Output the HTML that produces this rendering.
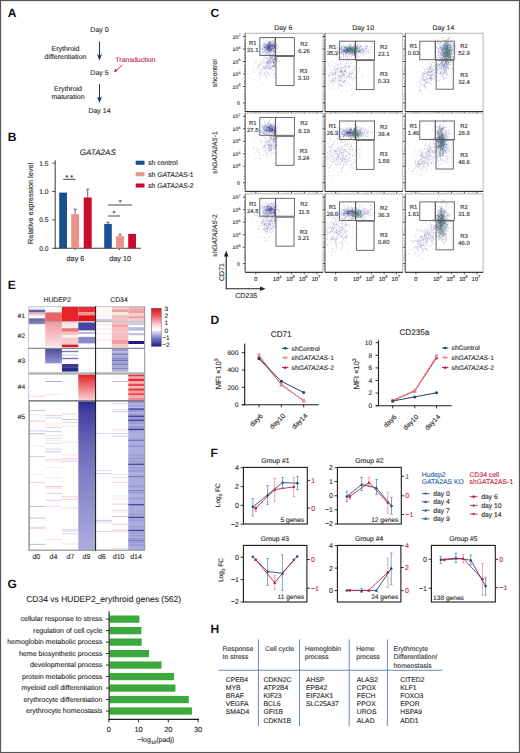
<!DOCTYPE html>
<html><head><meta charset="utf-8"><style>
html,body{margin:0;padding:0;background:#fff;}
body{width:520px;height:753px;overflow:hidden;}
svg{display:block;font-family:"Liberation Sans", sans-serif;text-rendering:geometricPrecision;}
</style></head><body>
<svg width="520" height="753" viewBox="0 0 520 753" fill="#2b2b2b">
<rect x="0" y="0" width="520" height="753" fill="#fff"/>
<text x="7.80" y="17.40" font-size="12" font-weight="bold" fill="#111">A</text>
<text x="99.50" y="32.20" font-size="7" text-anchor="middle" stroke="#2b2b2b" stroke-width="0.12">Day 0</text>
<text x="65.50" y="50.80" font-size="7" text-anchor="middle" stroke="#2b2b2b" stroke-width="0.12">Erythroid</text>
<text x="65.50" y="58.50" font-size="7" text-anchor="middle" stroke="#2b2b2b" stroke-width="0.12">differentiation</text>
<line x1="99.50" y1="41.50" x2="99.50" y2="56.00" stroke="#1c3862" stroke-width="1.0" />
<path d="M97.0 54.3 L99.5 60.5 L102.0 54.3 L99.5 55.6 Z" stroke="none" stroke-width="1" fill="#1c3862" />
<text x="99.50" y="74.60" font-size="7" text-anchor="middle" stroke="#2b2b2b" stroke-width="0.12">Day 5</text>
<text x="135.40" y="62.30" font-size="7" text-anchor="middle" fill="#c41e55" stroke="#c41e55" stroke-width="0.12">Transduction</text>
<line x1="122.30" y1="65.00" x2="116.00" y2="70.60" stroke="#c41e55" stroke-width="0.9" />
<path d="M114.2 72.2 L115.2 68.6 L117.6 71.0 Z" stroke="none" stroke-width="1" fill="#c41e55" />
<text x="68.00" y="91.20" font-size="7" text-anchor="middle" stroke="#2b2b2b" stroke-width="0.12">Erythroid</text>
<text x="68.00" y="98.80" font-size="7" text-anchor="middle" stroke="#2b2b2b" stroke-width="0.12">maturation</text>
<line x1="99.50" y1="84.20" x2="99.50" y2="98.50" stroke="#1c3862" stroke-width="1.0" />
<path d="M97.0 96.8 L99.5 103.0 L102.0 96.8 L99.5 98.1 Z" stroke="none" stroke-width="1" fill="#1c3862" />
<text x="99.50" y="112.60" font-size="7" text-anchor="middle" stroke="#2b2b2b" stroke-width="0.12">Day 14</text>
<text x="7.80" y="141.20" font-size="12" font-weight="bold" fill="#111">B</text>
<text x="97.80" y="155.00" font-size="8.1" text-anchor="middle" stroke="#2b2b2b" stroke-width="0.12" font-style="italic">GATA2AS</text>
<line x1="55.20" y1="160.30" x2="55.20" y2="248.80" stroke="#3a3a3a" stroke-width="1" />
<line x1="54.70" y1="248.30" x2="140.80" y2="248.30" stroke="#3a3a3a" stroke-width="1.1" />
<line x1="52.30" y1="163.10" x2="55.20" y2="163.10" stroke="#3a3a3a" stroke-width="0.9" />
<text x="48.50" y="165.50" font-size="6.7" text-anchor="end" stroke="#2b2b2b" stroke-width="0.12">1.5</text>
<line x1="52.30" y1="191.50" x2="55.20" y2="191.50" stroke="#3a3a3a" stroke-width="0.9" />
<text x="48.50" y="193.90" font-size="6.7" text-anchor="end" stroke="#2b2b2b" stroke-width="0.12">1.0</text>
<line x1="52.30" y1="219.90" x2="55.20" y2="219.90" stroke="#3a3a3a" stroke-width="0.9" />
<text x="48.50" y="222.30" font-size="6.7" text-anchor="end" stroke="#2b2b2b" stroke-width="0.12">0.5</text>
<line x1="52.30" y1="248.30" x2="55.20" y2="248.30" stroke="#3a3a3a" stroke-width="0.9" />
<text x="48.50" y="250.70" font-size="6.7" text-anchor="end" stroke="#2b2b2b" stroke-width="0.12">0.0</text>
<line x1="75.20" y1="248.30" x2="75.20" y2="250.10" stroke="#3a3a3a" stroke-width="0.9" />
<line x1="119.40" y1="248.30" x2="119.40" y2="250.10" stroke="#3a3a3a" stroke-width="0.9" />
<text x="75.50" y="260.90" font-size="7.3" text-anchor="middle" stroke="#2b2b2b" stroke-width="0.12">day 6</text>
<text x="120.10" y="260.90" font-size="7.3" text-anchor="middle" stroke="#2b2b2b" stroke-width="0.12">day 10</text>
<text x="33.40" y="203.40" font-size="7.35" text-anchor="middle" stroke="#2b2b2b" stroke-width="0.12" transform="rotate(-90 33.40 203.40)">Relative expression level</text>
<rect x="59.20" y="192.60" width="7.80" height="55.70" fill="#1b4f91" />
<rect x="71.20" y="214.20" width="7.90" height="34.10" fill="#e8928a" />
<line x1="75.15" y1="214.20" x2="75.15" y2="209.20" stroke="#444" stroke-width="0.8" />
<line x1="73.55" y1="209.20" x2="76.75" y2="209.20" stroke="#444" stroke-width="0.8" />
<rect x="83.70" y="197.50" width="8.00" height="50.80" fill="#cc0a2e" />
<line x1="87.70" y1="197.50" x2="87.70" y2="189.20" stroke="#444" stroke-width="0.8" />
<line x1="86.10" y1="189.20" x2="89.30" y2="189.20" stroke="#444" stroke-width="0.8" />
<rect x="104.20" y="223.90" width="7.60" height="24.40" fill="#1b4f91" />
<line x1="108.00" y1="223.90" x2="108.00" y2="222.30" stroke="#444" stroke-width="0.8" />
<line x1="106.40" y1="222.30" x2="109.60" y2="222.30" stroke="#444" stroke-width="0.8" />
<rect x="116.00" y="236.00" width="8.00" height="12.30" fill="#e8928a" />
<line x1="120.00" y1="236.00" x2="120.00" y2="234.30" stroke="#444" stroke-width="0.8" />
<line x1="118.40" y1="234.30" x2="121.60" y2="234.30" stroke="#444" stroke-width="0.8" />
<rect x="128.20" y="233.90" width="7.80" height="14.40" fill="#cc0a2e" />
<line x1="63.20" y1="179.30" x2="75.50" y2="179.30" stroke="#333" stroke-width="0.9" />
<text x="69.30" y="179.60" font-size="7.2" text-anchor="middle" stroke="#2b2b2b" stroke-width="0.12">* *</text>
<line x1="108.10" y1="205.00" x2="132.20" y2="205.00" stroke="#333" stroke-width="0.9" />
<text x="120.10" y="205.20" font-size="7.4" text-anchor="middle" stroke="#2b2b2b" stroke-width="0.12">*</text>
<line x1="108.10" y1="216.00" x2="120.00" y2="216.00" stroke="#333" stroke-width="0.9" />
<text x="114.00" y="216.40" font-size="7.4" text-anchor="middle" stroke="#2b2b2b" stroke-width="0.12">*</text>
<rect x="135.70" y="160.70" width="8.80" height="4.10" fill="#1b4f91" />
<text x="148.20" y="165.30" font-size="6.8" stroke="#2b2b2b" stroke-width="0.12">sh control</text>
<rect x="135.70" y="172.20" width="8.80" height="4.10" fill="#e8928a" />
<text x="148.20" y="176.80" font-size="6.8" stroke="#2b2b2b" stroke-width="0.12">sh <tspan font-style="italic">GATA2AS</tspan>-1</text>
<rect x="135.70" y="183.50" width="8.80" height="4.10" fill="#cc0a2e" />
<text x="148.20" y="188.10" font-size="6.8" stroke="#2b2b2b" stroke-width="0.12">sh <tspan font-style="italic">GATA2AS</tspan>-2</text>
<text x="210.60" y="17.40" font-size="12" font-weight="bold" fill="#111">C</text>
<text x="283.30" y="29.80" font-size="6.85" text-anchor="middle" stroke="#2b2b2b" stroke-width="0.12">Day 6</text>
<text x="363.10" y="29.80" font-size="6.85" text-anchor="middle" stroke="#2b2b2b" stroke-width="0.12">Day 10</text>
<text x="443.40" y="29.80" font-size="6.85" text-anchor="middle" stroke="#2b2b2b" stroke-width="0.12">Day 14</text>
<rect x="245.20" y="33.20" width="77.80" height="78.40" fill="#fff" stroke="#a0a0a0" stroke-width="0.8" />
<path d="M269.2 47.1h0M270.4 43.5h0M268.1 48.3h0M265.6 44.4h0M267.4 51.8h0M265.2 52.0h0M269.4 51.4h0M274.6 45.1h0M267.2 49.8h0M266.7 47.7h0M271.2 46.0h0M270.6 46.3h0M269.6 43.2h0M265.5 43.4h0M269.1 50.4h0M272.0 46.6h0M263.8 49.4h0M267.4 51.5h0M261.6 43.1h0M264.0 45.9h0M261.8 49.6h0M268.3 49.2h0M264.1 47.3h0M270.3 51.0h0M269.8 48.3h0M268.5 43.7h0M259.1 46.3h0M267.0 50.8h0M269.0 49.3h0M269.7 41.1h0M263.1 53.4h0M267.3 50.1h0M265.3 53.0h0M266.0 47.0h0M273.4 45.9h0M266.0 44.4h0M269.1 56.4h0M272.7 46.5h0M266.9 53.6h0M268.8 45.6h0M269.6 48.2h0M269.5 41.9h0M264.3 47.2h0M269.5 51.0h0M274.6 42.5h0M263.0 52.5h0M272.6 48.3h0M269.7 44.0h0M266.6 46.4h0M277.2 44.7h0M272.2 47.0h0M264.4 46.7h0M269.5 44.8h0M271.5 46.3h0M268.4 44.3h0M271.9 42.8h0M268.9 47.6h0M271.9 50.3h0M275.0 41.4h0M266.5 48.2h0M270.0 45.3h0M267.3 44.7h0M269.7 50.5h0M264.5 46.8h0M266.9 53.2h0M268.4 45.2h0M272.8 48.4h0M273.8 46.1h0M263.9 46.0h0M266.0 50.3h0M271.8 46.7h0M261.2 51.2h0M267.3 47.9h0M268.8 44.0h0M274.2 46.5h0M272.0 47.4h0M267.9 51.2h0M267.7 44.9h0M268.2 47.7h0M275.3 40.7h0M267.5 50.2h0M268.0 44.2h0M270.6 41.3h0M268.7 47.6h0M268.4 51.6h0M264.7 43.3h0M269.2 44.0h0M267.4 45.5h0M273.9 43.0h0M271.8 48.5h0M269.1 44.9h0M271.9 44.8h0M267.8 49.9h0M273.4 44.4h0M269.2 49.2h0M271.5 44.0h0M264.0 44.4h0M270.6 41.2h0M262.4 55.3h0M261.1 48.0h0M268.0 48.7h0M265.6 48.2h0M269.9 48.1h0M278.2 46.3h0M265.9 54.8h0M266.7 44.6h0M270.0 42.2h0M271.2 43.9h0M268.5 43.2h0M268.4 50.4h0M272.0 50.0h0M271.3 44.0h0M265.1 43.7h0M268.9 46.5h0M269.3 52.4h0M265.0 38.8h0M270.2 49.3h0M265.8 44.6h0M273.1 50.6h0M270.0 43.9h0M269.6 46.7h0M266.8 42.9h0M268.7 44.4h0M261.2 53.9h0M264.7 51.3h0M270.7 46.1h0M260.7 46.2h0M272.6 40.6h0M262.2 47.6h0M272.2 47.1h0M265.8 48.0h0M272.3 46.8h0M269.7 43.8h0M263.1 48.5h0M274.2 46.7h0M275.0 51.1h0M268.9 54.1h0M268.1 47.4h0M268.6 45.2h0M265.3 48.2h0M273.6 44.8h0M267.0 45.5h0M269.0 47.5h0M266.0 44.7h0M266.7 50.2h0M264.1 48.2h0M274.2 47.7h0M268.6 47.2h0M273.1 44.5h0M269.3 44.4h0M266.4 47.4h0M267.9 46.0h0M267.0 48.9h0M269.2 47.7h0M267.7 43.3h0M268.0 48.1h0M263.7 44.1h0M266.0 46.2h0M275.8 45.5h0M266.5 41.1h0M265.0 48.8h0M270.5 48.0h0M274.8 46.2h0M263.4 47.3h0M268.4 46.6h0M266.7 44.8h0M262.2 48.0h0M272.1 45.3h0M269.1 48.0h0M269.5 43.5h0M266.2 49.0h0M271.0 47.9h0M267.0 47.6h0M268.6 46.3h0M264.8 50.4h0M264.3 42.8h0M274.5 48.3h0M267.2 48.9h0M270.4 48.5h0M269.1 49.0h0M267.4 45.8h0M267.2 47.2h0M271.7 49.4h0M268.0 49.4h0M268.6 48.5h0M269.3 42.5h0M273.9 48.7h0M271.9 51.2h0M270.7 50.9h0M266.9 48.9h0M263.7 43.3h0M273.0 50.3h0M273.1 46.5h0M268.6 39.1h0M271.4 48.6h0M272.3 42.0h0M272.5 42.7h0M272.9 44.9h0M267.4 52.4h0M275.3 45.4h0M264.2 49.5h0M272.6 53.1h0M271.2 52.8h0M272.7 46.7h0M276.7 45.6h0M275.1 42.3h0M264.6 46.1h0M262.4 50.3h0M272.5 48.5h0M265.1 48.8h0M269.2 51.1h0M272.6 44.5h0M262.6 48.7h0M260.8 51.7h0M270.2 49.5h0M269.4 51.3h0M268.2 49.2h0M269.4 46.6h0M265.8 49.5h0M263.1 45.3h0M268.5 42.2h0M265.3 50.4h0M262.6 48.7h0M271.2 48.4h0M269.0 41.9h0M270.8 46.2h0M265.2 46.3h0M266.6 45.2h0M265.2 40.7h0M265.7 47.2h0M270.0 50.6h0M266.1 49.6h0M270.6 45.4h0M270.6 47.4h0M277.3 48.9h0M263.6 39.2h0M272.8 46.7h0M268.8 49.6h0M269.1 50.0h0M263.4 54.5h0M267.4 51.9h0M272.2 48.3h0M268.9 48.8h0M269.5 50.3h0M268.0 46.1h0M273.8 46.8h0M269.1 50.8h0M260.4 56.0h0M266.4 47.6h0M261.3 48.9h0M256.2 50.7h0M267.1 52.7h0M274.5 46.7h0M269.4 52.7h0M264.5 45.2h0M265.4 47.7h0M273.7 46.2h0M269.8 50.3h0M269.4 51.3h0M269.0 42.6h0M269.4 44.5h0M272.4 48.3h0M271.4 45.1h0M270.1 42.3h0M265.0 52.0h0M271.2 49.0h0M266.5 49.9h0M273.6 45.3h0M264.1 52.1h0M268.6 47.0h0M269.2 51.5h0M263.9 45.5h0M276.1 43.6h0M275.0 47.4h0M267.3 45.6h0M272.3 49.5h0M270.7 48.3h0M258.7 46.4h0M270.2 47.8h0M269.0 46.5h0M269.5 50.8h0M264.9 46.3h0M268.1 46.4h0M268.5 52.0h0M274.0 54.5h0M270.5 54.3h0M269.2 47.9h0M275.3 47.4h0M267.0 53.3h0M267.6 47.5h0M261.9 45.6h0M275.5 47.0h0M273.1 48.6h0M272.9 44.2h0M271.9 41.6h0M269.6 42.7h0M270.1 49.8h0M268.2 45.3h0M268.4 47.4h0M269.4 48.4h0M275.2 48.8h0M271.4 46.2h0M269.0 49.5h0M266.9 45.1h0M266.7 46.9h0M275.6 43.1h0M271.2 51.2h0M269.5 47.6h0M267.8 45.4h0M264.8 47.3h0M268.9 47.0h0M272.7 49.5h0M267.6 42.5h0M268.3 44.3h0M268.3 46.6h0M269.6 56.3h0M262.8 52.1h0M268.3 47.5h0M265.8 50.7h0M272.7 54.1h0M266.1 47.4h0M271.5 46.0h0M275.3 50.8h0M267.9 49.6h0M266.8 50.4h0M270.0 45.8h0M269.2 54.3h0M265.2 54.3h0M271.0 49.3h0M277.3 48.6h0M268.2 40.9h0M268.4 50.0h0M265.0 47.8h0M270.5 49.0h0M264.2 50.9h0M264.8 47.3h0M274.3 41.0h0M265.6 49.6h0M273.5 44.4h0M275.3 45.5h0M270.2 45.4h0M271.4 46.1h0M277.0 38.4h0M268.4 52.0h0M266.8 49.0h0M263.8 52.5h0M269.4 54.5h0M275.1 46.7h0M273.0 40.8h0M265.4 45.3h0M265.8 44.2h0M267.2 46.3h0M270.4 47.8h0M268.4 41.0h0M270.1 48.7h0M270.4 42.3h0M268.0 48.9h0M269.0 47.4h0M270.0 46.5h0M268.9 47.5h0M271.2 45.5h0M276.7 44.3h0M271.6 41.5h0M269.4 47.6h0M262.5 55.2h0M270.8 54.2h0M261.4 53.6h0M263.6 51.1h0M272.6 44.8h0M272.0 52.2h0M268.6 47.6h0M262.4 48.7h0M267.7 47.0h0M266.5 48.5h0M271.7 45.8h0M278.2 45.8h0M270.1 43.8h0M266.1 47.0h0M264.5 56.3h0M269.0 47.5h0M269.9 62.2h0M272.6 66.7h0M273.2 49.2h0M266.8 67.4h0M270.0 57.1h0M273.9 65.7h0M271.6 60.6h0M271.1 57.3h0M276.1 61.6h0M268.3 58.5h0M271.0 57.3h0M268.9 54.8h0M275.9 59.6h0M263.9 68.0h0M268.4 68.7h0M268.8 62.3h0M273.0 66.6h0M272.8 61.3h0M275.6 59.4h0M265.2 67.8h0M273.3 66.5h0M269.7 60.9h0M268.4 62.0h0M272.6 60.5h0M267.5 64.2h0M263.4 60.9h0M269.4 68.2h0M265.5 62.6h0M268.4 65.7h0M272.0 57.3h0M271.8 63.6h0M276.3 61.6h0M270.0 60.3h0M265.3 75.3h0M268.1 65.4h0M267.5 73.0h0M266.4 69.2h0M272.2 58.0h0M268.4 61.3h0M263.8 67.8h0M273.1 61.4h0M270.3 62.6h0M271.9 60.1h0M271.1 52.5h0M272.9 60.0h0M270.8 50.5h0M275.0 62.1h0M272.2 57.7h0M272.1 57.8h0M272.1 60.4h0M265.6 66.0h0M270.1 55.0h0M269.8 53.5h0M271.4 56.3h0M265.9 53.7h0M276.4 54.4h0M271.1 70.4h0M266.5 58.7h0M264.7 68.4h0M269.7 55.5h0M270.4 63.9h0M268.2 61.7h0M271.0 61.7h0M268.5 66.2h0M272.6 70.5h0M268.2 64.4h0M270.6 62.9h0M274.1 55.5h0M279.7 61.0h0M267.2 62.6h0M269.1 67.3h0M267.8 63.4h0M273.4 70.0h0M266.7 53.7h0M269.0 61.4h0M270.6 66.9h0M267.3 62.0h0M267.3 59.6h0M269.0 61.6h0M263.3 58.4h0M265.6 65.2h0M269.3 75.7h0M271.2 68.0h0M270.0 56.7h0M264.5 60.5h0M269.1 60.8h0M273.5 66.2h0M272.6 57.0h0M270.4 58.7h0M267.6 68.3h0M272.9 65.7h0M268.7 61.2h0M266.6 58.3h0M267.9 55.4h0M275.8 56.1h0M271.5 50.1h0M274.8 64.2h0M269.0 59.7h0M274.0 63.2h0M268.6 73.0h0M270.1 68.6h0M279.4 52.1h0M273.4 65.5h0M268.9 69.1h0M270.4 58.4h0M271.8 56.7h0M274.9 59.6h0M269.0 54.6h0M264.6 72.8h0M269.7 50.0h0M270.8 56.4h0M271.1 60.6h0M275.3 58.8h0M271.8 62.5h0M273.5 62.3h0M266.8 62.9h0M273.7 66.7h0M278.0 47.5h0M273.4 60.9h0M271.6 58.0h0M271.2 62.6h0M277.0 60.4h0M267.5 58.9h0M270.3 59.0h0M272.3 65.6h0M273.3 62.8h0M269.2 59.4h0M271.8 72.4h0M269.7 74.8h0M271.1 54.3h0M270.2 64.0h0M266.7 77.2h0M270.6 66.3h0M273.8 61.9h0M267.3 62.7h0M269.9 59.8h0M273.0 60.0h0M267.0 61.1h0M271.3 65.8h0M267.0 61.9h0M274.7 58.0h0M278.8 52.1h0M277.8 58.6h0M269.9 57.9h0M273.3 60.0h0M271.1 67.5h0M271.1 64.0h0M276.1 62.3h0M266.1 66.2h0M274.4 60.8h0M270.5 61.6h0M275.6 58.3h0M271.4 65.9h0M268.3 57.6h0M271.7 68.8h0M273.3 61.2h0M270.8 58.2h0M272.4 58.8h0M268.9 59.5h0M263.2 66.6h0M273.9 56.9h0M273.1 67.0h0M271.2 57.9h0M270.9 50.2h0M274.3 56.7h0M269.1 52.4h0M268.2 63.2h0M270.0 68.1h0M274.9 63.6h0M265.8 57.5h0M274.9 56.2h0M268.5 72.6h0M266.8 65.7h0M275.1 60.1h0M270.4 67.9h0M266.1 77.2h0M269.4 69.6h0M274.0 61.4h0M274.9 62.1h0M269.2 66.1h0M272.1 58.3h0M273.2 55.5h0M268.4 63.5h0M271.9 56.6h0M270.6 61.9h0M268.8 63.6h0M269.0 75.3h0M270.9 57.6h0M270.8 61.5h0M268.7 62.3h0M269.2 65.2h0M274.6 65.9h0M271.4 59.3h0M273.8 56.4h0M274.9 51.6h0M272.8 56.4h0M278.6 61.3h0M267.8 63.8h0M273.5 55.5h0M269.6 60.8h0M277.2 59.3h0M276.7 62.0h0M263.9 62.3h0M267.3 62.5h0M273.0 51.6h0M273.5 54.9h0M273.3 69.5h0M270.5 50.8h0M272.3 59.7h0M273.0 62.3h0M259.5 65.0h0M257.6 67.0h0M260.9 62.7h0M261.2 69.3h0M260.8 75.2h0M252.8 68.8h0M260.5 62.0h0M257.4 81.3h0M258.7 66.6h0M262.2 60.7h0M264.1 68.4h0M265.2 69.0h0M259.0 65.1h0M265.4 71.1h0M266.5 63.3h0M266.3 60.9h0M267.5 66.7h0M260.5 72.9h0M260.4 64.9h0M264.9 68.6h0M255.1 70.1h0M262.1 84.0h0M258.8 65.1h0M259.5 76.8h0M253.4 71.0h0M257.2 69.1h0M261.1 72.4h0M265.2 71.7h0M265.7 73.7h0M260.8 70.2h0M260.3 65.1h0M257.5 66.6h0M263.0 70.4h0M260.1 72.0h0M263.9 75.1h0M269.1 67.4h0M261.1 74.3h0M254.5 79.6h0M257.3 70.7h0M254.6 62.3h0M255.8 63.6h0M267.1 57.6h0M262.2 76.9h0M254.4 66.1h0M264.1 74.1h0M266.9 69.3h0M259.6 78.7h0M258.2 75.2h0M259.7 68.2h0M262.5 66.5h0M264.1 67.5h0M266.5 67.1h0M266.7 63.0h0M266.5 65.9h0M267.3 75.0h0M264.2 57.3h0M254.3 72.4h0M260.6 63.2h0M262.6 68.7h0M259.5 73.7h0M265.3 66.2h0M259.6 73.3h0M257.0 60.8h0M267.7 71.9h0M264.2 63.5h0M262.2 71.4h0M265.4 67.6h0M266.0 51.5h0M262.7 63.3h0M250.1 73.9h0" stroke="#6a6cb4" stroke-opacity="0.5" stroke-width="0.7" stroke-linecap="round" fill="none"/>
<path d="M275.9 50.5h0M275.0 59.6h0M275.0 55.5h0M273.8 55.4h0M275.8 58.1h0M276.1 48.6h0M274.8 50.0h0M274.6 39.4h0M273.7 49.7h0M275.4 41.8h0M276.7 52.0h0M275.3 45.5h0M275.7 54.0h0M275.2 56.8h0M274.1 41.8h0M275.7 46.7h0M273.9 45.7h0M274.7 59.2h0M275.0 66.9h0M275.4 60.0h0M275.1 50.4h0M275.1 64.9h0M274.3 41.1h0M273.9 65.2h0M274.8 48.0h0M273.9 74.4h0M273.9 65.8h0M274.5 44.9h0M273.5 54.6h0M273.9 51.5h0M273.7 54.0h0M274.9 41.3h0M275.1 47.7h0M276.2 56.9h0M273.8 55.0h0M274.3 62.8h0M275.4 53.8h0M274.6 72.0h0M274.6 47.5h0M276.0 55.3h0M274.6 37.9h0M274.0 43.2h0M273.9 63.8h0M275.0 45.7h0M275.0 57.4h0M273.8 52.7h0M274.1 44.8h0M275.2 50.4h0M275.2 49.1h0M274.3 49.3h0M275.2 59.2h0M275.2 58.4h0M273.6 48.6h0M274.6 45.9h0M275.1 55.5h0M274.4 52.4h0M273.3 61.4h0M274.6 74.4h0M275.3 59.9h0M275.9 52.9h0M273.3 51.8h0M276.6 46.3h0M274.0 45.9h0M275.5 45.2h0M275.7 50.0h0M275.5 49.8h0M274.9 59.1h0M274.0 50.0h0M275.2 51.6h0M274.3 43.5h0M273.0 66.4h0M276.8 57.3h0M275.3 67.5h0M276.1 59.6h0M274.2 65.1h0M275.8 51.2h0M275.9 58.9h0M275.9 74.8h0M274.8 43.4h0M274.0 62.6h0M274.7 66.8h0M273.3 56.6h0M273.6 59.3h0M274.9 63.4h0M274.1 47.8h0M274.7 56.5h0M274.7 46.1h0M276.2 47.7h0M275.7 48.1h0M274.8 52.0h0M275.6 54.4h0M274.3 56.9h0M274.6 41.6h0M275.4 69.4h0M273.9 62.7h0M274.6 59.1h0M273.9 50.3h0M274.9 52.5h0M275.9 57.7h0M274.3 56.6h0M275.0 39.4h0M274.2 59.3h0M274.0 77.1h0M273.9 38.1h0M275.8 61.4h0M276.5 56.2h0M275.1 52.3h0M274.3 64.5h0M275.3 43.5h0M270.6 45.8h0M274.0 47.1h0M269.7 45.1h0M269.1 47.8h0M270.5 49.1h0M269.1 45.4h0M274.2 46.7h0M267.9 49.7h0M272.4 46.1h0M267.0 47.6h0M271.9 44.9h0M269.9 45.4h0M263.6 46.0h0M270.2 52.0h0M267.5 46.3h0M269.1 46.0h0M274.2 46.0h0M267.3 46.8h0M267.5 48.6h0M273.9 47.6h0M270.5 51.7h0M274.2 47.7h0M271.0 50.4h0M267.9 47.8h0M270.0 48.5h0M273.4 44.0h0M272.6 46.9h0M270.2 47.0h0M270.3 46.7h0M269.9 42.5h0M268.7 49.1h0M275.2 46.3h0M270.2 46.2h0M267.3 46.6h0M269.0 46.7h0M272.1 48.1h0M271.8 44.4h0M269.8 45.2h0M268.5 47.8h0M270.3 47.5h0M265.9 46.4h0M266.9 45.9h0M272.3 45.4h0M269.0 47.1h0M271.2 49.8h0M273.3 44.9h0M271.9 50.6h0M270.3 49.1h0M275.7 46.2h0M271.9 48.9h0M269.3 44.0h0M272.1 43.4h0M271.2 44.4h0M268.0 46.3h0M270.4 46.5h0M269.8 46.1h0M265.1 47.4h0M269.8 42.5h0M269.5 48.3h0M269.1 44.1h0M266.0 45.7h0M269.3 46.3h0M270.1 44.7h0M270.5 44.2h0M267.3 45.0h0M271.8 47.2h0M267.1 48.5h0M269.6 48.4h0M273.6 45.0h0M268.4 45.5h0M268.9 45.2h0M273.0 48.2h0M269.2 42.7h0M269.4 49.9h0M270.8 46.1h0M272.9 45.5h0M264.5 47.9h0M268.1 49.5h0M267.6 48.0h0M267.4 49.5h0M268.0 47.5h0M268.0 49.9h0M271.0 49.9h0M267.9 47.0h0M270.5 50.4h0M271.2 47.6h0M268.3 47.4h0M270.5 45.2h0M274.4 46.6h0M271.0 48.9h0" stroke="#2e3070" stroke-opacity="0.5" stroke-width="0.7" stroke-linecap="round" fill="none"/>
<rect x="259.80" y="37.60" width="15.70" height="17.90" fill="none" stroke="#5a5a5a" stroke-width="0.9" />
<rect x="275.50" y="37.60" width="18.90" height="17.90" fill="none" stroke="#5a5a5a" stroke-width="0.9" />
<rect x="276.00" y="56.50" width="18.00" height="29.00" fill="none" stroke="#5a5a5a" stroke-width="0.9" />
<text x="252.80" y="45.00" font-size="5.9" text-anchor="middle" stroke="#2b2b2b" stroke-width="0.12">R1</text>
<text x="252.80" y="52.20" font-size="5.9" text-anchor="middle" stroke="#2b2b2b" stroke-width="0.12">31.1</text>
<text x="304.00" y="45.50" font-size="5.9" text-anchor="middle" stroke="#2b2b2b" stroke-width="0.12">R2</text>
<text x="304.00" y="52.80" font-size="5.9" text-anchor="middle" stroke="#2b2b2b" stroke-width="0.12">6.26</text>
<text x="303.60" y="73.40" font-size="5.9" text-anchor="middle" stroke="#2b2b2b" stroke-width="0.12">R3</text>
<text x="303.60" y="79.70" font-size="5.9" text-anchor="middle" stroke="#2b2b2b" stroke-width="0.12">3.10</text>
<line x1="245.20" y1="33.20" x2="245.20" y2="111.60" stroke="#555" stroke-width="0.8" />
<line x1="245.20" y1="111.60" x2="323.00" y2="111.60" stroke="#222" stroke-width="1.0" />
<line x1="243.00" y1="36.50" x2="245.20" y2="36.50" stroke="#222" stroke-width="0.8" />
<line x1="244.00" y1="40.30" x2="245.20" y2="40.30" stroke="#444" stroke-width="0.5" />
<line x1="244.00" y1="43.00" x2="245.20" y2="43.00" stroke="#444" stroke-width="0.5" />
<line x1="244.00" y1="44.90" x2="245.20" y2="44.90" stroke="#444" stroke-width="0.5" />
<line x1="244.00" y1="46.50" x2="245.20" y2="46.50" stroke="#444" stroke-width="0.5" />
<text x="240.40" y="38.50" font-size="5.2" text-anchor="end" stroke="#2b2b2b" stroke-width="0.12">10<tspan dy="-2.2" font-size="3.6">7</tspan></text>
<line x1="243.00" y1="49.00" x2="245.20" y2="49.00" stroke="#222" stroke-width="0.8" />
<line x1="244.00" y1="52.80" x2="245.20" y2="52.80" stroke="#444" stroke-width="0.5" />
<line x1="244.00" y1="55.50" x2="245.20" y2="55.50" stroke="#444" stroke-width="0.5" />
<line x1="244.00" y1="57.40" x2="245.20" y2="57.40" stroke="#444" stroke-width="0.5" />
<line x1="244.00" y1="59.00" x2="245.20" y2="59.00" stroke="#444" stroke-width="0.5" />
<text x="240.40" y="51.00" font-size="5.2" text-anchor="end" stroke="#2b2b2b" stroke-width="0.12">10<tspan dy="-2.2" font-size="3.6">6</tspan></text>
<line x1="243.00" y1="61.50" x2="245.20" y2="61.50" stroke="#222" stroke-width="0.8" />
<line x1="244.00" y1="65.30" x2="245.20" y2="65.30" stroke="#444" stroke-width="0.5" />
<line x1="244.00" y1="68.00" x2="245.20" y2="68.00" stroke="#444" stroke-width="0.5" />
<line x1="244.00" y1="69.90" x2="245.20" y2="69.90" stroke="#444" stroke-width="0.5" />
<line x1="244.00" y1="71.50" x2="245.20" y2="71.50" stroke="#444" stroke-width="0.5" />
<text x="240.40" y="63.50" font-size="5.2" text-anchor="end" stroke="#2b2b2b" stroke-width="0.12">10<tspan dy="-2.2" font-size="3.6">5</tspan></text>
<line x1="243.00" y1="74.00" x2="245.20" y2="74.00" stroke="#222" stroke-width="0.8" />
<line x1="244.00" y1="77.80" x2="245.20" y2="77.80" stroke="#444" stroke-width="0.5" />
<line x1="244.00" y1="80.50" x2="245.20" y2="80.50" stroke="#444" stroke-width="0.5" />
<line x1="244.00" y1="82.40" x2="245.20" y2="82.40" stroke="#444" stroke-width="0.5" />
<line x1="244.00" y1="84.00" x2="245.20" y2="84.00" stroke="#444" stroke-width="0.5" />
<text x="240.40" y="76.00" font-size="5.2" text-anchor="end" stroke="#2b2b2b" stroke-width="0.12">10<tspan dy="-2.2" font-size="3.6">4</tspan></text>
<line x1="243.00" y1="86.50" x2="245.20" y2="86.50" stroke="#222" stroke-width="0.8" />
<line x1="244.00" y1="90.30" x2="245.20" y2="90.30" stroke="#444" stroke-width="0.5" />
<line x1="244.00" y1="93.00" x2="245.20" y2="93.00" stroke="#444" stroke-width="0.5" />
<line x1="244.00" y1="94.90" x2="245.20" y2="94.90" stroke="#444" stroke-width="0.5" />
<text x="240.40" y="88.50" font-size="5.2" text-anchor="end" stroke="#2b2b2b" stroke-width="0.12">10<tspan dy="-2.2" font-size="3.6">3</tspan></text>
<line x1="244.00" y1="96.70" x2="245.20" y2="96.70" stroke="#222" stroke-width="0.5" />
<line x1="244.00" y1="99.20" x2="245.20" y2="99.20" stroke="#222" stroke-width="0.5" />
<line x1="243.00" y1="102.90" x2="245.20" y2="102.90" stroke="#222" stroke-width="0.8" />
<line x1="244.00" y1="105.70" x2="245.20" y2="105.70" stroke="#222" stroke-width="0.5" />
<line x1="244.00" y1="108.20" x2="245.20" y2="108.20" stroke="#222" stroke-width="0.5" />
<text x="239.80" y="104.90" font-size="5.2" text-anchor="end" stroke="#2b2b2b" stroke-width="0.12">0</text>
<line x1="255.80" y1="111.60" x2="255.80" y2="113.60" stroke="#222" stroke-width="0.8" />
<line x1="278.30" y1="111.60" x2="278.30" y2="113.60" stroke="#222" stroke-width="0.8" />
<line x1="291.50" y1="111.60" x2="291.50" y2="113.60" stroke="#222" stroke-width="0.8" />
<line x1="304.30" y1="111.60" x2="304.30" y2="113.60" stroke="#222" stroke-width="0.8" />
<line x1="316.90" y1="111.60" x2="316.90" y2="113.60" stroke="#222" stroke-width="0.8" />
<line x1="251.20" y1="111.60" x2="251.20" y2="112.70" stroke="#444" stroke-width="0.5" />
<line x1="253.20" y1="111.60" x2="253.20" y2="112.70" stroke="#444" stroke-width="0.5" />
<line x1="258.20" y1="111.60" x2="258.20" y2="112.70" stroke="#444" stroke-width="0.5" />
<line x1="260.20" y1="111.60" x2="260.20" y2="112.70" stroke="#444" stroke-width="0.5" />
<line x1="269.20" y1="111.60" x2="269.20" y2="112.70" stroke="#444" stroke-width="0.5" />
<line x1="273.20" y1="111.60" x2="273.20" y2="112.70" stroke="#444" stroke-width="0.5" />
<line x1="276.20" y1="111.60" x2="276.20" y2="112.70" stroke="#444" stroke-width="0.5" />
<line x1="283.20" y1="111.60" x2="283.20" y2="112.70" stroke="#444" stroke-width="0.5" />
<line x1="286.20" y1="111.60" x2="286.20" y2="112.70" stroke="#444" stroke-width="0.5" />
<line x1="288.20" y1="111.60" x2="288.20" y2="112.70" stroke="#444" stroke-width="0.5" />
<line x1="296.20" y1="111.60" x2="296.20" y2="112.70" stroke="#444" stroke-width="0.5" />
<line x1="299.20" y1="111.60" x2="299.20" y2="112.70" stroke="#444" stroke-width="0.5" />
<line x1="301.20" y1="111.60" x2="301.20" y2="112.70" stroke="#444" stroke-width="0.5" />
<line x1="309.20" y1="111.60" x2="309.20" y2="112.70" stroke="#444" stroke-width="0.5" />
<line x1="312.20" y1="111.60" x2="312.20" y2="112.70" stroke="#444" stroke-width="0.5" />
<line x1="314.20" y1="111.60" x2="314.20" y2="112.70" stroke="#444" stroke-width="0.5" />
<rect x="325.00" y="33.20" width="77.80" height="78.40" fill="#fff" stroke="#a0a0a0" stroke-width="0.8" />
<path d="M342.2 47.8h0M356.9 47.7h0M354.6 53.4h0M354.1 55.9h0M335.5 52.0h0M351.2 48.3h0M356.9 48.7h0M346.3 53.5h0M352.7 47.6h0M334.2 55.2h0M357.0 53.8h0M347.0 50.7h0M358.5 51.6h0M338.2 53.0h0M357.2 54.2h0M350.2 47.4h0M358.1 53.1h0M345.1 49.6h0M347.4 48.3h0M368.8 49.5h0M345.8 50.0h0M346.7 47.8h0M349.9 45.9h0M344.3 48.0h0M360.9 53.7h0M364.9 54.9h0M346.7 52.3h0M339.1 54.2h0M360.8 48.3h0M360.3 49.5h0M358.2 50.6h0M360.7 46.7h0M345.5 47.8h0M350.7 50.5h0M341.6 49.9h0M341.4 47.9h0M359.4 50.9h0M347.0 49.8h0M369.1 52.1h0M352.6 50.2h0M347.2 49.6h0M358.0 50.2h0M365.5 49.0h0M355.6 48.1h0M342.9 49.6h0M354.8 52.1h0M362.3 51.4h0M348.3 54.0h0M346.2 45.8h0M359.6 48.7h0M353.0 49.0h0M343.7 51.1h0M349.2 49.1h0M346.3 49.1h0M354.2 52.2h0M352.8 50.6h0M360.6 46.5h0M357.3 53.6h0M340.3 53.6h0M355.1 48.4h0M358.7 52.1h0M355.4 48.0h0M359.7 52.9h0M347.9 49.8h0M344.9 48.4h0M359.0 48.8h0M344.0 48.5h0M335.8 51.6h0M359.7 50.3h0M346.6 50.6h0M349.7 48.8h0M341.5 40.7h0M342.1 51.0h0M343.3 45.4h0M349.3 51.0h0M354.8 53.2h0M334.8 51.9h0M357.6 48.8h0M343.1 50.2h0M344.0 50.3h0M357.1 48.4h0M351.4 48.6h0M340.5 48.3h0M365.8 52.7h0M345.5 50.5h0M353.9 52.7h0M353.5 49.4h0M362.6 49.8h0M348.6 49.9h0M359.6 51.1h0M346.4 52.8h0M360.4 50.4h0M346.3 48.7h0M349.3 48.2h0M366.2 54.0h0M354.4 49.3h0M352.8 49.3h0M368.8 53.3h0M354.7 53.1h0M345.9 52.0h0M357.5 48.8h0M343.1 57.2h0M360.5 50.8h0M361.0 51.2h0M347.7 50.0h0M347.3 46.5h0M353.3 46.4h0M352.1 51.3h0M344.7 51.7h0M356.3 49.3h0M336.7 47.8h0M348.8 46.4h0M349.0 49.5h0M350.0 46.3h0M354.3 52.6h0M342.8 53.9h0M356.4 57.8h0M350.6 52.7h0M347.1 48.8h0M341.7 48.4h0M343.1 41.1h0M354.7 48.4h0M344.8 50.1h0M352.5 52.9h0M360.0 51.4h0M359.7 51.4h0M363.7 50.1h0M349.8 52.2h0M343.9 54.7h0M359.7 46.8h0M354.3 48.8h0M360.4 45.9h0M352.1 54.7h0M361.0 53.3h0M358.3 51.9h0M357.4 46.6h0M355.8 50.5h0M355.0 49.4h0M353.7 50.3h0M353.7 49.6h0M359.4 51.2h0M348.2 49.3h0M365.0 51.8h0M351.2 50.9h0M359.4 49.0h0M351.3 49.9h0M350.2 49.1h0M367.2 51.6h0M349.7 49.6h0M342.4 51.6h0M346.6 49.4h0M349.6 46.2h0M368.2 51.8h0M353.6 47.2h0M359.0 51.7h0M344.5 51.8h0M354.6 45.5h0M357.0 47.3h0M365.5 48.0h0M346.8 48.2h0M356.5 46.7h0M354.3 52.1h0M344.3 50.0h0M351.9 51.3h0M350.0 49.1h0M334.6 52.0h0M356.5 47.9h0M356.1 49.9h0M348.7 52.0h0M342.0 50.9h0M363.1 48.3h0M354.0 47.1h0M359.6 50.2h0M362.6 50.6h0M348.1 49.7h0M358.1 47.7h0M350.2 51.8h0M351.5 57.1h0M351.4 49.4h0M352.0 51.1h0M360.4 50.8h0M352.9 43.0h0M350.8 50.6h0M349.9 48.4h0M354.6 53.9h0M345.3 49.9h0M348.2 48.3h0M351.6 49.6h0M347.8 50.9h0M351.1 48.7h0M347.4 50.3h0M367.0 45.6h0M362.0 49.0h0M355.4 52.2h0M351.6 55.7h0M368.4 51.2h0M354.4 50.8h0M351.3 53.5h0M354.3 52.9h0M354.3 54.7h0M362.6 52.6h0M351.9 49.9h0M367.7 50.0h0M345.4 51.1h0M357.2 50.7h0M344.5 51.2h0M365.6 47.3h0M349.5 44.5h0M351.6 48.4h0M358.9 44.2h0M361.4 49.9h0M343.7 50.7h0M349.4 45.7h0M341.5 52.7h0M353.0 52.5h0M351.2 50.5h0M349.4 55.0h0M346.9 55.7h0M349.1 47.0h0M346.4 53.4h0M356.0 51.2h0M363.4 50.7h0M337.5 53.6h0M351.1 48.3h0M348.9 48.7h0M355.7 47.7h0M344.9 48.5h0M350.9 50.0h0M344.2 46.6h0M357.2 47.0h0M352.7 51.8h0M350.8 50.1h0M354.8 51.1h0M350.2 45.1h0M340.3 48.7h0M356.5 48.4h0M354.2 50.2h0M350.8 48.6h0M359.4 52.4h0M361.1 49.5h0M343.8 50.7h0M346.1 50.6h0M363.6 51.5h0M362.6 48.3h0M346.5 53.6h0M343.1 52.0h0M347.2 50.9h0M348.3 50.5h0M340.1 52.3h0M352.2 53.0h0M342.4 53.4h0M342.9 51.7h0M358.9 52.2h0M346.9 50.8h0M351.5 53.7h0M356.7 49.9h0M358.1 44.1h0M349.5 54.0h0M352.3 50.5h0M345.8 47.3h0M365.1 48.9h0M356.9 47.5h0M343.7 56.5h0M352.0 51.6h0M357.4 45.6h0M355.6 51.5h0M365.7 48.3h0M362.3 54.9h0M348.0 47.5h0M351.3 44.0h0M342.4 50.9h0M353.9 49.1h0M353.1 49.0h0M372.3 43.1h0M352.7 51.3h0M336.3 55.7h0M347.0 45.2h0M352.8 53.4h0M342.6 49.2h0M345.5 57.1h0M349.3 51.6h0M354.6 49.5h0M350.8 53.3h0M345.3 52.0h0M357.9 48.2h0M348.0 52.4h0M348.3 49.0h0M341.7 45.8h0M346.1 56.2h0M356.9 49.0h0M339.9 49.2h0M351.5 51.2h0M357.4 45.6h0M349.2 46.6h0M353.8 48.7h0M343.6 49.2h0M361.8 49.8h0M360.3 52.8h0M353.8 48.8h0M338.8 52.3h0M344.2 52.3h0M359.3 46.8h0M364.8 50.1h0M354.2 47.5h0M361.4 52.6h0M347.4 51.7h0M350.6 50.3h0M352.0 46.5h0M355.2 50.3h0M340.5 48.7h0M359.1 51.8h0M361.9 49.3h0M343.4 48.4h0M341.8 53.3h0M354.6 52.1h0M347.1 48.8h0M334.2 54.4h0M358.1 49.0h0M353.2 49.3h0M348.4 50.7h0M367.9 47.2h0M353.0 48.9h0M346.3 50.1h0M352.8 54.4h0M344.2 54.8h0M346.3 49.8h0M354.9 54.5h0M347.8 50.3h0M348.6 51.4h0M364.5 51.9h0M358.4 50.6h0M358.0 56.5h0M356.0 50.7h0M355.6 46.7h0M362.9 53.2h0M351.9 49.1h0M365.9 48.6h0M344.9 42.3h0M350.1 53.1h0M341.7 53.0h0M349.4 52.6h0M355.9 52.7h0M362.9 54.3h0M347.0 50.4h0M352.0 52.8h0M349.3 48.3h0M346.5 49.5h0M343.1 53.6h0M352.5 51.3h0M339.0 47.2h0M352.8 51.2h0M352.2 49.7h0M347.1 48.2h0M344.4 51.8h0M341.6 49.7h0M366.0 45.1h0M341.9 47.7h0M363.7 54.4h0M356.5 45.8h0M349.3 51.0h0M343.3 52.4h0M359.8 51.5h0M365.0 46.1h0M345.0 49.7h0M349.8 50.7h0M359.9 52.0h0M354.5 48.3h0M367.0 46.1h0M347.7 53.2h0M356.1 53.0h0M342.6 51.7h0M367.7 47.6h0M346.5 51.6h0M335.4 51.4h0M351.1 52.6h0M351.0 46.8h0M366.4 49.7h0M349.5 49.9h0M351.9 47.1h0M356.5 50.5h0M363.9 49.6h0M351.5 49.1h0M359.8 50.9h0M355.9 46.1h0M349.8 50.2h0M352.6 51.4h0M352.2 51.0h0M345.1 53.6h0M361.1 46.4h0M341.6 46.6h0M360.8 50.4h0M359.2 51.1h0M351.3 56.1h0M346.3 52.2h0M350.3 47.9h0M355.5 52.2h0M357.6 47.5h0M354.2 46.0h0M359.4 57.0h0M347.8 51.3h0M353.8 52.1h0M340.2 52.4h0M357.7 54.9h0M353.1 50.9h0M348.9 53.7h0M360.7 46.9h0M357.2 46.1h0M330.9 55.3h0M352.3 54.3h0M341.1 52.2h0M360.0 50.4h0M370.7 49.6h0M348.1 48.5h0M352.6 54.4h0M350.1 52.1h0M354.6 51.5h0M356.8 51.0h0M361.7 52.6h0M344.6 52.0h0M363.8 51.6h0M345.0 47.4h0M354.1 51.5h0M360.7 55.8h0M357.3 48.5h0M345.0 50.2h0M346.7 53.0h0M348.5 53.0h0M351.6 52.0h0M360.6 45.2h0M342.3 52.1h0M355.5 46.7h0M356.6 47.7h0M356.2 51.5h0M355.5 49.2h0M363.4 51.8h0M355.7 58.7h0M358.4 52.0h0M356.2 52.0h0M365.4 47.0h0M337.8 49.2h0M361.6 46.7h0M350.0 48.8h0M349.9 47.3h0M344.7 48.8h0M338.0 50.4h0M349.1 47.6h0M346.8 46.6h0M355.7 46.2h0M341.0 52.1h0M362.7 49.8h0M354.0 52.9h0M350.1 53.2h0M346.7 49.6h0M346.1 52.4h0M343.5 46.7h0M347.9 56.7h0M352.0 53.5h0M350.7 49.7h0M341.4 47.6h0M350.0 51.4h0M345.3 45.4h0M353.2 48.0h0M366.0 51.5h0M356.7 50.1h0M349.7 49.0h0M339.8 53.5h0M341.4 47.9h0M339.3 51.7h0M357.4 48.5h0M346.3 48.2h0M352.5 51.5h0M347.3 47.7h0M352.7 55.4h0M362.5 48.0h0M346.9 56.0h0M349.4 47.3h0M346.0 52.2h0M358.6 46.5h0M344.3 46.9h0M343.5 51.1h0M341.6 52.7h0M341.4 47.3h0M355.5 53.3h0M371.3 46.9h0M344.5 51.0h0M359.1 50.9h0M353.9 51.7h0M343.7 45.7h0M349.9 54.8h0M350.3 51.9h0M346.8 49.3h0M366.5 46.6h0M337.7 46.3h0M354.9 46.3h0M354.5 51.6h0M347.7 49.5h0M353.1 47.0h0M358.6 48.4h0M353.1 54.5h0M355.1 49.1h0M357.2 48.3h0M336.8 54.8h0M363.1 50.9h0M369.1 49.4h0M359.4 48.1h0M359.6 45.5h0M341.4 47.6h0M351.1 48.9h0M345.9 49.9h0M347.6 51.4h0M359.3 51.3h0M346.0 51.2h0M351.0 50.9h0M337.7 48.2h0M350.8 44.3h0M352.7 48.7h0M346.7 47.9h0M346.6 48.7h0M366.1 48.6h0M342.9 47.3h0M329.4 63.5h0M359.4 84.1h0M337.8 65.5h0M358.7 73.5h0M345.6 70.1h0M341.6 61.6h0M345.0 71.5h0M346.4 78.4h0M351.0 72.1h0M344.7 80.4h0M342.2 71.6h0M342.5 74.1h0M352.5 70.6h0M347.9 76.0h0M332.5 88.1h0M335.6 77.2h0M343.8 75.3h0M335.7 70.3h0M337.8 69.2h0M332.9 85.1h0M338.8 66.6h0M344.6 67.5h0M349.5 72.8h0M341.1 71.2h0M358.6 86.4h0M340.4 57.8h0M368.1 74.5h0M349.5 78.5h0M345.2 66.0h0M336.8 70.1h0M339.7 85.7h0M342.5 67.7h0M357.3 61.9h0M329.3 81.9h0M357.2 83.5h0M338.9 72.0h0M347.2 58.3h0M342.2 72.7h0M338.1 82.3h0M346.8 73.4h0M341.8 71.5h0M331.3 71.9h0M349.0 83.8h0M346.9 83.7h0M346.1 58.9h0M349.6 67.0h0M350.4 85.8h0M340.8 71.7h0M329.5 65.7h0M329.2 75.2h0M352.5 72.5h0M347.0 73.0h0M341.9 70.8h0M337.3 72.3h0M341.3 71.0h0M341.2 76.5h0M338.1 68.8h0M335.1 72.7h0M359.4 71.7h0M342.9 83.1h0M335.9 77.2h0M329.9 74.3h0M334.8 78.4h0M347.1 76.5h0M347.4 81.2h0M339.1 77.9h0M341.4 86.7h0M338.4 83.8h0M331.6 74.7h0M352.1 70.4h0M344.2 80.1h0M362.0 76.1h0M334.6 74.1h0M339.8 64.0h0M348.5 60.8h0M338.9 76.8h0M329.2 80.5h0M332.9 80.5h0M341.9 65.2h0M343.9 81.2h0M340.2 70.5h0M349.5 76.2h0M349.4 76.4h0M343.7 68.4h0M341.2 70.1h0M338.9 59.9h0M345.7 67.4h0M348.8 61.0h0M341.5 77.2h0M344.8 74.3h0M338.2 80.8h0M329.0 77.7h0M332.5 70.5h0M347.5 76.1h0M344.8 71.2h0M354.5 77.3h0M341.5 76.4h0M348.4 66.7h0M352.2 73.3h0M349.5 73.9h0M335.8 72.5h0M339.4 80.6h0M342.1 86.0h0M332.6 72.3h0M345.0 71.4h0M349.7 57.8h0M336.9 73.6h0M357.8 69.8h0M338.5 59.4h0M339.3 76.4h0M339.0 78.5h0M335.0 69.6h0M344.6 71.3h0M341.2 67.5h0M355.1 78.3h0M346.2 63.2h0M345.6 71.6h0M339.1 87.9h0M329.0 75.5h0M340.2 77.5h0M333.8 73.8h0M349.1 65.4h0M340.7 74.0h0M355.2 75.9h0M347.3 66.6h0M348.1 76.0h0M343.0 82.7h0M342.8 81.5h0M346.6 62.7h0M348.8 66.8h0M335.0 63.5h0M345.2 81.3h0M363.3 76.6h0M340.2 79.2h0M338.8 68.3h0M335.1 66.6h0M328.7 75.7h0M351.1 74.1h0M341.5 68.2h0M343.5 75.0h0M356.7 77.4h0M362.3 74.0h0M333.4 67.6h0M350.0 58.7h0M346.3 72.0h0M344.4 75.1h0M345.1 72.1h0M340.8 71.2h0M354.5 68.3h0M346.2 78.8h0M343.9 73.6h0M351.6 74.2h0M348.6 66.8h0M344.9 69.6h0M343.8 75.1h0M355.9 66.0h0M345.4 65.1h0M340.3 72.0h0M333.7 83.2h0M338.1 75.8h0M332.1 85.1h0M341.9 73.2h0M343.2 71.9h0M341.2 70.2h0M346.5 83.7h0M342.4 76.4h0M332.9 80.0h0M351.8 78.2h0M335.1 74.6h0M330.6 73.6h0M331.8 75.8h0M340.9 78.9h0M349.4 76.7h0M350.9 76.8h0M342.8 75.1h0M330.9 69.7h0M335.4 72.8h0M333.4 68.3h0M339.5 81.3h0M342.0 72.6h0M346.5 90.4h0M339.7 71.9h0M344.9 66.0h0M333.0 74.7h0M328.6 84.2h0M335.6 73.5h0M350.8 77.7h0M349.8 74.2h0M337.1 71.9h0M351.2 95.3h0M338.2 74.9h0M353.9 69.4h0M345.1 70.4h0M337.2 77.2h0M347.8 76.5h0M334.4 80.1h0M333.1 75.8h0M328.7 65.2h0M343.2 77.7h0M340.5 72.1h0M340.3 72.3h0M337.5 64.2h0M353.2 69.2h0M337.4 69.4h0M334.9 74.5h0M351.6 63.2h0M353.1 73.6h0M343.9 74.8h0M326.2 67.6h0M335.9 70.3h0M346.2 67.8h0M341.2 80.5h0M354.2 55.5h0M329.4 72.8h0M346.8 62.2h0M335.7 71.6h0M352.2 79.2h0M340.4 69.9h0M349.8 74.4h0M335.5 68.8h0M329.0 88.7h0M331.6 81.3h0M335.8 82.5h0M332.3 65.7h0M351.2 65.7h0M352.4 80.8h0M343.3 72.7h0M332.2 73.1h0M340.0 76.6h0M335.2 65.9h0M353.4 78.6h0M343.7 74.1h0M345.2 77.2h0M337.6 69.8h0M334.4 69.8h0M331.5 81.6h0M344.1 81.8h0M341.8 80.5h0M334.2 78.4h0M337.7 78.9h0M354.3 54.3h0M332.8 80.7h0M333.2 72.9h0M339.1 75.0h0M335.1 72.7h0M337.4 64.8h0M345.5 70.1h0M355.7 77.6h0M340.8 69.9h0M341.4 67.9h0M340.3 84.4h0M339.4 68.2h0M338.1 88.9h0M349.5 73.8h0M337.0 68.4h0M339.9 81.1h0M341.0 86.0h0M341.9 64.1h0M339.5 85.2h0M349.5 71.5h0M340.9 84.6h0M342.5 71.4h0M340.6 63.3h0M332.5 78.4h0M333.9 81.2h0M332.1 89.5h0M342.6 86.1h0M334.9 79.5h0M332.0 73.3h0M343.0 70.4h0M345.5 71.8h0M326.0 69.6h0M355.4 71.1h0M341.3 56.5h0M340.1 75.5h0M350.1 73.3h0M341.6 92.0h0M335.9 79.9h0M359.7 69.3h0M331.9 78.9h0M340.2 65.7h0M348.2 69.4h0M331.9 61.9h0M340.1 84.3h0M344.3 78.1h0M361.4 64.3h0M333.4 74.4h0M340.6 80.8h0M346.6 77.2h0M341.7 76.8h0M330.8 69.1h0M344.5 69.5h0M341.9 74.8h0M344.8 80.3h0M350.6 67.6h0M349.6 65.7h0M344.5 81.9h0M343.6 67.5h0M331.7 82.5h0M339.9 76.0h0M342.9 80.2h0M337.6 86.6h0M341.8 78.9h0M334.0 80.2h0M354.0 66.7h0M359.3 67.9h0M337.7 79.0h0M344.4 84.6h0M339.0 84.1h0M351.7 89.5h0M344.7 76.1h0M341.7 75.6h0M339.1 81.4h0M342.1 74.2h0M332.5 74.5h0M346.7 66.4h0M334.9 81.6h0M345.5 66.4h0M342.1 77.7h0M350.3 63.5h0M340.9 81.8h0M349.7 66.3h0M333.2 80.7h0M346.2 62.7h0M339.1 71.3h0M342.7 82.3h0M341.6 68.5h0M349.0 74.0h0M343.7 57.9h0M328.3 77.4h0M351.3 76.4h0M332.5 78.9h0" stroke="#6a6cb4" stroke-opacity="0.5" stroke-width="0.7" stroke-linecap="round" fill="none"/>
<path d="M354.6 52.0h0M354.5 55.8h0M355.1 48.9h0M354.7 42.0h0M356.5 56.3h0M354.2 50.6h0M355.5 50.7h0M355.7 50.4h0M353.9 52.8h0M354.1 52.3h0M355.4 43.8h0M354.8 54.5h0M355.3 48.1h0M355.8 48.3h0M354.9 57.1h0M354.5 53.9h0M353.5 48.8h0M355.2 42.8h0M354.5 50.8h0M355.3 52.4h0M355.2 49.9h0M354.3 45.2h0M356.1 47.0h0M355.7 45.2h0M355.6 51.1h0M354.4 53.5h0M354.9 54.3h0M354.8 47.3h0M354.9 51.1h0M354.4 52.4h0M355.4 48.2h0M355.2 49.6h0M355.3 58.7h0M354.8 51.0h0M355.9 53.7h0M355.2 48.5h0M353.5 50.4h0M354.7 43.3h0M355.1 50.1h0M355.7 55.0h0M354.9 58.6h0M354.9 55.0h0M354.7 52.9h0M355.5 50.4h0M354.8 47.8h0M354.7 49.6h0M354.7 52.7h0M355.4 47.1h0M354.8 53.9h0M354.1 46.3h0M355.5 43.1h0M354.7 46.2h0M355.3 43.5h0M355.3 44.7h0M355.8 54.7h0M355.7 49.4h0M354.8 51.1h0M355.0 54.8h0M354.3 55.2h0M356.1 48.2h0M354.3 51.4h0M350.5 51.1h0M349.0 48.7h0M350.8 49.6h0M343.3 54.4h0M345.9 48.0h0M348.6 49.3h0M351.4 52.1h0M347.5 49.9h0M348.5 48.7h0M352.9 47.8h0M354.6 51.2h0M352.1 52.0h0M354.1 52.7h0M347.4 50.3h0M347.8 52.1h0M350.3 48.3h0M347.8 50.5h0M347.0 49.0h0M355.6 50.5h0M348.2 51.6h0M345.1 52.1h0M350.9 48.4h0M356.3 52.5h0M349.3 49.3h0M353.9 48.4h0M347.2 49.9h0M347.0 47.6h0M346.2 50.2h0M348.4 50.7h0M356.3 49.8h0M344.4 51.2h0M355.5 49.6h0M345.0 50.2h0M348.1 47.6h0M352.3 50.3h0M351.5 48.7h0M350.1 49.4h0M342.4 50.0h0M350.4 50.5h0M344.9 47.2h0M359.3 47.4h0M348.1 49.7h0M349.8 51.1h0M344.4 50.8h0M347.1 51.8h0M343.8 52.5h0M352.9 51.1h0M348.0 50.2h0M351.3 48.3h0M346.3 48.5h0M347.0 49.4h0M354.2 50.7h0M345.1 50.6h0M341.8 50.2h0M350.6 49.9h0M344.4 51.3h0M347.2 50.6h0M352.6 50.7h0M345.7 50.8h0M352.5 49.2h0M346.3 48.3h0M355.0 51.1h0M354.3 51.0h0M347.1 49.8h0M348.1 49.5h0M345.7 54.3h0M349.8 48.8h0M353.6 49.8h0M343.2 50.7h0M352.7 48.1h0M343.7 50.4h0M345.6 53.4h0M341.8 51.9h0M357.4 51.3h0M349.2 51.3h0M350.0 50.4h0M346.3 51.9h0M353.3 49.9h0M340.6 49.4h0M349.1 50.4h0M357.8 51.8h0M347.5 50.8h0M349.1 51.4h0M351.7 46.6h0M345.8 52.3h0M349.1 54.4h0M352.8 52.6h0M349.8 49.6h0M350.5 48.7h0M347.6 50.7h0M350.3 48.4h0M349.2 51.5h0M354.8 49.3h0M351.9 51.9h0M348.0 52.7h0M339.2 46.5h0M351.9 50.7h0M352.0 48.9h0M345.3 47.7h0M341.0 49.1h0M344.4 49.8h0M352.7 52.1h0M344.7 47.5h0M347.2 52.1h0M349.9 53.8h0M353.9 51.3h0M348.9 51.2h0M348.6 50.2h0M346.8 48.1h0M355.5 51.2h0M353.3 50.9h0M348.6 51.5h0M343.4 54.8h0M345.8 51.5h0M351.3 51.0h0M346.1 53.0h0M352.6 47.8h0M350.4 48.1h0M350.2 49.5h0" stroke="#2e3070" stroke-opacity="0.5" stroke-width="0.7" stroke-linecap="round" fill="none"/>
<path d="M348.7 50.0h0M351.7 47.6h0M352.3 51.6h0M350.0 50.2h0M353.5 47.3h0M351.3 49.6h0M348.9 48.5h0M352.1 48.6h0M357.6 49.8h0M350.0 48.6h0M355.5 51.2h0M356.1 48.6h0M356.5 51.3h0M349.5 49.6h0M358.0 51.1h0M352.3 48.8h0M351.2 48.9h0M351.3 47.9h0M353.8 50.6h0M352.2 51.2h0M351.5 53.1h0M355.9 51.8h0M349.8 50.1h0M348.9 49.4h0M354.4 50.3h0M354.1 49.7h0M355.3 52.0h0M348.8 51.2h0M355.2 48.4h0M353.4 48.6h0M357.3 51.9h0M348.3 50.2h0M352.7 49.3h0M351.2 51.6h0M347.2 49.1h0M349.9 49.3h0M355.4 49.0h0M350.6 46.6h0M349.8 51.1h0M354.6 47.8h0M355.0 48.8h0M355.0 48.5h0M349.6 50.9h0M351.8 49.6h0M355.1 49.7h0M350.0 47.0h0M349.8 49.6h0M354.5 47.3h0M356.7 50.2h0M348.5 50.3h0M344.2 49.7h0M347.6 53.0h0M349.0 50.5h0M351.6 50.7h0M353.8 49.9h0M351.6 49.4h0M349.9 51.2h0M352.5 51.5h0M349.1 47.6h0M351.9 51.4h0M350.1 50.5h0M360.0 51.2h0M354.5 50.4h0M349.5 47.7h0M349.0 47.8h0M350.7 52.6h0M347.1 50.1h0M349.8 47.4h0M349.8 50.3h0M354.7 49.1h0M350.7 46.8h0M349.6 46.0h0M348.0 47.1h0M348.5 50.1h0M351.8 49.6h0M351.4 49.3h0M355.4 50.2h0M350.1 50.7h0M355.2 46.3h0M352.8 49.2h0M352.0 48.4h0M346.0 47.7h0M348.1 48.8h0M354.2 49.5h0M356.2 49.3h0M352.6 47.4h0M354.3 48.9h0M350.8 52.9h0M350.9 48.0h0M350.0 47.0h0M354.9 50.1h0M353.0 50.7h0M351.3 50.4h0M351.0 47.9h0M353.7 51.3h0M353.0 48.4h0M349.5 47.9h0M357.1 48.7h0M352.8 49.5h0M352.0 50.8h0M356.4 50.7h0M355.1 49.7h0M351.7 51.2h0M353.6 49.8h0M348.8 51.1h0M350.1 47.5h0M345.2 47.2h0M355.7 50.9h0M346.3 47.5h0M354.0 49.2h0M349.5 49.5h0M349.1 48.9h0M351.4 49.0h0M352.8 51.9h0M353.8 45.7h0M357.3 51.1h0M353.1 53.4h0M354.6 49.7h0M350.2 49.7h0M354.1 50.9h0M352.5 52.6h0M350.6 47.8h0M351.7 49.8h0M351.8 49.4h0M352.6 50.6h0M353.2 50.0h0M350.5 50.8h0M349.8 49.0h0M354.2 49.8h0M346.9 48.6h0M350.1 48.6h0M356.7 49.5h0M343.9 49.5h0M349.9 47.8h0M354.1 52.2h0M347.0 49.5h0M359.8 47.5h0M344.2 51.5h0M356.3 48.5h0M356.7 50.5h0M354.7 49.7h0M351.3 50.1h0M353.1 50.0h0M349.3 48.8h0M354.4 49.8h0M348.6 53.0h0M351.2 46.1h0M355.0 49.8h0M348.7 50.4h0M350.9 48.0h0" stroke="#5c9470" stroke-opacity="0.55" stroke-width="0.75" stroke-linecap="round" fill="none"/>
<rect x="339.60" y="41.20" width="16.00" height="18.50" fill="none" stroke="#5a5a5a" stroke-width="0.9" />
<rect x="355.60" y="41.20" width="18.90" height="18.50" fill="none" stroke="#5a5a5a" stroke-width="0.9" />
<rect x="356.40" y="60.50" width="17.60" height="29.10" fill="none" stroke="#5a5a5a" stroke-width="0.9" />
<text x="332.50" y="48.60" font-size="5.9" text-anchor="middle" stroke="#2b2b2b" stroke-width="0.12">R1</text>
<text x="332.50" y="54.90" font-size="5.9" text-anchor="middle" stroke="#2b2b2b" stroke-width="0.12">35.2</text>
<text x="383.70" y="49.40" font-size="5.9" text-anchor="middle" stroke="#2b2b2b" stroke-width="0.12">R2</text>
<text x="383.70" y="56.30" font-size="5.9" text-anchor="middle" stroke="#2b2b2b" stroke-width="0.12">23.1</text>
<text x="383.70" y="76.30" font-size="5.9" text-anchor="middle" stroke="#2b2b2b" stroke-width="0.12">R3</text>
<text x="383.70" y="83.20" font-size="5.9" text-anchor="middle" stroke="#2b2b2b" stroke-width="0.12">0.33</text>
<line x1="325.00" y1="33.20" x2="325.00" y2="111.60" stroke="#555" stroke-width="0.8" />
<line x1="325.00" y1="111.60" x2="402.80" y2="111.60" stroke="#222" stroke-width="1.0" />
<line x1="322.80" y1="36.50" x2="325.00" y2="36.50" stroke="#222" stroke-width="0.8" />
<line x1="323.80" y1="40.30" x2="325.00" y2="40.30" stroke="#444" stroke-width="0.5" />
<line x1="323.80" y1="43.00" x2="325.00" y2="43.00" stroke="#444" stroke-width="0.5" />
<line x1="323.80" y1="44.90" x2="325.00" y2="44.90" stroke="#444" stroke-width="0.5" />
<line x1="323.80" y1="46.50" x2="325.00" y2="46.50" stroke="#444" stroke-width="0.5" />
<line x1="322.80" y1="49.00" x2="325.00" y2="49.00" stroke="#222" stroke-width="0.8" />
<line x1="323.80" y1="52.80" x2="325.00" y2="52.80" stroke="#444" stroke-width="0.5" />
<line x1="323.80" y1="55.50" x2="325.00" y2="55.50" stroke="#444" stroke-width="0.5" />
<line x1="323.80" y1="57.40" x2="325.00" y2="57.40" stroke="#444" stroke-width="0.5" />
<line x1="323.80" y1="59.00" x2="325.00" y2="59.00" stroke="#444" stroke-width="0.5" />
<line x1="322.80" y1="61.50" x2="325.00" y2="61.50" stroke="#222" stroke-width="0.8" />
<line x1="323.80" y1="65.30" x2="325.00" y2="65.30" stroke="#444" stroke-width="0.5" />
<line x1="323.80" y1="68.00" x2="325.00" y2="68.00" stroke="#444" stroke-width="0.5" />
<line x1="323.80" y1="69.90" x2="325.00" y2="69.90" stroke="#444" stroke-width="0.5" />
<line x1="323.80" y1="71.50" x2="325.00" y2="71.50" stroke="#444" stroke-width="0.5" />
<line x1="322.80" y1="74.00" x2="325.00" y2="74.00" stroke="#222" stroke-width="0.8" />
<line x1="323.80" y1="77.80" x2="325.00" y2="77.80" stroke="#444" stroke-width="0.5" />
<line x1="323.80" y1="80.50" x2="325.00" y2="80.50" stroke="#444" stroke-width="0.5" />
<line x1="323.80" y1="82.40" x2="325.00" y2="82.40" stroke="#444" stroke-width="0.5" />
<line x1="323.80" y1="84.00" x2="325.00" y2="84.00" stroke="#444" stroke-width="0.5" />
<line x1="322.80" y1="86.50" x2="325.00" y2="86.50" stroke="#222" stroke-width="0.8" />
<line x1="323.80" y1="90.30" x2="325.00" y2="90.30" stroke="#444" stroke-width="0.5" />
<line x1="323.80" y1="93.00" x2="325.00" y2="93.00" stroke="#444" stroke-width="0.5" />
<line x1="323.80" y1="94.90" x2="325.00" y2="94.90" stroke="#444" stroke-width="0.5" />
<line x1="323.80" y1="96.70" x2="325.00" y2="96.70" stroke="#222" stroke-width="0.5" />
<line x1="323.80" y1="99.20" x2="325.00" y2="99.20" stroke="#222" stroke-width="0.5" />
<line x1="322.80" y1="102.90" x2="325.00" y2="102.90" stroke="#222" stroke-width="0.8" />
<line x1="323.80" y1="105.70" x2="325.00" y2="105.70" stroke="#222" stroke-width="0.5" />
<line x1="323.80" y1="108.20" x2="325.00" y2="108.20" stroke="#222" stroke-width="0.5" />
<line x1="335.60" y1="111.60" x2="335.60" y2="113.60" stroke="#222" stroke-width="0.8" />
<line x1="358.10" y1="111.60" x2="358.10" y2="113.60" stroke="#222" stroke-width="0.8" />
<line x1="371.30" y1="111.60" x2="371.30" y2="113.60" stroke="#222" stroke-width="0.8" />
<line x1="384.10" y1="111.60" x2="384.10" y2="113.60" stroke="#222" stroke-width="0.8" />
<line x1="396.70" y1="111.60" x2="396.70" y2="113.60" stroke="#222" stroke-width="0.8" />
<line x1="331.00" y1="111.60" x2="331.00" y2="112.70" stroke="#444" stroke-width="0.5" />
<line x1="333.00" y1="111.60" x2="333.00" y2="112.70" stroke="#444" stroke-width="0.5" />
<line x1="338.00" y1="111.60" x2="338.00" y2="112.70" stroke="#444" stroke-width="0.5" />
<line x1="340.00" y1="111.60" x2="340.00" y2="112.70" stroke="#444" stroke-width="0.5" />
<line x1="349.00" y1="111.60" x2="349.00" y2="112.70" stroke="#444" stroke-width="0.5" />
<line x1="353.00" y1="111.60" x2="353.00" y2="112.70" stroke="#444" stroke-width="0.5" />
<line x1="356.00" y1="111.60" x2="356.00" y2="112.70" stroke="#444" stroke-width="0.5" />
<line x1="363.00" y1="111.60" x2="363.00" y2="112.70" stroke="#444" stroke-width="0.5" />
<line x1="366.00" y1="111.60" x2="366.00" y2="112.70" stroke="#444" stroke-width="0.5" />
<line x1="368.00" y1="111.60" x2="368.00" y2="112.70" stroke="#444" stroke-width="0.5" />
<line x1="376.00" y1="111.60" x2="376.00" y2="112.70" stroke="#444" stroke-width="0.5" />
<line x1="379.00" y1="111.60" x2="379.00" y2="112.70" stroke="#444" stroke-width="0.5" />
<line x1="381.00" y1="111.60" x2="381.00" y2="112.70" stroke="#444" stroke-width="0.5" />
<line x1="389.00" y1="111.60" x2="389.00" y2="112.70" stroke="#444" stroke-width="0.5" />
<line x1="392.00" y1="111.60" x2="392.00" y2="112.70" stroke="#444" stroke-width="0.5" />
<line x1="394.00" y1="111.60" x2="394.00" y2="112.70" stroke="#444" stroke-width="0.5" />
<rect x="405.30" y="33.20" width="77.80" height="78.40" fill="#fff" stroke="#a0a0a0" stroke-width="0.8" />
<path d="M443.7 44.4h0M449.1 54.4h0M445.0 47.9h0M453.3 51.1h0M452.4 39.8h0M449.4 55.8h0M444.8 51.9h0M448.8 52.7h0M449.5 56.1h0M442.0 49.0h0M447.7 49.1h0M449.1 53.5h0M447.2 52.1h0M452.6 48.7h0M451.2 50.2h0M443.0 47.4h0M446.8 53.5h0M443.0 54.6h0M448.6 50.0h0M442.8 59.4h0M450.0 42.3h0M447.9 48.8h0M450.2 58.5h0M445.7 47.8h0M440.5 41.9h0M453.4 56.9h0M445.6 52.7h0M451.8 44.0h0M448.0 53.8h0M449.0 44.8h0M453.6 43.2h0M447.7 49.2h0M451.9 47.6h0M440.4 44.5h0M449.8 48.1h0M445.3 44.9h0M445.8 50.3h0M446.3 49.8h0M447.7 53.7h0M452.9 47.7h0M438.9 43.3h0M446.5 43.3h0M443.4 48.7h0M451.0 57.7h0M444.6 54.2h0M448.1 46.7h0M444.7 54.7h0M449.0 44.1h0M450.4 55.0h0M444.7 48.0h0M446.5 53.8h0M440.6 53.1h0M447.5 48.6h0M449.7 51.6h0M444.1 44.6h0M450.8 49.6h0M438.0 55.4h0M438.9 70.5h0M440.7 53.5h0M444.4 50.4h0M446.4 44.9h0M446.0 55.3h0M446.0 41.7h0M449.2 45.9h0M444.4 51.8h0M441.2 43.9h0M441.3 57.7h0M454.8 55.4h0M436.9 47.1h0M445.6 47.2h0M452.1 43.4h0M448.2 42.9h0M443.0 52.2h0M446.3 53.1h0M449.8 51.7h0M451.1 51.3h0M442.7 47.2h0M449.3 51.8h0M447.3 42.6h0M450.7 50.0h0M451.9 57.4h0M444.9 56.6h0M440.5 47.6h0M447.9 48.3h0M453.4 56.9h0M449.0 58.9h0M447.2 42.5h0M455.9 47.8h0M442.1 51.1h0M449.9 56.1h0M444.0 45.8h0M446.5 53.2h0M446.7 48.5h0M452.4 61.9h0M442.6 52.1h0M444.2 49.3h0M439.9 48.3h0M448.2 55.3h0M444.5 53.4h0M448.0 44.5h0M442.0 51.1h0M444.9 43.3h0M450.5 46.2h0M445.6 43.5h0M448.8 43.3h0M448.4 46.5h0M444.9 45.1h0M440.1 52.6h0M450.2 54.0h0M447.0 48.8h0M450.2 44.4h0M438.2 54.0h0M439.7 39.8h0M437.7 40.3h0M442.8 53.6h0M450.5 53.3h0M448.6 54.9h0M446.2 48.9h0M446.8 43.6h0M449.3 47.4h0M445.1 52.8h0M447.9 46.1h0M446.9 46.5h0M437.6 43.0h0M444.8 44.1h0M451.7 54.2h0M444.7 52.3h0M445.7 44.1h0M443.9 44.6h0M444.4 47.2h0M450.8 52.7h0M445.2 44.1h0M442.2 49.1h0M433.9 39.2h0M444.0 43.7h0M438.4 52.1h0M439.0 54.5h0M449.5 44.2h0M449.1 46.1h0M438.6 54.0h0M449.7 48.0h0M448.1 47.3h0M443.2 52.6h0M449.2 51.0h0M439.8 55.6h0M441.5 54.0h0M440.5 47.1h0M441.9 49.4h0M449.8 49.7h0M441.0 43.2h0M441.7 45.1h0M442.5 54.9h0M447.1 42.0h0M444.9 55.0h0M449.7 51.4h0M443.5 49.3h0M441.1 52.7h0M444.3 52.4h0M446.4 56.1h0M442.6 48.0h0M447.4 48.8h0M453.5 48.8h0M443.9 59.4h0M446.4 54.7h0M451.7 45.4h0M443.7 48.3h0M442.9 46.4h0M441.9 50.1h0M447.8 51.1h0M448.3 61.5h0M445.6 40.8h0M446.4 55.2h0M451.3 52.2h0M449.7 46.5h0M440.6 49.2h0M446.2 47.5h0M446.6 50.3h0M449.1 55.1h0M445.3 42.4h0M443.6 56.6h0M444.4 48.1h0M439.1 57.5h0M446.1 52.1h0M443.8 56.2h0M448.1 52.8h0M442.1 55.5h0M444.4 50.3h0M442.3 45.8h0M441.9 53.4h0M449.0 53.6h0M444.3 60.5h0M447.9 40.0h0M441.7 49.0h0M446.5 55.3h0M439.4 43.7h0M444.2 48.9h0M444.1 60.6h0M448.5 57.1h0M446.9 45.6h0M445.4 57.2h0M449.5 56.0h0M446.9 53.9h0M448.3 51.9h0M449.2 51.2h0M445.9 45.7h0M445.0 47.5h0M447.4 53.7h0M444.5 50.7h0M447.7 59.3h0M450.6 48.4h0M449.5 38.0h0M444.6 48.4h0M441.0 51.4h0M445.9 52.0h0M445.6 50.4h0M450.5 45.9h0M444.6 57.5h0M445.3 46.7h0M449.1 53.6h0M444.2 48.6h0M445.5 44.1h0M453.0 57.1h0M452.1 37.5h0M448.6 45.8h0M447.2 52.2h0M442.2 48.3h0M448.3 53.8h0M446.3 49.6h0M447.0 47.8h0M444.0 60.9h0M446.1 49.0h0M445.4 49.3h0M447.4 44.7h0M451.8 46.3h0M447.6 53.3h0M439.5 52.9h0M442.2 50.1h0M439.8 46.6h0M442.9 53.5h0M448.3 41.6h0M447.7 48.4h0M443.7 48.8h0M447.2 45.9h0M443.1 50.9h0M440.4 46.8h0M440.5 46.1h0M442.7 59.1h0M451.8 53.8h0M440.8 56.1h0M451.1 50.4h0M451.4 55.0h0M445.4 54.0h0M445.9 56.2h0M443.7 62.0h0M446.0 49.0h0M448.7 51.4h0M446.1 49.9h0M450.8 43.2h0M447.5 50.2h0M447.4 53.3h0M445.9 47.3h0M447.5 55.8h0M441.6 56.6h0M447.7 48.1h0M446.9 57.3h0M442.7 58.9h0M454.7 52.5h0M442.2 45.3h0M442.6 57.5h0M447.2 49.4h0M438.4 48.3h0M442.9 50.8h0M440.0 47.5h0M442.2 55.6h0M445.6 54.1h0M447.4 56.3h0M450.5 53.1h0M449.3 46.2h0M450.8 49.4h0M448.4 54.6h0M444.2 48.2h0M450.5 64.8h0M444.1 49.0h0M443.6 47.3h0M452.2 55.9h0M449.2 53.9h0M447.0 50.1h0M449.1 49.0h0M449.6 52.3h0M440.6 54.4h0M445.7 54.0h0M441.4 48.7h0M446.6 52.4h0M443.4 54.4h0M451.5 54.0h0M448.2 34.8h0M442.8 45.7h0M446.0 46.3h0M441.2 49.0h0M446.2 51.1h0M448.3 54.8h0M447.1 53.3h0M438.4 49.6h0M444.7 50.3h0M448.1 59.0h0M447.3 47.1h0M450.7 51.7h0M440.9 58.0h0M448.2 51.9h0M443.5 40.0h0M446.9 52.1h0M447.7 48.3h0M448.8 49.6h0M443.8 55.5h0M446.8 52.5h0M441.4 48.9h0M440.4 54.7h0M448.3 52.4h0M445.9 50.7h0M439.6 51.7h0M442.7 51.5h0M446.1 48.5h0M452.3 47.9h0M450.2 50.3h0M449.3 45.4h0M438.9 43.9h0M445.7 56.7h0M448.0 49.0h0M447.6 50.1h0M447.7 49.5h0M445.1 50.3h0M453.1 50.3h0M452.0 50.5h0M445.7 46.2h0M442.1 54.9h0M454.3 46.7h0M443.9 55.4h0M450.9 40.6h0M453.7 44.9h0M442.3 55.2h0M447.2 49.5h0M444.7 46.8h0M448.1 52.1h0M447.3 45.0h0M453.8 50.6h0M448.4 39.1h0M446.0 47.9h0M450.6 47.0h0M445.0 52.9h0M444.6 54.6h0M455.0 45.9h0M442.8 58.2h0M444.1 47.2h0M446.2 39.9h0M441.8 38.3h0M437.6 57.9h0M450.3 49.8h0M442.9 47.0h0M443.9 46.5h0M444.6 44.7h0M442.1 57.0h0M441.8 49.8h0M446.7 59.2h0M455.7 49.2h0M449.0 38.4h0M449.1 54.4h0M440.0 48.4h0M446.0 49.0h0M441.3 58.0h0M449.2 48.9h0M445.2 56.0h0M446.2 50.2h0M445.7 46.4h0M443.7 52.7h0M440.0 47.2h0M448.4 56.3h0M440.5 55.0h0M441.3 50.5h0M444.9 53.2h0M443.2 53.0h0M447.1 48.8h0M450.1 54.7h0M447.1 49.1h0M446.9 53.3h0M446.2 45.4h0M449.5 50.7h0M438.7 52.3h0M447.5 46.3h0M442.3 48.1h0M441.1 47.5h0M446.1 53.9h0M444.5 46.6h0M448.4 52.4h0M450.5 57.8h0M436.8 52.0h0M445.8 42.2h0M453.9 50.9h0M449.5 55.4h0M451.8 48.8h0M446.5 55.8h0M440.3 53.3h0M441.6 52.3h0M448.9 48.9h0M449.9 47.7h0M443.1 49.0h0M445.0 50.6h0M447.1 52.9h0M439.1 52.3h0M444.7 48.7h0M452.5 50.6h0M454.8 52.2h0M445.6 42.1h0M453.4 46.4h0M444.0 46.3h0M442.8 49.2h0M437.1 48.9h0M449.9 49.0h0M444.6 45.9h0M455.4 53.6h0M447.4 51.7h0M446.8 42.1h0M438.8 50.3h0M452.1 44.6h0M444.6 58.8h0M445.4 48.0h0M437.2 48.3h0M449.8 50.7h0M450.0 49.3h0M443.6 50.0h0M446.4 58.0h0M447.6 51.4h0M449.9 54.5h0M446.5 55.9h0M453.0 45.4h0M445.1 58.7h0M443.6 53.7h0M444.2 55.1h0M435.9 46.0h0M442.8 54.4h0M450.1 52.4h0M447.1 47.6h0M442.8 61.7h0M447.5 53.1h0M438.0 49.1h0M444.9 51.3h0M448.2 54.8h0M448.9 55.9h0M443.0 53.2h0M449.7 56.4h0M453.6 57.6h0M444.4 44.1h0M449.0 47.9h0M439.9 45.6h0M438.2 50.8h0M448.5 57.5h0M446.3 53.6h0M446.9 45.1h0M443.8 48.8h0M444.9 55.4h0M449.3 47.6h0M453.0 49.8h0M445.2 51.8h0M439.5 41.2h0M451.2 54.2h0M448.5 52.0h0M448.8 53.1h0M446.8 45.4h0M455.4 46.5h0M446.4 47.3h0M448.2 51.6h0M438.7 50.7h0M443.8 50.9h0M443.3 59.3h0M446.0 56.8h0M447.5 46.7h0M443.1 47.0h0M453.0 58.9h0M441.8 48.7h0M444.3 57.2h0M447.0 58.3h0M441.1 47.6h0M448.4 49.0h0M448.6 50.7h0M444.9 46.0h0M453.7 45.4h0M446.4 48.3h0M447.2 54.6h0M442.3 48.1h0M439.4 49.3h0M443.6 48.0h0M444.8 43.5h0M444.3 57.7h0M449.2 38.6h0M436.5 47.0h0M441.6 53.1h0M438.8 43.3h0M451.5 53.3h0M443.8 56.6h0M444.0 46.0h0M445.0 52.9h0M446.2 54.6h0M443.1 75.4h0M446.1 55.2h0M437.1 69.0h0M440.5 75.1h0M448.4 63.5h0M449.5 76.0h0M444.2 77.3h0M442.9 71.9h0M438.9 80.4h0M444.6 69.9h0M446.0 61.8h0M438.1 69.3h0M445.3 63.6h0M445.0 58.4h0M444.8 58.6h0M439.4 80.1h0M445.2 63.0h0M438.1 66.1h0M448.5 62.3h0M443.8 67.1h0M439.2 64.8h0M448.0 63.8h0M447.3 59.0h0M441.0 57.8h0M451.0 61.8h0M439.8 68.0h0M444.4 78.7h0M447.4 72.6h0M435.4 77.2h0M446.8 69.2h0M443.1 65.8h0M443.2 58.3h0M439.5 66.3h0M444.5 53.4h0M439.4 64.5h0M439.9 76.1h0M441.7 68.3h0M439.0 73.1h0M448.8 64.0h0M438.6 58.1h0M440.7 63.4h0M442.2 63.9h0M443.3 73.6h0M446.1 78.2h0M446.2 61.9h0M442.2 64.2h0M442.0 65.5h0M443.4 64.2h0M446.2 58.9h0M445.7 66.9h0M441.5 68.5h0M436.1 68.7h0M450.8 59.1h0M446.6 65.7h0M444.2 55.9h0M444.5 71.8h0M441.5 60.2h0M439.8 64.7h0M442.1 63.7h0M442.5 62.9h0M441.1 60.0h0M438.2 55.8h0M442.2 76.8h0M445.3 67.9h0M441.6 68.0h0M443.4 79.0h0M436.1 65.8h0M442.6 69.7h0M442.9 66.5h0M439.0 73.5h0M437.2 69.4h0M444.7 68.3h0M440.5 64.9h0M445.0 68.1h0M441.8 73.4h0M445.5 53.9h0M442.1 65.6h0M438.0 63.9h0M443.0 64.6h0M442.2 54.5h0M445.6 70.8h0M441.7 61.3h0M441.9 65.0h0M446.3 63.4h0M447.4 56.4h0M446.0 63.7h0M446.9 55.3h0M444.9 60.7h0M446.0 64.5h0M446.4 66.4h0M444.7 66.7h0M443.5 65.6h0M443.8 79.2h0M451.7 69.0h0M443.3 59.1h0M442.5 62.7h0M442.0 62.5h0M443.2 65.3h0M444.2 62.8h0M439.3 61.3h0M436.4 76.3h0M444.3 66.7h0M437.7 64.4h0M444.2 64.9h0M443.8 65.1h0M447.3 74.8h0M449.1 69.3h0M444.6 73.1h0M441.4 47.7h0M439.2 68.4h0M440.5 72.8h0M443.4 78.2h0M436.1 66.6h0M443.6 56.1h0M443.3 69.9h0M445.6 62.8h0M442.1 55.7h0M443.7 62.7h0M440.7 72.7h0M441.7 73.6h0M437.1 70.7h0M443.7 60.1h0M448.7 81.5h0M443.9 59.4h0M444.6 66.0h0M439.9 57.7h0M448.3 74.3h0M440.6 69.1h0M446.1 71.8h0M443.7 67.0h0M439.9 66.0h0M446.9 67.5h0M443.4 55.1h0M443.9 72.4h0M444.9 71.9h0M443.2 64.1h0M442.0 66.4h0M444.9 68.2h0M441.9 75.9h0M443.5 69.0h0M441.0 66.7h0M438.1 63.4h0M440.9 57.4h0M441.6 62.9h0M443.4 66.9h0M447.4 64.9h0M437.4 66.9h0M443.8 70.9h0M435.6 69.1h0M439.6 68.1h0M441.5 70.4h0M435.4 67.6h0M436.8 66.3h0M443.8 69.3h0M443.6 56.1h0M442.9 74.0h0M440.5 58.7h0M450.8 71.5h0M442.7 66.6h0M440.3 73.1h0M449.2 66.7h0M445.5 60.8h0M442.0 72.9h0M447.5 67.6h0M443.8 67.2h0M445.6 67.0h0M444.1 72.5h0M439.7 71.4h0M446.7 67.9h0M443.9 57.2h0M439.8 64.1h0M440.6 67.1h0M446.6 77.3h0M442.0 68.8h0M443.5 66.0h0M445.6 73.7h0M443.7 65.8h0M438.0 66.4h0M445.5 67.5h0M446.6 57.5h0M446.3 72.3h0M449.0 69.1h0M444.6 64.8h0M446.0 59.7h0M448.9 67.8h0M442.3 74.9h0M449.4 62.7h0M449.4 60.2h0M446.0 69.1h0M449.7 57.0h0M446.3 53.2h0M440.2 63.9h0M447.3 62.4h0M444.4 64.9h0M444.7 63.2h0M443.8 68.5h0M448.1 65.2h0M445.2 62.9h0M440.9 63.8h0M445.0 70.3h0M445.9 72.3h0M440.8 72.0h0M441.8 70.7h0M442.0 46.8h0M441.2 60.5h0M444.5 64.7h0M446.9 67.8h0M449.9 56.8h0M447.5 75.1h0M446.9 68.4h0M447.3 62.8h0M448.0 67.5h0M442.0 64.5h0M445.7 62.0h0M444.4 69.6h0M442.8 63.8h0M441.7 58.1h0M441.5 62.8h0M442.4 65.9h0M439.0 60.1h0M445.1 74.1h0M443.2 60.0h0M443.7 77.1h0M444.5 71.9h0M445.8 60.9h0M441.2 67.4h0M442.9 73.7h0M437.7 65.4h0M423.1 76.6h0M430.3 75.4h0M440.6 72.1h0M421.5 78.7h0M432.7 70.9h0M429.7 72.0h0M429.0 71.5h0M427.5 69.7h0M427.9 72.7h0M435.4 61.7h0M432.9 74.6h0M424.2 69.3h0M438.2 80.7h0M422.5 89.6h0M433.3 78.6h0M430.7 72.8h0M436.3 66.7h0M431.6 80.4h0M435.5 71.7h0M429.5 78.0h0M435.0 66.7h0M431.6 79.6h0M441.5 61.7h0M425.9 78.0h0M436.3 60.0h0M432.2 69.1h0M430.7 76.9h0M426.6 74.2h0M432.2 70.3h0M421.6 84.9h0M422.2 79.5h0M433.6 79.1h0M421.1 66.5h0M437.6 72.4h0M428.2 78.6h0M431.1 64.7h0M430.1 66.8h0M432.0 78.1h0M428.2 69.5h0M427.7 72.3h0M429.0 78.6h0M435.5 68.6h0M435.9 73.0h0M436.7 64.6h0M431.7 74.9h0M428.6 81.7h0M420.5 83.0h0M433.3 59.3h0M434.3 75.2h0M427.5 76.5h0M434.2 66.2h0M436.8 77.7h0M430.2 64.1h0M435.5 81.4h0M431.4 69.7h0M420.2 90.4h0M427.1 76.2h0M427.5 68.4h0M432.6 73.1h0M425.0 79.8h0M427.3 79.4h0M424.4 84.5h0M429.5 69.5h0M430.1 77.2h0M435.1 75.1h0M434.1 69.9h0M430.6 68.5h0M431.0 68.1h0M430.3 78.5h0M430.3 78.8h0M438.2 63.8h0M416.0 76.4h0M428.8 82.5h0M431.4 64.3h0M435.9 71.2h0M423.7 74.1h0M431.6 63.0h0M434.5 72.0h0M427.3 75.2h0M419.2 90.3h0M427.7 89.2h0M423.1 78.1h0M433.3 78.0h0M425.0 83.9h0M439.5 64.7h0M430.5 69.0h0M425.3 87.0h0M426.9 74.4h0M423.7 78.6h0M431.9 71.4h0M437.9 68.1h0M428.5 71.9h0M434.8 75.4h0M424.5 85.5h0M431.4 71.2h0M442.4 57.7h0M422.0 80.3h0M436.5 61.2h0M436.2 66.3h0M419.4 89.0h0M421.8 93.6h0M424.4 80.5h0M435.1 64.6h0M427.4 80.8h0M428.8 62.2h0M433.6 67.8h0M430.4 83.0h0M431.0 78.0h0M428.0 67.8h0M435.9 60.6h0M425.4 82.5h0M438.9 67.9h0M427.9 72.4h0M425.3 80.0h0M433.3 68.8h0M432.2 61.7h0M418.8 86.9h0M430.9 70.0h0M422.3 73.9h0M425.2 70.0h0M434.0 73.0h0M425.0 73.2h0M431.7 76.9h0M427.6 74.5h0M440.3 73.4h0M429.2 72.7h0M423.2 75.3h0M423.6 67.4h0M424.7 71.7h0M430.4 78.3h0M429.7 92.4h0M435.0 63.6h0M430.6 67.9h0M430.4 76.1h0M431.5 76.1h0M429.0 71.2h0M431.3 73.9h0M434.0 62.3h0M434.0 69.9h0M426.7 82.0h0M419.9 90.9h0M425.2 76.8h0M431.2 72.0h0M416.0 86.8h0M427.0 82.9h0M432.1 75.7h0M426.5 72.4h0M423.5 81.0h0M439.3 73.5h0M437.3 65.2h0M428.2 67.9h0M436.9 72.5h0M436.8 71.8h0M423.4 84.6h0M444.4 64.8h0M424.5 74.5h0M428.2 73.1h0M423.6 72.9h0M430.0 68.9h0M422.4 76.5h0M429.6 71.9h0M435.6 77.0h0M430.8 66.7h0M428.2 75.4h0M438.1 65.3h0M424.7 86.8h0M434.9 72.5h0M427.9 73.7h0M430.8 78.6h0M429.8 75.0h0M430.3 71.4h0M429.3 83.8h0M425.3 81.9h0M426.5 87.0h0M432.0 79.7h0M429.0 79.6h0M423.2 80.0h0M425.7 71.1h0M425.8 81.5h0M429.3 75.4h0M430.5 78.0h0M430.0 74.4h0M425.9 73.3h0M429.6 68.8h0M422.0 84.1h0M413.7 93.4h0M429.2 73.3h0M420.4 83.8h0M424.3 86.5h0M422.9 74.6h0M433.0 70.4h0M422.8 73.0h0M431.0 80.6h0M426.8 78.2h0M422.7 76.9h0M420.8 71.3h0M432.0 72.0h0M431.6 79.2h0M433.7 70.2h0M439.5 65.3h0M430.9 77.5h0M431.0 66.6h0M428.8 75.6h0M430.0 77.9h0M427.5 71.7h0M424.5 73.5h0M440.4 68.7h0M419.2 81.5h0M430.8 72.6h0M431.8 74.4h0M430.2 75.6h0M424.1 73.2h0M428.3 71.8h0M426.8 79.3h0M423.5 85.6h0M429.1 83.0h0M427.1 71.6h0M426.3 83.4h0M433.1 76.7h0M423.5 78.9h0M431.8 76.1h0M426.0 82.1h0M431.7 83.7h0M429.7 68.6h0M430.6 77.5h0M423.9 78.0h0M425.0 76.8h0M424.6 84.9h0M430.2 79.1h0M433.4 66.3h0M435.2 69.2h0M426.5 78.3h0M429.7 66.5h0M420.4 86.3h0M417.1 83.1h0M424.5 79.3h0M425.6 79.5h0M420.7 91.5h0M419.5 82.1h0M432.2 70.9h0M424.8 88.2h0M420.0 78.6h0M442.0 63.1h0M430.2 66.4h0M427.5 82.6h0M432.9 74.0h0M425.0 80.7h0M437.9 69.9h0M420.8 80.2h0M422.0 75.6h0M428.4 71.1h0M425.0 80.5h0M436.9 70.4h0M420.4 90.7h0M425.2 73.5h0M430.5 71.4h0M432.2 67.1h0M434.7 79.3h0M431.0 66.7h0M441.2 71.1h0" stroke="#6a6cb4" stroke-opacity="0.5" stroke-width="0.7" stroke-linecap="round" fill="none"/>
<path d="M450.3 50.5h0M446.4 49.5h0M448.5 59.6h0M441.5 50.4h0M445.8 49.1h0M442.6 50.4h0M447.2 55.5h0M446.8 74.2h0M444.8 40.4h0M449.1 54.9h0M447.6 53.4h0M445.4 61.7h0M445.5 52.5h0M443.1 37.9h0M446.3 64.3h0M452.0 47.5h0M445.0 54.6h0M447.8 45.6h0M445.4 47.4h0M448.7 51.6h0M447.8 61.0h0M446.2 60.9h0M442.3 50.9h0M445.5 58.5h0M449.7 52.5h0M446.1 55.8h0M448.3 56.1h0M445.5 59.3h0M442.1 50.8h0M447.8 54.1h0M447.5 56.5h0M445.3 55.6h0M445.8 49.5h0M447.5 67.0h0M445.3 51.8h0M447.6 60.3h0M446.2 56.4h0M440.9 63.5h0M446.4 39.8h0M445.3 69.3h0M444.7 53.5h0M447.7 46.4h0M445.5 55.9h0M448.1 70.7h0M449.4 58.5h0M447.1 46.4h0M442.9 51.8h0M444.9 64.3h0M449.0 45.2h0M446.1 53.7h0M444.7 52.9h0M446.5 70.1h0M448.0 53.0h0M447.4 64.1h0M448.3 50.3h0M444.7 49.4h0M446.1 62.0h0M446.1 59.3h0M446.7 43.0h0M441.6 59.4h0M446.2 59.5h0M443.4 50.7h0M450.2 56.5h0M450.6 56.9h0M450.9 51.6h0M448.8 50.9h0M445.6 50.3h0M449.1 53.1h0M446.3 45.7h0M448.3 54.7h0M444.5 44.6h0M445.3 55.5h0M447.9 54.4h0M451.1 47.8h0M446.7 60.9h0M452.3 68.4h0M453.6 64.2h0M443.6 45.5h0M446.7 63.8h0M444.4 56.5h0M446.4 54.6h0M445.4 50.8h0M446.6 54.9h0M449.1 64.6h0M449.1 58.7h0M447.4 52.1h0M446.8 50.3h0M447.1 52.1h0M447.1 59.0h0M448.2 67.9h0M446.8 47.6h0M448.0 54.9h0M443.5 52.3h0M448.7 49.7h0M451.1 57.7h0M447.2 58.8h0M443.3 45.1h0M450.1 47.8h0M445.9 63.3h0M439.4 57.2h0M446.2 58.6h0M448.3 51.5h0M447.7 52.3h0M449.8 58.1h0M448.3 51.5h0M447.1 47.3h0M441.9 55.0h0M444.0 61.2h0M447.2 47.8h0M448.4 62.3h0M444.2 59.8h0M445.3 49.0h0M447.9 55.0h0M442.0 54.7h0M442.0 59.4h0M446.2 59.6h0M447.4 45.9h0M445.6 45.6h0M441.1 62.1h0M446.8 55.7h0M443.5 57.9h0M448.4 57.3h0M446.5 65.6h0M447.4 46.6h0M448.4 62.5h0M445.5 49.3h0M448.8 60.0h0M449.8 64.3h0M447.8 45.4h0M450.1 57.8h0M445.2 53.0h0M449.0 52.9h0M447.4 55.3h0M444.3 47.7h0M446.6 48.3h0M445.5 59.5h0M445.4 60.8h0M447.0 51.0h0M449.4 44.9h0M446.0 71.0h0M447.1 62.6h0M443.1 57.5h0M447.0 47.8h0M449.6 50.9h0M448.8 56.6h0M447.9 48.3h0M445.5 66.0h0M444.4 55.9h0M446.5 57.7h0M443.5 47.8h0M443.7 48.7h0M449.1 49.5h0M444.5 56.9h0M451.2 53.1h0M443.2 53.0h0M447.8 57.1h0M443.9 56.5h0M447.2 65.2h0M444.2 53.6h0M446.9 48.0h0M446.4 54.9h0M445.7 65.1h0M448.0 51.1h0M450.5 55.3h0M445.3 52.5h0M449.0 57.8h0M447.0 56.7h0M446.7 49.4h0M452.2 53.4h0M441.4 61.5h0M445.1 62.5h0M442.3 61.3h0M446.0 60.9h0M446.2 52.7h0M456.2 52.5h0M447.6 61.4h0M451.2 46.9h0M450.0 54.6h0M445.7 42.2h0M448.0 52.4h0M450.9 50.1h0M447.2 46.7h0M447.3 59.0h0M448.0 49.9h0M443.0 52.4h0M444.8 53.2h0M447.6 49.9h0M448.1 64.8h0M444.5 51.6h0M446.0 56.3h0M446.5 46.0h0M446.4 51.7h0M448.5 52.7h0M447.0 52.9h0M447.2 51.0h0M443.3 56.0h0M444.2 65.7h0M447.6 54.1h0M442.8 54.0h0M447.4 52.3h0" stroke="#2e3070" stroke-opacity="0.5" stroke-width="0.7" stroke-linecap="round" fill="none"/>
<path d="M448.3 43.9h0M445.4 49.5h0M449.0 54.8h0M448.0 46.2h0M448.3 47.6h0M450.8 60.1h0M448.9 58.8h0M450.8 44.1h0M449.2 45.4h0M445.2 54.1h0M448.4 46.2h0M448.9 50.9h0M444.7 49.9h0M450.8 55.0h0M448.0 39.6h0M448.7 41.2h0M445.9 46.1h0M448.0 57.3h0M448.5 51.4h0M447.1 43.7h0M448.0 54.7h0M443.2 55.7h0M450.8 51.0h0M445.4 50.5h0M443.0 54.4h0M445.7 58.2h0M446.0 53.0h0M449.0 54.9h0M445.8 52.0h0M448.5 50.3h0M445.7 47.6h0M452.7 53.5h0M449.0 50.7h0M452.1 51.0h0M445.6 56.8h0M449.3 54.6h0M445.7 56.6h0M449.1 44.3h0M449.3 55.0h0M444.3 49.3h0M445.3 48.2h0M445.3 47.9h0M444.5 58.3h0M446.2 56.3h0M445.7 48.6h0M444.7 46.5h0M448.0 52.3h0M449.0 49.9h0M444.9 60.5h0M446.6 44.9h0M447.8 43.1h0M447.3 50.9h0M446.3 52.3h0M449.6 52.9h0M449.7 56.0h0M449.3 62.6h0M447.4 50.5h0M452.2 49.5h0M451.7 43.4h0M446.9 53.4h0M447.6 56.5h0M450.4 50.9h0M446.1 58.1h0M448.7 52.4h0M447.9 59.8h0M446.3 53.9h0M447.3 46.9h0M444.4 49.0h0M446.6 44.5h0M443.4 43.5h0M452.8 53.5h0M451.1 56.5h0M450.5 62.0h0M448.5 51.9h0M450.0 51.0h0M450.6 46.7h0M450.1 57.1h0M449.8 54.1h0M445.8 49.2h0M448.8 55.6h0M446.6 55.0h0M445.2 42.9h0M445.3 55.9h0M448.8 52.9h0M450.1 50.2h0M444.8 50.1h0M451.7 60.9h0M451.0 59.9h0M447.0 61.3h0M446.8 46.5h0M447.6 48.9h0M450.0 56.7h0M447.0 46.2h0M445.4 48.6h0M448.6 43.2h0M443.3 61.5h0M448.1 57.5h0M450.4 54.5h0M448.5 53.3h0M449.5 50.1h0M448.9 50.2h0M449.4 55.3h0M448.1 48.6h0M446.0 58.3h0M447.3 49.7h0M447.6 47.8h0M450.6 58.7h0M451.4 51.5h0M448.7 55.0h0M446.1 50.1h0M446.2 40.9h0M447.4 54.9h0M450.9 45.5h0M448.5 57.6h0M447.7 44.4h0M446.1 42.9h0M449.7 53.7h0M448.4 54.3h0M447.7 52.7h0M448.0 46.1h0M451.5 56.6h0M447.4 44.9h0M451.5 49.9h0M450.5 48.3h0M447.9 50.3h0M449.7 56.5h0M447.5 49.0h0M446.0 55.0h0M447.2 55.7h0M445.8 43.6h0M448.9 46.4h0M447.8 50.3h0M449.0 49.2h0M449.6 53.7h0M440.9 42.5h0M448.5 55.8h0M443.8 55.9h0M448.2 51.4h0M445.9 45.3h0M448.0 52.2h0M450.8 49.5h0M444.0 55.0h0M448.2 51.8h0M447.6 55.8h0M443.6 50.0h0M449.2 59.4h0M447.9 40.7h0M446.7 47.1h0M446.2 54.7h0M454.9 44.6h0M446.9 55.9h0M443.8 46.1h0M445.8 52.7h0M447.0 47.6h0M447.0 50.0h0M447.6 53.1h0M445.5 51.7h0M449.0 50.3h0M446.7 63.0h0M444.8 52.2h0M446.0 47.4h0M447.0 56.8h0M449.7 56.3h0M448.9 58.3h0M447.1 61.1h0M447.8 47.5h0M448.3 57.5h0M452.3 57.9h0M446.4 52.2h0M448.8 53.4h0M449.4 37.2h0M445.7 49.3h0M448.2 61.1h0M448.2 43.3h0M446.8 49.5h0M449.0 53.6h0M450.1 55.1h0M450.3 60.4h0M447.4 43.4h0M448.2 52.4h0M453.0 56.5h0M445.4 45.6h0M448.3 52.0h0M449.8 61.6h0M448.1 58.8h0M449.2 54.9h0M448.2 39.1h0M449.5 51.5h0M450.6 54.1h0M447.3 50.7h0M448.2 51.9h0M447.7 67.6h0M446.9 51.1h0M447.8 47.4h0M445.3 53.4h0M449.4 50.6h0M451.5 50.7h0M451.5 51.8h0M450.6 56.1h0M445.7 53.4h0M451.1 46.2h0M446.2 51.5h0M447.7 54.6h0M451.9 49.9h0M445.4 57.9h0M449.7 56.1h0M448.4 47.2h0M447.5 53.8h0M445.9 62.1h0M448.7 60.0h0M446.8 51.9h0M450.1 56.7h0M450.5 48.8h0M444.8 45.0h0M446.7 55.0h0M447.1 53.4h0M445.2 54.8h0M445.3 52.1h0M448.0 53.8h0M447.3 49.6h0" stroke="#5c9470" stroke-opacity="0.55" stroke-width="0.75" stroke-linecap="round" fill="none"/>
<rect x="419.80" y="41.20" width="15.50" height="18.50" fill="none" stroke="#5a5a5a" stroke-width="0.9" />
<rect x="435.30" y="41.20" width="19.00" height="18.50" fill="none" stroke="#5a5a5a" stroke-width="0.9" />
<rect x="436.10" y="60.20" width="17.20" height="29.00" fill="none" stroke="#5a5a5a" stroke-width="0.9" />
<text x="413.50" y="48.00" font-size="5.9" text-anchor="middle" stroke="#2b2b2b" stroke-width="0.12">R1</text>
<text x="413.50" y="55.00" font-size="5.9" text-anchor="middle" stroke="#2b2b2b" stroke-width="0.12">0.63</text>
<text x="464.00" y="48.00" font-size="5.9" text-anchor="middle" stroke="#2b2b2b" stroke-width="0.12">R2</text>
<text x="464.00" y="55.00" font-size="5.9" text-anchor="middle" stroke="#2b2b2b" stroke-width="0.12">52.9</text>
<text x="464.00" y="76.80" font-size="5.9" text-anchor="middle" stroke="#2b2b2b" stroke-width="0.12">R3</text>
<text x="464.00" y="84.00" font-size="5.9" text-anchor="middle" stroke="#2b2b2b" stroke-width="0.12">32.4</text>
<line x1="405.30" y1="33.20" x2="405.30" y2="111.60" stroke="#555" stroke-width="0.8" />
<line x1="405.30" y1="111.60" x2="483.10" y2="111.60" stroke="#222" stroke-width="1.0" />
<line x1="403.10" y1="36.50" x2="405.30" y2="36.50" stroke="#222" stroke-width="0.8" />
<line x1="404.10" y1="40.30" x2="405.30" y2="40.30" stroke="#444" stroke-width="0.5" />
<line x1="404.10" y1="43.00" x2="405.30" y2="43.00" stroke="#444" stroke-width="0.5" />
<line x1="404.10" y1="44.90" x2="405.30" y2="44.90" stroke="#444" stroke-width="0.5" />
<line x1="404.10" y1="46.50" x2="405.30" y2="46.50" stroke="#444" stroke-width="0.5" />
<line x1="403.10" y1="49.00" x2="405.30" y2="49.00" stroke="#222" stroke-width="0.8" />
<line x1="404.10" y1="52.80" x2="405.30" y2="52.80" stroke="#444" stroke-width="0.5" />
<line x1="404.10" y1="55.50" x2="405.30" y2="55.50" stroke="#444" stroke-width="0.5" />
<line x1="404.10" y1="57.40" x2="405.30" y2="57.40" stroke="#444" stroke-width="0.5" />
<line x1="404.10" y1="59.00" x2="405.30" y2="59.00" stroke="#444" stroke-width="0.5" />
<line x1="403.10" y1="61.50" x2="405.30" y2="61.50" stroke="#222" stroke-width="0.8" />
<line x1="404.10" y1="65.30" x2="405.30" y2="65.30" stroke="#444" stroke-width="0.5" />
<line x1="404.10" y1="68.00" x2="405.30" y2="68.00" stroke="#444" stroke-width="0.5" />
<line x1="404.10" y1="69.90" x2="405.30" y2="69.90" stroke="#444" stroke-width="0.5" />
<line x1="404.10" y1="71.50" x2="405.30" y2="71.50" stroke="#444" stroke-width="0.5" />
<line x1="403.10" y1="74.00" x2="405.30" y2="74.00" stroke="#222" stroke-width="0.8" />
<line x1="404.10" y1="77.80" x2="405.30" y2="77.80" stroke="#444" stroke-width="0.5" />
<line x1="404.10" y1="80.50" x2="405.30" y2="80.50" stroke="#444" stroke-width="0.5" />
<line x1="404.10" y1="82.40" x2="405.30" y2="82.40" stroke="#444" stroke-width="0.5" />
<line x1="404.10" y1="84.00" x2="405.30" y2="84.00" stroke="#444" stroke-width="0.5" />
<line x1="403.10" y1="86.50" x2="405.30" y2="86.50" stroke="#222" stroke-width="0.8" />
<line x1="404.10" y1="90.30" x2="405.30" y2="90.30" stroke="#444" stroke-width="0.5" />
<line x1="404.10" y1="93.00" x2="405.30" y2="93.00" stroke="#444" stroke-width="0.5" />
<line x1="404.10" y1="94.90" x2="405.30" y2="94.90" stroke="#444" stroke-width="0.5" />
<line x1="404.10" y1="96.70" x2="405.30" y2="96.70" stroke="#222" stroke-width="0.5" />
<line x1="404.10" y1="99.20" x2="405.30" y2="99.20" stroke="#222" stroke-width="0.5" />
<line x1="403.10" y1="102.90" x2="405.30" y2="102.90" stroke="#222" stroke-width="0.8" />
<line x1="404.10" y1="105.70" x2="405.30" y2="105.70" stroke="#222" stroke-width="0.5" />
<line x1="404.10" y1="108.20" x2="405.30" y2="108.20" stroke="#222" stroke-width="0.5" />
<line x1="415.90" y1="111.60" x2="415.90" y2="113.60" stroke="#222" stroke-width="0.8" />
<line x1="438.40" y1="111.60" x2="438.40" y2="113.60" stroke="#222" stroke-width="0.8" />
<line x1="451.60" y1="111.60" x2="451.60" y2="113.60" stroke="#222" stroke-width="0.8" />
<line x1="464.40" y1="111.60" x2="464.40" y2="113.60" stroke="#222" stroke-width="0.8" />
<line x1="477.00" y1="111.60" x2="477.00" y2="113.60" stroke="#222" stroke-width="0.8" />
<line x1="411.30" y1="111.60" x2="411.30" y2="112.70" stroke="#444" stroke-width="0.5" />
<line x1="413.30" y1="111.60" x2="413.30" y2="112.70" stroke="#444" stroke-width="0.5" />
<line x1="418.30" y1="111.60" x2="418.30" y2="112.70" stroke="#444" stroke-width="0.5" />
<line x1="420.30" y1="111.60" x2="420.30" y2="112.70" stroke="#444" stroke-width="0.5" />
<line x1="429.30" y1="111.60" x2="429.30" y2="112.70" stroke="#444" stroke-width="0.5" />
<line x1="433.30" y1="111.60" x2="433.30" y2="112.70" stroke="#444" stroke-width="0.5" />
<line x1="436.30" y1="111.60" x2="436.30" y2="112.70" stroke="#444" stroke-width="0.5" />
<line x1="443.30" y1="111.60" x2="443.30" y2="112.70" stroke="#444" stroke-width="0.5" />
<line x1="446.30" y1="111.60" x2="446.30" y2="112.70" stroke="#444" stroke-width="0.5" />
<line x1="448.30" y1="111.60" x2="448.30" y2="112.70" stroke="#444" stroke-width="0.5" />
<line x1="456.30" y1="111.60" x2="456.30" y2="112.70" stroke="#444" stroke-width="0.5" />
<line x1="459.30" y1="111.60" x2="459.30" y2="112.70" stroke="#444" stroke-width="0.5" />
<line x1="461.30" y1="111.60" x2="461.30" y2="112.70" stroke="#444" stroke-width="0.5" />
<line x1="469.30" y1="111.60" x2="469.30" y2="112.70" stroke="#444" stroke-width="0.5" />
<line x1="472.30" y1="111.60" x2="472.30" y2="112.70" stroke="#444" stroke-width="0.5" />
<line x1="474.30" y1="111.60" x2="474.30" y2="112.70" stroke="#444" stroke-width="0.5" />
<rect x="245.20" y="113.00" width="77.80" height="78.40" fill="#fff" stroke="#a0a0a0" stroke-width="0.8" />
<path d="M279.0 122.3h0M275.4 128.1h0M271.3 130.1h0M271.8 126.0h0M266.3 126.1h0M268.5 127.2h0M269.9 128.5h0M269.5 128.8h0M265.7 128.9h0M266.0 129.5h0M271.1 123.9h0M270.3 119.3h0M260.8 132.2h0M269.4 133.4h0M274.1 123.1h0M266.5 126.9h0M270.0 129.5h0M263.4 132.9h0M272.3 130.3h0M264.7 133.8h0M264.2 129.4h0M267.8 130.3h0M278.4 128.5h0M266.7 127.7h0M264.1 133.6h0M270.9 130.5h0M270.0 131.8h0M275.6 126.2h0M264.1 133.0h0M262.8 126.2h0M267.8 130.2h0M270.6 119.6h0M270.5 125.0h0M273.3 130.4h0M263.2 128.2h0M265.8 129.8h0M268.6 123.3h0M272.4 133.3h0M270.9 130.4h0M267.4 128.9h0M265.1 130.8h0M272.5 129.2h0M272.8 132.8h0M279.7 127.5h0M268.4 123.9h0M275.4 126.7h0M264.3 133.8h0M266.9 131.0h0M266.4 127.7h0M267.3 131.0h0M265.6 129.7h0M267.0 131.1h0M268.9 123.4h0M267.3 126.0h0M271.7 130.5h0M268.8 128.0h0M269.1 129.9h0M274.9 134.2h0M270.3 127.4h0M269.7 129.4h0M269.0 126.8h0M269.3 126.5h0M271.3 128.0h0M265.9 124.4h0M273.6 120.8h0M275.2 132.2h0M273.6 127.5h0M267.2 132.8h0M262.8 130.2h0M267.4 129.5h0M269.7 130.8h0M272.3 130.5h0M268.4 124.8h0M267.9 132.9h0M275.0 124.4h0M266.5 129.8h0M273.3 136.5h0M272.6 128.3h0M263.9 135.2h0M270.2 127.3h0M266.9 131.1h0M265.4 129.5h0M261.8 131.3h0M262.9 126.9h0M270.7 125.3h0M267.6 130.1h0M270.2 123.3h0M264.9 126.6h0M267.8 131.1h0M268.0 126.8h0M263.0 126.8h0M262.6 126.1h0M270.8 128.9h0M269.7 127.4h0M265.4 129.8h0M268.7 128.1h0M271.7 134.4h0M276.3 126.0h0M265.6 122.7h0M271.5 128.7h0M277.4 127.2h0M269.3 129.2h0M274.8 122.3h0M258.9 134.2h0M274.8 127.6h0M269.0 128.5h0M261.7 124.7h0M272.1 129.7h0M273.2 127.7h0M273.8 132.4h0M273.8 126.5h0M269.0 124.6h0M266.2 129.6h0M267.3 125.9h0M268.9 130.1h0M270.7 124.8h0M267.2 128.6h0M269.3 127.9h0M272.5 128.0h0M270.4 126.7h0M278.1 124.4h0M277.5 127.0h0M264.6 127.5h0M266.9 129.6h0M263.9 128.7h0M264.5 122.0h0M271.2 128.1h0M265.2 134.0h0M265.0 130.4h0M268.0 130.9h0M272.2 129.7h0M267.7 127.4h0M267.7 124.5h0M272.7 130.7h0M270.9 131.9h0M270.9 130.3h0M272.8 129.4h0M265.1 130.7h0M269.9 128.4h0M266.6 130.0h0M273.1 128.0h0M272.3 129.2h0M265.0 126.3h0M274.3 125.7h0M264.5 131.4h0M273.7 126.8h0M269.9 120.5h0M265.7 129.7h0M264.7 121.9h0M267.9 135.2h0M269.0 131.1h0M266.3 131.4h0M271.3 126.1h0M263.6 125.9h0M269.1 128.0h0M269.1 128.8h0M261.7 127.4h0M270.3 129.0h0M264.1 131.8h0M259.3 132.4h0M266.7 125.7h0M268.2 121.7h0M272.6 128.1h0M267.2 126.9h0M274.9 129.2h0M274.7 133.1h0M273.4 133.4h0M274.3 128.7h0M270.5 132.1h0M266.9 134.5h0M271.6 128.4h0M272.9 128.9h0M270.0 131.4h0M268.1 128.8h0M262.9 128.2h0M271.7 125.8h0M270.5 128.5h0M263.9 127.6h0M269.5 131.3h0M271.9 127.1h0M268.6 133.6h0M272.2 132.2h0M272.1 124.1h0M263.3 133.3h0M267.9 127.6h0M271.0 132.9h0M272.7 129.8h0M274.6 127.6h0M261.5 132.3h0M268.8 127.0h0M271.9 129.3h0M273.9 129.2h0M275.7 127.1h0M265.4 130.7h0M267.6 125.7h0M264.9 131.3h0M272.3 124.2h0M263.9 131.7h0M273.8 129.5h0M272.8 130.4h0M271.0 126.6h0M260.5 140.2h0M266.4 128.5h0M272.0 128.8h0M263.5 127.3h0M268.1 133.6h0M268.7 127.3h0M272.6 131.4h0M270.2 125.5h0M270.2 129.6h0M267.3 127.9h0M269.1 131.8h0M268.5 128.0h0M272.0 125.5h0M268.4 130.4h0M273.2 124.2h0M262.4 126.9h0M273.8 130.5h0M268.4 122.9h0M273.5 130.5h0M269.4 127.5h0M272.5 125.3h0M275.0 128.6h0M266.9 131.3h0M269.4 126.9h0M268.4 128.4h0M269.9 131.3h0M262.7 132.4h0M268.4 128.8h0M268.1 126.5h0M266.0 126.3h0M268.3 127.1h0M263.0 132.1h0M274.6 129.8h0M270.8 129.6h0M276.5 132.1h0M265.6 128.5h0M264.5 128.5h0M270.2 127.4h0M262.5 136.2h0M270.0 122.1h0M266.3 130.3h0M267.7 130.6h0M270.1 128.9h0M269.2 136.4h0M276.4 131.4h0M271.6 131.0h0M264.0 126.9h0M272.9 129.9h0M263.8 128.6h0M269.4 129.0h0M264.1 130.4h0M265.8 127.9h0M274.3 130.1h0M266.9 134.6h0M266.5 132.7h0M266.8 130.0h0M267.8 122.9h0M274.8 131.5h0M264.4 133.2h0M264.2 129.2h0M271.3 127.0h0M262.7 132.2h0M267.6 126.6h0M273.5 130.8h0M269.1 125.5h0M267.1 126.3h0M266.2 129.5h0M265.4 124.9h0M266.7 129.4h0M269.6 130.6h0M274.0 123.9h0M272.9 131.3h0M266.8 127.6h0M266.1 131.3h0M271.8 129.2h0M261.9 128.8h0M267.3 127.6h0M267.7 123.7h0M264.6 127.5h0M265.1 127.2h0M270.4 134.1h0M262.5 133.4h0M265.4 125.2h0M266.4 132.0h0M269.3 129.7h0M263.6 128.7h0M273.3 129.7h0M267.8 131.8h0M268.0 127.4h0M267.5 128.4h0M266.3 130.0h0M265.1 126.5h0M273.5 128.8h0M269.8 128.6h0M268.5 126.9h0M272.9 125.6h0M266.1 130.5h0M271.4 131.4h0M269.0 130.1h0M265.4 126.9h0M271.9 130.9h0M263.0 130.6h0M271.5 130.5h0M265.4 133.4h0M270.5 125.9h0M274.4 127.6h0M271.2 126.7h0M266.5 126.6h0M268.8 135.5h0M267.5 132.3h0M264.3 124.2h0M264.5 131.2h0M269.1 127.2h0M271.0 132.4h0M261.9 130.5h0M268.6 128.5h0M270.9 129.2h0M269.3 130.2h0M264.9 129.8h0M273.0 127.6h0M264.1 129.4h0M271.4 130.2h0M275.2 124.3h0M260.8 130.5h0M269.9 128.5h0M270.1 127.3h0M269.8 131.3h0M265.8 125.4h0M267.6 128.1h0M268.8 147.5h0M272.7 139.6h0M269.9 139.5h0M271.3 146.2h0M272.3 145.2h0M266.7 141.7h0M272.5 139.2h0M269.1 147.4h0M270.5 145.2h0M270.9 139.0h0M273.5 143.0h0M273.3 141.7h0M276.1 145.8h0M271.7 138.4h0M269.9 148.1h0M269.8 145.9h0M273.0 137.0h0M275.7 145.8h0M272.2 147.0h0M269.6 137.3h0M272.0 152.5h0M271.9 136.9h0M271.3 138.4h0M269.1 142.5h0M264.1 150.8h0M269.7 146.7h0M274.1 140.9h0M271.8 149.5h0M265.0 148.4h0M271.2 150.0h0M266.0 160.0h0M276.8 140.9h0M271.7 129.8h0M267.8 142.6h0M273.4 136.4h0M269.0 144.7h0M272.8 142.6h0M271.3 136.8h0M267.9 139.0h0M273.1 140.6h0M267.4 144.1h0M275.0 127.8h0M271.4 147.8h0M268.3 144.7h0M266.1 145.7h0M275.7 142.0h0M275.3 135.6h0M267.7 144.7h0M275.8 145.7h0M271.7 148.2h0M270.6 145.7h0M271.0 141.7h0M270.4 139.3h0M275.2 147.5h0M271.6 145.4h0M266.0 143.7h0M277.1 128.7h0M273.7 137.2h0M268.1 134.9h0M270.2 149.9h0M268.7 145.4h0M271.3 139.1h0M272.3 141.0h0M271.9 155.9h0M269.5 150.1h0M269.0 137.4h0M273.6 141.0h0M270.9 136.9h0M277.5 130.7h0M268.9 145.1h0M273.4 154.2h0M271.3 150.9h0M269.1 144.4h0M275.0 139.0h0M271.5 143.8h0M268.7 149.7h0M270.3 136.0h0M274.1 131.8h0M267.8 154.6h0M275.1 142.3h0M273.1 150.2h0M270.4 144.7h0M275.0 148.5h0M276.1 137.2h0M272.9 144.6h0M271.7 150.7h0M276.4 145.4h0M275.4 138.3h0M268.6 149.1h0M270.6 139.9h0M270.6 136.0h0M270.0 146.3h0M267.0 152.6h0M273.7 146.0h0M271.4 136.4h0M271.5 147.4h0M275.2 144.3h0M269.6 141.5h0M271.0 130.2h0M272.0 147.8h0M270.0 148.3h0M270.9 145.8h0M273.4 132.8h0M271.2 135.3h0M274.9 146.2h0M269.1 148.3h0M271.8 145.3h0M267.2 143.9h0M270.9 145.2h0M269.2 141.3h0M275.0 139.3h0M273.3 137.3h0M272.6 143.6h0M276.4 138.0h0M275.3 145.7h0M273.2 145.6h0M269.3 139.8h0M267.1 154.8h0M271.1 137.2h0M270.2 145.9h0M269.4 149.7h0M270.4 150.1h0M266.5 134.0h0M275.4 145.9h0M268.0 151.1h0M269.3 151.6h0M272.8 130.5h0M266.6 142.0h0M273.8 141.1h0M273.9 139.2h0M270.3 150.5h0M268.2 141.1h0M269.9 150.2h0M266.0 148.8h0M275.1 133.2h0M271.4 137.7h0M269.1 141.7h0M268.6 144.9h0M272.8 147.3h0M275.5 139.7h0M267.6 149.8h0M269.6 135.6h0M266.2 129.7h0M273.1 140.2h0M271.6 145.2h0M277.6 137.6h0M270.9 137.9h0M270.0 145.9h0M269.2 154.2h0M273.6 141.1h0M266.6 141.7h0M273.3 137.4h0M271.9 152.9h0M269.8 143.6h0M268.6 147.6h0M274.2 147.8h0M276.5 145.7h0M269.9 138.9h0M272.7 147.2h0M276.2 144.7h0M269.4 146.5h0M270.5 148.7h0M267.7 142.0h0M270.8 142.8h0M271.0 140.4h0M270.0 147.6h0M269.1 140.7h0M266.7 147.5h0M267.4 139.4h0M268.4 143.9h0M258.4 149.2h0M259.6 155.4h0M260.9 149.5h0M259.3 153.0h0M259.1 157.5h0M249.8 155.1h0M265.7 151.4h0M257.1 151.4h0M259.0 152.2h0M256.1 147.1h0M265.2 150.3h0M255.7 158.5h0M262.7 146.2h0M266.1 149.9h0M268.4 146.3h0M266.1 137.9h0M263.3 148.7h0M254.2 159.9h0M266.7 141.5h0M266.1 133.6h0M264.4 147.1h0M264.2 141.9h0M260.6 160.0h0M257.6 149.4h0M265.6 145.1h0M266.6 140.7h0M255.0 152.7h0M264.8 142.1h0M261.5 141.8h0M264.7 145.3h0M261.6 142.3h0M265.8 153.4h0M265.4 138.0h0M264.7 145.3h0M253.4 147.7h0M264.4 137.2h0M260.5 158.5h0M254.7 138.1h0M263.8 155.4h0M253.5 143.1h0M264.7 146.3h0M268.7 157.7h0M257.8 136.2h0M264.9 137.0h0M262.5 155.2h0M263.5 147.5h0M253.6 148.5h0M263.3 146.3h0M261.0 141.7h0M264.0 146.9h0" stroke="#6a6cb4" stroke-opacity="0.5" stroke-width="0.7" stroke-linecap="round" fill="none"/>
<path d="M276.0 133.9h0M274.7 132.0h0M275.0 128.1h0M275.8 141.6h0M276.3 138.5h0M274.5 133.8h0M275.1 138.7h0M274.5 135.1h0M274.5 131.7h0M274.7 133.7h0M274.5 148.7h0M273.7 139.0h0M273.6 139.3h0M274.4 130.9h0M275.0 136.7h0M275.8 146.3h0M274.6 135.7h0M274.8 139.4h0M275.4 140.5h0M275.4 136.9h0M274.8 142.4h0M274.9 134.5h0M276.2 136.1h0M274.7 129.5h0M274.6 148.5h0M273.8 134.9h0M275.2 133.8h0M274.7 141.3h0M276.2 130.3h0M274.7 133.1h0M275.5 128.6h0M275.6 133.3h0M276.1 130.9h0M274.0 136.3h0M276.0 132.4h0M274.9 129.7h0M274.9 131.5h0M274.7 132.5h0M274.7 130.2h0M274.7 138.6h0M273.3 137.1h0M275.3 134.0h0M275.0 126.3h0M274.3 136.2h0M274.9 125.7h0M276.5 134.2h0M275.2 133.4h0M274.7 129.7h0M276.1 128.3h0M274.4 129.1h0M274.8 145.1h0M274.5 131.6h0M274.8 132.0h0M275.4 138.7h0M275.3 135.6h0M274.4 139.3h0M274.8 126.0h0M275.0 126.9h0M274.6 152.5h0M274.9 132.9h0M274.4 131.5h0M274.4 134.1h0M275.0 138.9h0M274.2 126.3h0M275.2 134.8h0M274.8 133.0h0M274.3 137.1h0M274.5 134.2h0M274.6 130.1h0M274.8 128.1h0M264.4 125.7h0M272.6 128.5h0M266.7 130.4h0M269.3 127.3h0M274.3 128.8h0M269.3 127.6h0M271.7 130.0h0M269.8 130.9h0M271.9 132.1h0M270.3 130.1h0M269.0 127.5h0M273.5 129.6h0M269.6 130.3h0M267.0 132.0h0M269.5 124.5h0M271.6 129.8h0M267.6 125.2h0M272.2 130.6h0M272.1 130.0h0M275.4 130.1h0M268.7 130.9h0M271.9 129.9h0M266.3 127.7h0M269.3 129.8h0M270.5 131.6h0M271.2 128.8h0M270.1 129.1h0M270.0 126.5h0M268.8 131.5h0M269.2 128.0h0M271.0 127.5h0M271.6 128.1h0M271.8 127.2h0M272.7 128.5h0M273.1 131.7h0M265.9 130.7h0M269.0 132.1h0M269.9 132.2h0M268.7 127.2h0M272.8 130.1h0M272.1 132.2h0M270.0 133.9h0M270.6 126.1h0M273.3 126.1h0M269.4 130.0h0M269.5 128.4h0M272.4 127.0h0M271.4 129.9h0M273.7 127.4h0M271.2 124.3h0M272.1 129.0h0M269.0 129.3h0M268.0 130.4h0M270.2 131.0h0M263.9 129.4h0M271.2 128.6h0M272.6 127.7h0M270.4 125.6h0M269.7 128.1h0M272.9 131.1h0M270.2 130.4h0M272.6 133.4h0M275.5 128.7h0M272.0 125.3h0M272.5 130.8h0M271.4 131.2h0M270.9 126.6h0M270.9 125.7h0M270.4 129.4h0M272.9 130.5h0" stroke="#2e3070" stroke-opacity="0.5" stroke-width="0.7" stroke-linecap="round" fill="none"/>
<rect x="259.80" y="117.40" width="15.70" height="17.90" fill="none" stroke="#5a5a5a" stroke-width="0.9" />
<rect x="275.50" y="117.40" width="18.90" height="17.90" fill="none" stroke="#5a5a5a" stroke-width="0.9" />
<rect x="276.00" y="136.30" width="18.00" height="29.00" fill="none" stroke="#5a5a5a" stroke-width="0.9" />
<text x="252.80" y="124.80" font-size="5.9" text-anchor="middle" stroke="#2b2b2b" stroke-width="0.12">R1</text>
<text x="252.80" y="132.00" font-size="5.9" text-anchor="middle" stroke="#2b2b2b" stroke-width="0.12">27.5</text>
<text x="304.00" y="125.30" font-size="5.9" text-anchor="middle" stroke="#2b2b2b" stroke-width="0.12">R2</text>
<text x="304.00" y="132.60" font-size="5.9" text-anchor="middle" stroke="#2b2b2b" stroke-width="0.12">8.19</text>
<text x="303.60" y="153.20" font-size="5.9" text-anchor="middle" stroke="#2b2b2b" stroke-width="0.12">R3</text>
<text x="303.60" y="159.50" font-size="5.9" text-anchor="middle" stroke="#2b2b2b" stroke-width="0.12">3.24</text>
<line x1="245.20" y1="113.00" x2="245.20" y2="191.40" stroke="#555" stroke-width="0.8" />
<line x1="245.20" y1="191.40" x2="323.00" y2="191.40" stroke="#222" stroke-width="1.0" />
<line x1="243.00" y1="116.30" x2="245.20" y2="116.30" stroke="#222" stroke-width="0.8" />
<line x1="244.00" y1="120.10" x2="245.20" y2="120.10" stroke="#444" stroke-width="0.5" />
<line x1="244.00" y1="122.80" x2="245.20" y2="122.80" stroke="#444" stroke-width="0.5" />
<line x1="244.00" y1="124.70" x2="245.20" y2="124.70" stroke="#444" stroke-width="0.5" />
<line x1="244.00" y1="126.30" x2="245.20" y2="126.30" stroke="#444" stroke-width="0.5" />
<text x="240.40" y="118.30" font-size="5.2" text-anchor="end" stroke="#2b2b2b" stroke-width="0.12">10<tspan dy="-2.2" font-size="3.6">7</tspan></text>
<line x1="243.00" y1="128.80" x2="245.20" y2="128.80" stroke="#222" stroke-width="0.8" />
<line x1="244.00" y1="132.60" x2="245.20" y2="132.60" stroke="#444" stroke-width="0.5" />
<line x1="244.00" y1="135.30" x2="245.20" y2="135.30" stroke="#444" stroke-width="0.5" />
<line x1="244.00" y1="137.20" x2="245.20" y2="137.20" stroke="#444" stroke-width="0.5" />
<line x1="244.00" y1="138.80" x2="245.20" y2="138.80" stroke="#444" stroke-width="0.5" />
<text x="240.40" y="130.80" font-size="5.2" text-anchor="end" stroke="#2b2b2b" stroke-width="0.12">10<tspan dy="-2.2" font-size="3.6">6</tspan></text>
<line x1="243.00" y1="141.30" x2="245.20" y2="141.30" stroke="#222" stroke-width="0.8" />
<line x1="244.00" y1="145.10" x2="245.20" y2="145.10" stroke="#444" stroke-width="0.5" />
<line x1="244.00" y1="147.80" x2="245.20" y2="147.80" stroke="#444" stroke-width="0.5" />
<line x1="244.00" y1="149.70" x2="245.20" y2="149.70" stroke="#444" stroke-width="0.5" />
<line x1="244.00" y1="151.30" x2="245.20" y2="151.30" stroke="#444" stroke-width="0.5" />
<text x="240.40" y="143.30" font-size="5.2" text-anchor="end" stroke="#2b2b2b" stroke-width="0.12">10<tspan dy="-2.2" font-size="3.6">5</tspan></text>
<line x1="243.00" y1="153.80" x2="245.20" y2="153.80" stroke="#222" stroke-width="0.8" />
<line x1="244.00" y1="157.60" x2="245.20" y2="157.60" stroke="#444" stroke-width="0.5" />
<line x1="244.00" y1="160.30" x2="245.20" y2="160.30" stroke="#444" stroke-width="0.5" />
<line x1="244.00" y1="162.20" x2="245.20" y2="162.20" stroke="#444" stroke-width="0.5" />
<line x1="244.00" y1="163.80" x2="245.20" y2="163.80" stroke="#444" stroke-width="0.5" />
<text x="240.40" y="155.80" font-size="5.2" text-anchor="end" stroke="#2b2b2b" stroke-width="0.12">10<tspan dy="-2.2" font-size="3.6">4</tspan></text>
<line x1="243.00" y1="166.30" x2="245.20" y2="166.30" stroke="#222" stroke-width="0.8" />
<line x1="244.00" y1="170.10" x2="245.20" y2="170.10" stroke="#444" stroke-width="0.5" />
<line x1="244.00" y1="172.80" x2="245.20" y2="172.80" stroke="#444" stroke-width="0.5" />
<line x1="244.00" y1="174.70" x2="245.20" y2="174.70" stroke="#444" stroke-width="0.5" />
<text x="240.40" y="168.30" font-size="5.2" text-anchor="end" stroke="#2b2b2b" stroke-width="0.12">10<tspan dy="-2.2" font-size="3.6">3</tspan></text>
<line x1="244.00" y1="176.50" x2="245.20" y2="176.50" stroke="#222" stroke-width="0.5" />
<line x1="244.00" y1="179.00" x2="245.20" y2="179.00" stroke="#222" stroke-width="0.5" />
<line x1="243.00" y1="182.70" x2="245.20" y2="182.70" stroke="#222" stroke-width="0.8" />
<line x1="244.00" y1="185.50" x2="245.20" y2="185.50" stroke="#222" stroke-width="0.5" />
<line x1="244.00" y1="188.00" x2="245.20" y2="188.00" stroke="#222" stroke-width="0.5" />
<text x="239.80" y="184.70" font-size="5.2" text-anchor="end" stroke="#2b2b2b" stroke-width="0.12">0</text>
<line x1="255.80" y1="191.40" x2="255.80" y2="193.40" stroke="#222" stroke-width="0.8" />
<line x1="278.30" y1="191.40" x2="278.30" y2="193.40" stroke="#222" stroke-width="0.8" />
<line x1="291.50" y1="191.40" x2="291.50" y2="193.40" stroke="#222" stroke-width="0.8" />
<line x1="304.30" y1="191.40" x2="304.30" y2="193.40" stroke="#222" stroke-width="0.8" />
<line x1="316.90" y1="191.40" x2="316.90" y2="193.40" stroke="#222" stroke-width="0.8" />
<line x1="251.20" y1="191.40" x2="251.20" y2="192.50" stroke="#444" stroke-width="0.5" />
<line x1="253.20" y1="191.40" x2="253.20" y2="192.50" stroke="#444" stroke-width="0.5" />
<line x1="258.20" y1="191.40" x2="258.20" y2="192.50" stroke="#444" stroke-width="0.5" />
<line x1="260.20" y1="191.40" x2="260.20" y2="192.50" stroke="#444" stroke-width="0.5" />
<line x1="269.20" y1="191.40" x2="269.20" y2="192.50" stroke="#444" stroke-width="0.5" />
<line x1="273.20" y1="191.40" x2="273.20" y2="192.50" stroke="#444" stroke-width="0.5" />
<line x1="276.20" y1="191.40" x2="276.20" y2="192.50" stroke="#444" stroke-width="0.5" />
<line x1="283.20" y1="191.40" x2="283.20" y2="192.50" stroke="#444" stroke-width="0.5" />
<line x1="286.20" y1="191.40" x2="286.20" y2="192.50" stroke="#444" stroke-width="0.5" />
<line x1="288.20" y1="191.40" x2="288.20" y2="192.50" stroke="#444" stroke-width="0.5" />
<line x1="296.20" y1="191.40" x2="296.20" y2="192.50" stroke="#444" stroke-width="0.5" />
<line x1="299.20" y1="191.40" x2="299.20" y2="192.50" stroke="#444" stroke-width="0.5" />
<line x1="301.20" y1="191.40" x2="301.20" y2="192.50" stroke="#444" stroke-width="0.5" />
<line x1="309.20" y1="191.40" x2="309.20" y2="192.50" stroke="#444" stroke-width="0.5" />
<line x1="312.20" y1="191.40" x2="312.20" y2="192.50" stroke="#444" stroke-width="0.5" />
<line x1="314.20" y1="191.40" x2="314.20" y2="192.50" stroke="#444" stroke-width="0.5" />
<rect x="325.00" y="113.00" width="77.80" height="78.40" fill="#fff" stroke="#a0a0a0" stroke-width="0.8" />
<path d="M345.1 133.5h0M350.7 129.4h0M347.6 129.9h0M344.7 134.9h0M343.7 136.4h0M354.2 131.2h0M350.5 130.9h0M348.3 130.9h0M334.5 141.0h0M365.7 133.9h0M346.4 133.0h0M352.2 135.9h0M345.0 140.1h0M355.8 136.3h0M342.3 129.1h0M353.8 132.6h0M351.8 131.7h0M359.7 131.6h0M345.3 129.6h0M348.5 131.9h0M351.4 129.7h0M368.1 133.3h0M342.6 133.4h0M355.2 128.6h0M348.4 128.0h0M355.3 131.4h0M357.8 134.6h0M354.1 134.3h0M355.0 132.6h0M355.1 122.9h0M348.9 131.6h0M351.5 130.7h0M341.2 132.4h0M350.5 129.3h0M347.6 131.8h0M351.3 131.0h0M358.3 140.8h0M355.8 134.9h0M356.4 132.2h0M361.0 132.4h0M336.0 133.2h0M356.1 133.3h0M352.9 131.7h0M352.4 132.9h0M343.7 136.3h0M357.0 135.2h0M361.3 133.5h0M360.4 136.6h0M352.4 133.6h0M357.6 129.8h0M359.7 127.4h0M366.1 130.3h0M361.8 132.3h0M354.1 134.0h0M353.7 136.1h0M354.2 131.1h0M354.7 130.4h0M349.5 135.3h0M358.6 136.2h0M348.1 131.6h0M347.3 134.1h0M355.6 136.9h0M348.9 134.0h0M351.3 132.8h0M338.2 127.3h0M358.7 136.6h0M353.0 134.8h0M352.1 133.3h0M356.3 131.4h0M354.5 129.1h0M348.0 132.8h0M367.4 132.0h0M349.8 136.3h0M360.0 129.0h0M366.1 136.7h0M348.6 133.2h0M353.7 136.4h0M347.2 130.2h0M360.5 133.6h0M350.6 136.6h0M345.1 133.5h0M362.4 128.1h0M359.6 131.6h0M346.7 134.7h0M361.5 128.4h0M354.4 128.5h0M372.5 132.8h0M365.3 129.5h0M349.0 135.1h0M351.1 129.4h0M346.7 127.6h0M354.0 130.5h0M353.4 137.3h0M358.3 130.1h0M353.6 132.8h0M342.5 134.0h0M347.2 130.3h0M363.1 135.7h0M361.3 133.1h0M351.9 134.3h0M352.0 127.9h0M351.8 127.7h0M353.2 124.6h0M341.0 132.8h0M359.4 131.9h0M348.3 135.2h0M354.1 137.3h0M334.9 132.9h0M354.7 132.0h0M362.6 133.8h0M337.0 138.1h0M363.9 130.0h0M356.4 134.6h0M347.8 132.4h0M341.6 132.3h0M361.3 135.0h0M354.9 130.5h0M357.2 129.5h0M351.1 135.0h0M347.3 133.0h0M359.2 131.9h0M346.2 132.8h0M359.5 134.1h0M341.0 132.3h0M346.4 135.4h0M342.6 134.5h0M362.4 136.9h0M340.5 137.2h0M344.8 135.8h0M357.7 132.1h0M354.6 133.2h0M368.7 130.5h0M366.2 140.9h0M357.4 132.1h0M357.9 134.4h0M339.9 137.5h0M346.7 129.1h0M350.6 130.5h0M351.7 131.8h0M343.1 130.3h0M346.3 129.4h0M346.9 131.6h0M360.6 136.5h0M356.1 134.9h0M350.6 133.1h0M351.0 133.1h0M355.1 127.9h0M348.0 135.2h0M351.1 134.3h0M340.6 130.2h0M357.8 133.3h0M359.9 132.1h0M355.6 131.3h0M356.4 129.8h0M355.6 130.8h0M367.6 129.5h0M354.5 134.2h0M343.5 134.4h0M345.5 134.2h0M358.1 132.2h0M360.6 131.4h0M358.5 138.8h0M359.0 127.1h0M354.3 136.4h0M342.3 134.4h0M347.9 133.3h0M340.0 131.9h0M350.2 132.4h0M343.2 129.8h0M353.7 128.7h0M351.8 132.6h0M339.0 128.5h0M358.2 135.2h0M358.4 136.0h0M343.0 123.0h0M354.0 128.2h0M358.1 133.5h0M350.9 133.6h0M359.1 133.0h0M354.3 134.1h0M360.7 134.8h0M354.3 135.4h0M351.8 138.3h0M356.6 132.9h0M358.6 135.3h0M354.7 128.0h0M349.7 132.7h0M347.2 129.5h0M350.2 137.2h0M348.8 140.1h0M354.4 134.5h0M354.1 129.0h0M352.3 132.6h0M352.9 133.0h0M354.2 133.5h0M364.2 135.7h0M361.6 135.4h0M348.7 125.2h0M355.9 136.9h0M350.5 131.5h0M352.2 131.3h0M351.1 137.2h0M348.4 132.3h0M343.1 129.2h0M335.1 129.7h0M354.3 133.0h0M361.4 135.3h0M346.3 137.7h0M356.5 132.3h0M350.1 131.6h0M354.9 137.7h0M347.0 131.8h0M351.2 137.4h0M352.1 133.7h0M335.7 134.3h0M354.4 132.2h0M351.9 133.9h0M334.9 132.3h0M357.6 130.7h0M352.6 132.5h0M354.3 130.9h0M355.5 133.7h0M349.8 133.3h0M345.1 132.5h0M349.6 132.5h0M349.7 132.4h0M368.9 137.5h0M366.2 132.4h0M349.3 131.3h0M349.8 132.2h0M355.2 134.8h0M356.9 132.2h0M347.8 132.7h0M345.6 132.5h0M366.8 132.9h0M360.5 133.8h0M341.5 134.7h0M340.0 128.6h0M346.8 130.0h0M354.4 125.0h0M356.8 135.2h0M350.3 136.3h0M341.1 137.3h0M354.4 133.3h0M357.2 136.2h0M352.8 132.8h0M349.2 132.7h0M357.0 128.2h0M352.4 130.6h0M344.6 131.5h0M353.5 135.6h0M343.4 138.3h0M359.8 131.3h0M356.2 133.9h0M345.5 134.1h0M354.3 130.6h0M361.9 127.4h0M337.1 131.3h0M351.8 128.7h0M364.8 131.5h0M341.5 133.0h0M351.6 132.4h0M342.4 132.8h0M352.3 134.4h0M335.2 130.9h0M340.9 136.1h0M348.8 128.1h0M353.8 133.1h0M355.5 134.0h0M355.9 130.4h0M361.2 127.8h0M357.9 134.6h0M358.2 130.7h0M345.6 135.5h0M351.6 135.3h0M376.1 132.0h0M369.4 132.3h0M358.9 135.6h0M358.2 133.8h0M360.0 129.9h0M349.8 133.5h0M367.2 134.0h0M350.0 133.6h0M352.2 133.5h0M368.8 131.8h0M337.5 133.2h0M355.4 130.0h0M340.1 129.2h0M348.0 136.5h0M352.1 131.1h0M350.2 133.7h0M354.1 128.4h0M347.1 133.6h0M352.0 130.5h0M344.0 142.1h0M349.9 130.0h0M342.5 130.5h0M357.6 135.5h0M343.2 136.7h0M357.9 126.5h0M349.7 133.8h0M350.5 135.6h0M361.5 128.9h0M353.6 134.9h0M338.8 131.9h0M356.5 129.8h0M331.3 132.7h0M354.8 131.5h0M349.8 128.9h0M342.4 140.0h0M353.4 131.5h0M350.5 130.8h0M367.6 134.9h0M349.5 132.8h0M367.2 136.3h0M363.0 131.7h0M348.2 134.1h0M346.7 133.4h0M362.6 133.0h0M351.8 132.3h0M354.0 132.6h0M350.9 138.0h0M343.8 131.3h0M350.0 131.4h0M345.6 132.2h0M341.4 135.1h0M350.6 134.2h0M366.0 135.2h0M364.8 128.5h0M352.3 133.7h0M353.8 132.4h0M356.6 131.9h0M362.9 133.0h0M355.1 127.0h0M349.2 133.9h0M349.9 133.5h0M361.2 128.4h0M372.2 131.9h0M348.1 137.7h0M337.5 132.4h0M358.8 134.4h0M352.2 132.3h0M353.8 130.5h0M362.0 129.8h0M353.3 131.7h0M342.9 137.2h0M338.1 135.9h0M352.4 130.8h0M344.1 136.2h0M354.9 132.5h0M343.3 131.3h0M350.1 134.3h0M341.8 130.7h0M350.1 128.4h0M349.4 136.9h0M357.2 127.3h0M362.8 134.1h0M351.4 128.5h0M346.3 133.1h0M367.4 131.8h0M355.5 131.5h0M357.4 126.3h0M357.3 132.4h0M363.7 132.4h0M360.3 130.0h0M357.9 132.5h0M358.5 135.6h0M346.4 131.1h0M348.2 133.9h0M352.0 129.6h0M353.5 134.0h0M352.9 134.8h0M355.1 140.2h0M353.0 135.6h0M349.6 134.3h0M340.7 137.6h0M359.1 129.7h0M357.2 135.9h0M346.2 131.6h0M356.5 131.0h0M355.8 136.0h0M353.4 133.6h0M339.0 137.4h0M343.8 129.0h0M348.3 133.9h0M364.9 130.9h0M346.4 132.4h0M350.2 127.4h0M344.5 136.0h0M349.1 133.7h0M355.4 129.9h0M337.3 129.6h0M331.6 131.2h0M357.8 136.9h0M353.1 132.6h0M348.3 132.1h0M360.1 134.1h0M360.1 132.7h0M337.1 134.3h0M351.5 135.2h0M361.1 133.6h0M347.8 135.7h0M350.5 129.6h0M359.9 132.9h0M350.8 132.0h0M343.8 133.6h0M347.7 133.1h0M342.9 131.5h0M357.0 131.8h0M339.9 136.3h0M360.3 131.1h0M340.5 129.8h0M353.1 134.7h0M341.8 136.3h0M350.4 132.3h0M360.5 133.0h0M361.2 130.2h0M362.6 132.0h0M352.1 136.3h0M353.6 135.3h0M354.5 133.4h0M357.4 132.0h0M349.8 128.3h0M361.0 133.6h0M355.2 134.2h0M361.4 135.7h0M356.4 138.7h0M357.9 133.9h0M347.3 136.0h0M349.7 129.9h0M343.1 136.9h0M350.6 135.6h0M351.5 137.0h0M359.1 134.7h0M343.4 134.7h0M377.1 136.4h0M351.9 131.1h0M362.2 134.5h0M360.6 135.9h0M333.9 131.5h0M350.8 129.7h0M363.9 133.8h0M334.6 134.1h0M358.6 134.6h0M345.9 135.2h0M349.3 130.9h0M354.5 133.9h0M338.8 136.9h0M354.3 131.9h0M348.0 132.4h0M347.2 130.0h0M358.1 135.2h0M379.1 137.7h0M355.4 128.9h0M356.9 135.1h0M352.4 135.7h0M347.4 131.6h0M354.7 131.9h0M364.2 129.5h0M354.2 130.7h0M359.5 133.3h0M351.1 135.0h0M371.7 132.6h0M340.4 136.0h0M357.2 133.5h0M356.8 129.5h0M354.8 137.2h0M344.4 136.8h0M344.2 131.3h0M351.0 138.3h0M345.3 145.9h0M356.0 160.5h0M349.9 132.0h0M335.0 141.7h0M333.7 169.9h0M338.5 157.0h0M338.6 148.9h0M341.2 172.2h0M335.4 163.9h0M346.1 163.6h0M340.9 152.3h0M343.6 159.9h0M340.6 159.3h0M345.8 142.4h0M330.4 160.9h0M354.0 152.9h0M343.5 165.0h0M344.4 165.1h0M345.8 150.1h0M349.8 150.1h0M346.8 156.4h0M342.6 160.3h0M339.1 152.5h0M326.6 155.8h0M342.4 160.0h0M338.0 158.9h0M338.0 164.6h0M361.0 155.5h0M341.1 142.0h0M350.9 160.7h0M348.8 152.2h0M351.2 151.9h0M329.9 154.2h0M332.5 144.2h0M345.9 152.0h0M338.1 135.8h0M355.2 151.1h0M342.6 148.5h0M342.3 169.3h0M344.4 158.5h0M338.4 154.0h0M341.7 156.6h0M334.9 161.5h0M340.4 149.7h0M336.6 154.0h0M342.9 152.5h0M328.7 175.5h0M328.0 157.1h0M344.6 140.1h0M342.6 161.4h0M332.5 175.9h0M338.8 148.3h0M331.8 182.8h0M358.1 153.4h0M327.4 164.3h0M355.3 149.8h0M333.7 154.0h0M344.3 145.7h0M338.5 147.5h0M337.5 139.3h0M348.7 163.5h0M347.7 146.0h0M338.3 158.5h0M333.0 158.6h0M358.4 148.9h0M352.7 154.7h0M341.9 154.6h0M338.2 151.8h0M343.2 155.6h0M341.4 155.7h0M350.9 146.7h0M332.5 146.2h0M340.9 148.9h0M334.1 156.9h0M351.9 165.0h0M356.1 165.3h0M340.0 157.9h0M345.3 162.3h0M352.7 155.3h0M338.2 164.1h0M332.8 157.1h0M349.6 157.6h0M345.1 152.8h0M339.0 155.5h0M353.2 168.9h0M342.8 146.0h0M343.7 150.6h0M340.3 162.8h0M356.8 167.9h0M340.6 153.0h0M339.0 134.2h0M344.5 159.8h0M342.9 159.9h0M328.8 143.4h0M341.8 153.4h0M338.0 155.1h0M352.7 136.5h0M361.2 158.8h0M331.3 159.6h0M332.6 157.9h0M333.6 147.8h0M335.2 150.3h0M334.9 151.0h0M341.2 159.0h0M350.0 146.9h0M329.7 167.6h0M327.7 159.4h0M350.2 167.5h0M352.1 155.6h0M327.7 152.2h0M326.9 157.3h0M341.9 141.1h0M350.1 156.0h0M349.4 135.5h0M342.4 147.2h0M346.6 165.3h0M343.6 164.8h0M336.1 153.1h0M357.0 146.4h0M340.8 162.5h0M331.3 155.7h0M336.8 157.3h0M327.7 161.3h0M340.9 146.9h0M350.1 160.6h0M330.0 139.8h0M350.4 165.8h0M358.6 141.5h0M344.0 150.1h0M331.0 151.0h0M333.6 161.6h0M338.0 161.3h0M329.9 159.0h0M330.2 160.4h0M338.6 159.1h0M339.3 154.8h0M346.0 140.0h0M330.6 138.2h0M356.7 136.0h0M349.8 154.1h0M348.4 152.8h0M335.3 154.6h0M355.6 155.7h0M337.9 153.7h0M356.2 146.1h0M349.9 142.7h0M333.2 141.1h0M336.9 165.0h0M356.7 160.9h0M349.3 143.9h0M339.5 153.2h0M342.5 158.5h0M342.5 167.5h0M334.2 151.1h0M339.1 156.7h0M335.2 164.7h0M337.2 142.0h0M344.8 149.1h0M332.7 155.6h0M347.0 149.0h0M341.7 171.6h0M347.3 161.4h0M348.4 156.0h0M351.4 146.8h0M346.2 161.5h0M346.8 159.6h0M339.3 151.3h0M345.7 151.4h0M333.1 144.4h0M338.7 154.7h0M347.2 161.4h0M340.4 163.0h0M344.6 159.3h0M331.8 162.4h0M352.5 149.5h0M335.9 151.9h0M344.2 164.2h0M340.6 158.7h0M348.8 148.3h0M337.6 159.3h0M332.3 162.4h0M338.2 156.2h0M330.6 152.0h0M345.4 157.8h0M353.1 167.3h0M329.8 150.9h0M343.4 157.5h0M351.3 144.6h0M343.4 156.7h0M343.6 152.6h0M345.1 162.2h0M345.7 155.5h0M354.8 162.1h0M346.0 172.6h0M330.2 154.4h0M336.8 149.0h0M342.6 158.5h0M333.9 155.0h0M338.6 156.4h0M336.3 150.8h0M334.8 160.0h0M346.7 155.1h0M337.5 138.6h0M331.5 154.1h0M334.7 158.2h0M341.1 164.2h0M358.8 149.0h0M343.0 148.7h0M353.5 162.9h0M345.0 150.0h0M344.0 158.5h0M333.5 161.5h0M329.2 156.2h0M331.6 147.3h0M356.1 161.6h0M327.3 152.9h0M335.5 151.5h0M350.7 169.8h0M346.5 161.4h0M326.2 148.2h0M339.8 151.4h0M336.4 153.6h0M339.1 149.4h0M347.2 139.7h0M335.9 161.7h0M338.1 161.3h0M353.3 155.9h0M337.6 157.0h0M344.8 159.7h0M330.1 147.9h0M335.4 153.0h0M329.5 151.7h0M342.1 160.4h0M335.4 157.6h0M347.5 144.4h0M349.5 149.5h0M341.2 168.7h0M337.5 147.8h0M343.0 156.0h0M341.3 150.2h0M330.4 165.6h0M349.9 153.8h0M342.7 151.5h0M347.5 145.4h0M329.1 154.2h0M348.3 160.8h0M358.8 158.7h0M346.0 144.4h0M328.3 168.2h0M341.1 153.1h0M340.3 147.0h0M342.6 155.9h0M338.8 150.4h0M345.0 150.2h0M336.8 150.5h0M342.7 154.2h0M334.9 151.7h0M341.6 141.7h0M349.3 158.3h0M336.5 151.4h0M346.5 163.8h0M333.1 159.8h0M337.6 160.1h0M338.7 156.6h0M351.4 164.1h0M334.2 153.1h0M351.2 146.4h0M328.2 158.8h0M339.4 134.1h0M348.6 151.5h0M346.7 156.2h0M332.1 152.6h0M330.2 165.6h0M348.3 159.8h0M329.9 156.8h0M345.7 151.5h0M336.3 163.9h0M340.6 149.8h0M360.6 150.0h0M354.0 159.6h0M347.9 159.0h0M328.9 171.7h0M343.5 153.1h0M341.2 140.5h0M339.9 160.2h0M352.2 163.7h0M343.4 166.8h0M341.8 168.6h0M334.3 150.4h0M355.5 150.0h0M329.8 146.3h0M340.9 159.2h0M341.4 160.5h0M328.4 146.6h0M332.4 149.8h0M347.5 143.4h0M348.8 141.8h0M345.8 144.2h0M342.8 142.6h0M342.5 158.1h0M336.3 160.2h0M350.8 153.9h0M352.3 148.8h0M359.9 153.2h0M346.8 158.8h0M347.7 152.1h0M331.8 156.2h0M341.4 152.5h0M330.0 151.9h0M348.4 154.5h0M330.4 147.3h0M338.8 163.2h0M333.6 143.6h0M336.6 158.9h0M344.6 144.1h0M335.8 167.0h0M342.6 161.5h0M332.0 149.5h0M352.7 150.4h0M335.1 146.8h0M349.4 153.7h0M359.1 156.5h0M332.1 145.2h0M338.9 164.6h0M350.7 149.6h0M336.5 157.4h0M343.9 161.4h0M334.3 159.7h0M345.5 157.8h0" stroke="#6a6cb4" stroke-opacity="0.5" stroke-width="0.7" stroke-linecap="round" fill="none"/>
<path d="M355.2 130.2h0M355.3 134.8h0M355.4 127.1h0M356.0 138.6h0M354.4 128.8h0M355.0 137.7h0M354.5 131.2h0M354.7 135.2h0M354.8 132.4h0M356.0 135.8h0M356.6 133.0h0M356.1 138.2h0M354.6 135.8h0M355.3 135.8h0M354.6 139.9h0M355.6 130.1h0M356.1 138.3h0M355.7 133.3h0M355.8 126.9h0M355.2 135.0h0M354.1 132.2h0M354.1 139.9h0M355.2 131.0h0M355.7 133.2h0M356.1 134.0h0M355.1 125.2h0M355.3 135.1h0M355.5 128.9h0M356.0 138.8h0M355.3 139.8h0M354.6 133.0h0M356.0 126.5h0M355.6 133.7h0M355.5 133.7h0M354.5 136.0h0M355.3 131.8h0M354.2 128.1h0M354.1 132.4h0M355.2 129.2h0M355.0 140.3h0M355.6 130.1h0M356.2 130.3h0M355.3 132.8h0M356.4 127.9h0M354.9 131.2h0M355.8 132.4h0M354.5 131.0h0M355.4 132.0h0M355.1 138.1h0M355.2 134.8h0M355.7 127.5h0M354.1 131.2h0M355.4 136.1h0M354.8 130.3h0M355.4 133.3h0M355.5 132.9h0M355.1 135.2h0M355.1 132.3h0M354.6 132.4h0M355.6 129.5h0M351.5 132.3h0M346.2 131.8h0M357.1 130.5h0M349.9 129.2h0M349.1 132.9h0M353.2 132.4h0M349.7 136.0h0M350.4 129.7h0M349.8 133.9h0M347.0 135.7h0M346.2 129.0h0M347.1 134.3h0M354.6 129.7h0M347.4 134.1h0M348.3 136.0h0M348.2 133.0h0M352.9 133.6h0M358.1 131.6h0M346.2 133.6h0M352.2 135.3h0M350.5 132.6h0M348.8 132.7h0M352.1 133.8h0M344.8 134.7h0M353.4 129.7h0M350.9 133.1h0M345.9 131.6h0M356.5 134.0h0M353.5 135.1h0M354.8 133.6h0M344.0 135.6h0M348.9 131.0h0M347.9 132.2h0M352.6 131.0h0M355.5 133.1h0M342.2 133.2h0M350.1 132.6h0M349.5 130.5h0M354.1 132.8h0M349.8 132.1h0M344.8 134.2h0M349.2 132.4h0M345.8 135.4h0M346.8 133.5h0M350.2 129.2h0M348.0 132.6h0M351.1 130.1h0M343.8 135.0h0M359.5 135.9h0M355.2 132.9h0M352.9 133.9h0M344.7 130.0h0M341.2 128.4h0M346.5 131.9h0M349.0 132.5h0M359.1 129.9h0M355.3 133.2h0M347.9 133.6h0M354.9 134.3h0M355.0 136.2h0M350.1 134.7h0M355.0 132.3h0M351.3 133.2h0M347.3 134.2h0M345.2 130.9h0M349.5 135.7h0M354.1 134.8h0M344.5 132.5h0M343.4 131.7h0M352.2 140.8h0M338.9 134.7h0M357.5 134.9h0M348.2 136.7h0M353.0 135.0h0M357.6 133.4h0M344.1 134.4h0M345.7 131.1h0M359.2 134.5h0M348.8 129.9h0M349.5 133.9h0M350.9 134.2h0M354.3 129.8h0M355.4 136.9h0M350.4 130.7h0M348.6 135.2h0M349.9 131.9h0M351.2 133.7h0M355.4 131.7h0M350.6 138.1h0M357.4 135.1h0M346.5 136.7h0M352.2 134.6h0M357.2 134.5h0M355.3 133.3h0M351.4 132.5h0M346.4 134.3h0M347.1 133.4h0M349.4 132.7h0M351.3 130.2h0M349.0 132.4h0M344.0 134.3h0M347.0 132.1h0M352.1 133.8h0M353.4 132.7h0M344.3 130.9h0M348.5 131.2h0M343.2 131.5h0M347.7 132.4h0M364.5 132.5h0M350.3 135.3h0" stroke="#2e3070" stroke-opacity="0.5" stroke-width="0.7" stroke-linecap="round" fill="none"/>
<path d="M357.2 131.6h0M356.4 135.6h0M360.7 132.6h0M350.0 134.8h0M352.1 132.1h0M357.8 137.8h0M355.5 131.8h0M353.7 134.4h0M359.7 139.3h0M357.2 134.5h0M352.9 132.4h0M354.4 135.3h0M358.1 136.0h0M360.4 135.8h0M351.2 130.2h0M356.7 134.5h0M355.1 129.9h0M351.8 137.8h0M355.7 134.2h0M352.2 133.2h0M354.8 135.4h0M360.0 135.1h0M357.3 131.8h0M358.0 137.3h0M357.5 133.6h0M356.9 130.6h0M358.4 136.9h0M353.2 137.1h0M355.2 136.6h0M358.2 135.2h0M354.3 132.3h0M355.0 135.9h0M359.0 137.8h0M359.8 135.7h0M354.6 137.3h0M354.1 132.6h0M357.5 136.1h0M356.7 136.0h0M354.4 131.2h0M357.5 130.9h0M357.4 132.7h0M356.3 134.3h0M363.3 135.0h0M359.4 133.7h0M358.1 134.0h0M358.6 133.9h0M363.3 134.3h0M358.8 135.3h0M354.3 135.1h0M356.9 134.0h0M356.3 134.6h0M354.7 133.2h0M356.7 135.7h0M356.7 133.1h0M356.0 137.4h0M354.9 134.1h0M358.1 134.6h0M352.2 132.6h0M358.1 133.4h0M356.1 134.4h0M356.8 134.1h0M350.3 132.9h0M360.2 131.8h0M351.9 134.2h0M354.0 134.4h0M357.7 135.2h0M354.6 136.6h0M355.1 133.5h0M350.6 130.1h0M355.0 133.8h0M356.6 130.4h0M357.8 131.6h0M355.4 136.2h0M356.6 135.2h0M357.2 132.8h0M354.5 132.8h0M354.3 133.9h0M360.9 130.6h0M354.0 135.1h0M359.1 133.4h0M356.3 137.8h0M359.7 132.0h0M354.5 136.1h0M357.4 132.8h0M356.9 136.1h0M355.6 132.2h0M356.9 135.6h0M354.2 133.2h0M355.9 132.5h0M355.1 133.8h0M358.0 135.1h0M355.9 134.9h0M352.7 137.3h0M355.2 135.7h0M355.9 128.9h0M353.9 133.3h0M359.4 130.1h0M357.1 133.3h0M358.2 135.4h0M354.2 131.4h0M355.1 131.8h0M358.6 134.4h0M352.6 133.5h0M357.0 137.3h0M356.3 134.8h0M354.9 135.2h0M356.3 137.6h0M353.5 133.1h0M356.7 134.1h0M353.1 132.1h0M353.0 134.6h0M359.5 136.2h0M354.4 136.8h0M350.9 134.0h0M358.5 132.7h0M354.2 132.6h0M347.5 131.3h0M356.0 134.4h0M358.4 136.8h0M357.0 129.4h0M360.3 129.8h0M355.8 136.9h0M357.6 130.9h0M353.6 134.8h0M356.5 131.6h0M359.9 135.7h0M357.4 135.7h0M356.5 134.5h0M351.3 135.8h0M355.2 134.2h0" stroke="#5c9470" stroke-opacity="0.55" stroke-width="0.75" stroke-linecap="round" fill="none"/>
<rect x="339.60" y="121.00" width="16.00" height="18.50" fill="none" stroke="#5a5a5a" stroke-width="0.9" />
<rect x="355.60" y="121.00" width="18.90" height="18.50" fill="none" stroke="#5a5a5a" stroke-width="0.9" />
<rect x="356.40" y="140.30" width="17.60" height="29.10" fill="none" stroke="#5a5a5a" stroke-width="0.9" />
<text x="332.50" y="128.40" font-size="5.9" text-anchor="middle" stroke="#2b2b2b" stroke-width="0.12">R1</text>
<text x="332.50" y="134.70" font-size="5.9" text-anchor="middle" stroke="#2b2b2b" stroke-width="0.12">26.3</text>
<text x="383.70" y="129.20" font-size="5.9" text-anchor="middle" stroke="#2b2b2b" stroke-width="0.12">R2</text>
<text x="383.70" y="136.10" font-size="5.9" text-anchor="middle" stroke="#2b2b2b" stroke-width="0.12">39.4</text>
<text x="383.70" y="156.10" font-size="5.9" text-anchor="middle" stroke="#2b2b2b" stroke-width="0.12">R3</text>
<text x="383.70" y="163.00" font-size="5.9" text-anchor="middle" stroke="#2b2b2b" stroke-width="0.12">1.58</text>
<line x1="325.00" y1="113.00" x2="325.00" y2="191.40" stroke="#555" stroke-width="0.8" />
<line x1="325.00" y1="191.40" x2="402.80" y2="191.40" stroke="#222" stroke-width="1.0" />
<line x1="322.80" y1="116.30" x2="325.00" y2="116.30" stroke="#222" stroke-width="0.8" />
<line x1="323.80" y1="120.10" x2="325.00" y2="120.10" stroke="#444" stroke-width="0.5" />
<line x1="323.80" y1="122.80" x2="325.00" y2="122.80" stroke="#444" stroke-width="0.5" />
<line x1="323.80" y1="124.70" x2="325.00" y2="124.70" stroke="#444" stroke-width="0.5" />
<line x1="323.80" y1="126.30" x2="325.00" y2="126.30" stroke="#444" stroke-width="0.5" />
<line x1="322.80" y1="128.80" x2="325.00" y2="128.80" stroke="#222" stroke-width="0.8" />
<line x1="323.80" y1="132.60" x2="325.00" y2="132.60" stroke="#444" stroke-width="0.5" />
<line x1="323.80" y1="135.30" x2="325.00" y2="135.30" stroke="#444" stroke-width="0.5" />
<line x1="323.80" y1="137.20" x2="325.00" y2="137.20" stroke="#444" stroke-width="0.5" />
<line x1="323.80" y1="138.80" x2="325.00" y2="138.80" stroke="#444" stroke-width="0.5" />
<line x1="322.80" y1="141.30" x2="325.00" y2="141.30" stroke="#222" stroke-width="0.8" />
<line x1="323.80" y1="145.10" x2="325.00" y2="145.10" stroke="#444" stroke-width="0.5" />
<line x1="323.80" y1="147.80" x2="325.00" y2="147.80" stroke="#444" stroke-width="0.5" />
<line x1="323.80" y1="149.70" x2="325.00" y2="149.70" stroke="#444" stroke-width="0.5" />
<line x1="323.80" y1="151.30" x2="325.00" y2="151.30" stroke="#444" stroke-width="0.5" />
<line x1="322.80" y1="153.80" x2="325.00" y2="153.80" stroke="#222" stroke-width="0.8" />
<line x1="323.80" y1="157.60" x2="325.00" y2="157.60" stroke="#444" stroke-width="0.5" />
<line x1="323.80" y1="160.30" x2="325.00" y2="160.30" stroke="#444" stroke-width="0.5" />
<line x1="323.80" y1="162.20" x2="325.00" y2="162.20" stroke="#444" stroke-width="0.5" />
<line x1="323.80" y1="163.80" x2="325.00" y2="163.80" stroke="#444" stroke-width="0.5" />
<line x1="322.80" y1="166.30" x2="325.00" y2="166.30" stroke="#222" stroke-width="0.8" />
<line x1="323.80" y1="170.10" x2="325.00" y2="170.10" stroke="#444" stroke-width="0.5" />
<line x1="323.80" y1="172.80" x2="325.00" y2="172.80" stroke="#444" stroke-width="0.5" />
<line x1="323.80" y1="174.70" x2="325.00" y2="174.70" stroke="#444" stroke-width="0.5" />
<line x1="323.80" y1="176.50" x2="325.00" y2="176.50" stroke="#222" stroke-width="0.5" />
<line x1="323.80" y1="179.00" x2="325.00" y2="179.00" stroke="#222" stroke-width="0.5" />
<line x1="322.80" y1="182.70" x2="325.00" y2="182.70" stroke="#222" stroke-width="0.8" />
<line x1="323.80" y1="185.50" x2="325.00" y2="185.50" stroke="#222" stroke-width="0.5" />
<line x1="323.80" y1="188.00" x2="325.00" y2="188.00" stroke="#222" stroke-width="0.5" />
<line x1="335.60" y1="191.40" x2="335.60" y2="193.40" stroke="#222" stroke-width="0.8" />
<line x1="358.10" y1="191.40" x2="358.10" y2="193.40" stroke="#222" stroke-width="0.8" />
<line x1="371.30" y1="191.40" x2="371.30" y2="193.40" stroke="#222" stroke-width="0.8" />
<line x1="384.10" y1="191.40" x2="384.10" y2="193.40" stroke="#222" stroke-width="0.8" />
<line x1="396.70" y1="191.40" x2="396.70" y2="193.40" stroke="#222" stroke-width="0.8" />
<line x1="331.00" y1="191.40" x2="331.00" y2="192.50" stroke="#444" stroke-width="0.5" />
<line x1="333.00" y1="191.40" x2="333.00" y2="192.50" stroke="#444" stroke-width="0.5" />
<line x1="338.00" y1="191.40" x2="338.00" y2="192.50" stroke="#444" stroke-width="0.5" />
<line x1="340.00" y1="191.40" x2="340.00" y2="192.50" stroke="#444" stroke-width="0.5" />
<line x1="349.00" y1="191.40" x2="349.00" y2="192.50" stroke="#444" stroke-width="0.5" />
<line x1="353.00" y1="191.40" x2="353.00" y2="192.50" stroke="#444" stroke-width="0.5" />
<line x1="356.00" y1="191.40" x2="356.00" y2="192.50" stroke="#444" stroke-width="0.5" />
<line x1="363.00" y1="191.40" x2="363.00" y2="192.50" stroke="#444" stroke-width="0.5" />
<line x1="366.00" y1="191.40" x2="366.00" y2="192.50" stroke="#444" stroke-width="0.5" />
<line x1="368.00" y1="191.40" x2="368.00" y2="192.50" stroke="#444" stroke-width="0.5" />
<line x1="376.00" y1="191.40" x2="376.00" y2="192.50" stroke="#444" stroke-width="0.5" />
<line x1="379.00" y1="191.40" x2="379.00" y2="192.50" stroke="#444" stroke-width="0.5" />
<line x1="381.00" y1="191.40" x2="381.00" y2="192.50" stroke="#444" stroke-width="0.5" />
<line x1="389.00" y1="191.40" x2="389.00" y2="192.50" stroke="#444" stroke-width="0.5" />
<line x1="392.00" y1="191.40" x2="392.00" y2="192.50" stroke="#444" stroke-width="0.5" />
<line x1="394.00" y1="191.40" x2="394.00" y2="192.50" stroke="#444" stroke-width="0.5" />
<rect x="405.30" y="113.00" width="77.80" height="78.40" fill="#fff" stroke="#a0a0a0" stroke-width="0.8" />
<path d="M437.7 145.4h0M433.9 141.3h0M444.6 148.1h0M440.1 156.0h0M441.4 138.9h0M451.8 134.3h0M447.6 161.9h0M444.2 143.2h0M445.6 156.3h0M442.4 137.0h0M445.6 146.4h0M439.5 137.3h0M439.1 148.7h0M440.1 140.6h0M448.1 137.1h0M448.0 156.9h0M439.5 146.1h0M446.4 125.0h0M441.3 140.9h0M446.1 134.9h0M440.7 132.2h0M445.6 137.8h0M441.5 138.8h0M440.8 143.3h0M441.8 136.0h0M442.5 126.4h0M439.7 138.3h0M436.6 150.9h0M448.5 130.9h0M440.4 148.5h0M434.8 147.1h0M433.1 139.0h0M431.0 145.8h0M439.5 136.3h0M447.2 139.5h0M435.6 133.9h0M440.7 147.2h0M434.8 155.3h0M446.2 137.0h0M443.4 153.7h0M443.2 124.0h0M447.2 135.1h0M448.4 134.0h0M446.0 158.4h0M439.7 137.7h0M436.8 150.0h0M437.9 124.7h0M435.1 144.0h0M449.0 148.1h0M441.2 142.7h0M442.5 118.6h0M442.7 144.6h0M449.8 150.3h0M439.8 154.8h0M446.6 146.6h0M443.1 127.9h0M441.4 141.1h0M434.5 151.1h0M445.5 135.7h0M439.0 148.1h0M440.2 138.7h0M442.8 143.8h0M442.3 149.8h0M446.4 136.7h0M439.3 168.7h0M442.6 144.4h0M443.0 146.1h0M442.1 136.4h0M444.6 143.6h0M441.0 140.6h0M446.7 129.9h0M439.2 129.3h0M436.3 145.6h0M441.8 142.2h0M446.6 119.4h0M439.9 123.7h0M439.5 140.2h0M440.6 142.4h0M442.6 148.5h0M441.3 131.9h0M443.2 148.3h0M435.2 140.2h0M447.8 138.4h0M444.2 141.7h0M438.6 151.9h0M447.3 148.0h0M443.7 151.0h0M447.7 136.8h0M437.4 140.4h0M448.5 132.5h0M442.1 138.0h0M433.9 139.4h0M444.9 138.8h0M440.8 149.4h0M438.0 146.8h0M441.1 149.8h0M434.4 144.2h0M444.2 152.7h0M441.1 144.0h0M440.9 151.7h0M447.5 147.5h0M442.1 149.6h0M439.4 142.4h0M438.2 131.9h0M441.7 130.0h0M446.1 160.6h0M439.7 146.5h0M437.9 147.0h0M445.6 141.5h0M442.2 138.9h0M441.9 168.8h0M450.1 132.9h0M437.2 142.4h0M442.7 142.5h0M435.0 132.8h0M440.8 131.6h0M444.3 136.7h0M446.4 139.9h0M437.0 138.6h0M445.2 150.3h0M445.0 132.4h0M441.5 146.6h0M451.6 156.2h0M442.0 151.0h0M438.5 132.7h0M443.6 116.4h0M434.7 150.6h0M448.1 147.5h0M445.8 137.7h0M440.4 154.5h0M444.4 139.4h0M444.1 144.0h0M449.5 133.7h0M439.6 145.9h0M436.9 139.1h0M434.0 138.5h0M440.8 152.7h0M435.8 144.9h0M441.3 129.5h0M443.6 149.2h0M440.2 150.5h0M438.3 135.5h0M446.6 139.5h0M441.2 143.5h0M442.9 140.8h0M445.7 144.1h0M436.9 148.8h0M438.3 138.6h0M451.7 161.7h0M441.3 136.6h0M437.9 138.1h0M441.0 160.7h0M439.7 164.5h0M437.1 143.3h0M440.4 141.3h0M441.9 133.3h0M441.9 153.3h0M444.1 144.6h0M435.2 135.4h0M436.1 146.7h0M445.0 155.3h0M440.2 149.2h0M446.7 162.9h0M443.1 153.4h0M436.4 147.0h0M444.1 142.7h0M438.0 148.0h0M443.0 154.0h0M446.8 150.7h0M450.2 152.5h0M441.7 145.0h0M444.7 149.9h0M443.1 153.9h0M445.0 141.5h0M432.0 131.3h0M440.4 158.5h0M443.1 148.2h0M443.8 139.0h0M439.0 145.1h0M445.2 140.8h0M446.3 127.7h0M442.2 141.3h0M441.1 130.2h0M440.6 144.8h0M442.5 142.0h0M446.6 153.2h0M447.8 141.9h0M440.1 146.4h0M438.3 140.3h0M438.9 139.6h0M445.8 130.4h0M442.8 151.9h0M443.1 144.5h0M443.8 137.8h0M443.4 144.9h0M441.5 139.3h0M437.9 136.5h0M439.5 145.2h0M442.4 153.9h0M443.5 140.6h0M440.5 130.2h0M440.3 137.5h0M447.3 159.2h0M440.1 135.7h0M442.8 153.7h0M440.7 140.8h0M438.6 149.7h0M436.0 142.0h0M439.9 128.8h0M438.8 139.3h0M445.3 162.0h0M437.5 141.8h0M440.4 148.1h0M444.5 140.0h0M441.5 141.8h0M443.9 145.9h0M445.2 147.3h0M435.5 163.0h0M440.4 142.9h0M438.2 141.4h0M447.2 137.0h0M441.5 131.2h0M443.9 128.5h0M448.6 149.0h0M440.6 126.3h0M442.2 155.7h0M443.5 150.7h0M440.9 140.4h0M446.8 132.6h0M445.1 143.3h0M445.8 143.2h0M442.1 153.2h0M440.6 136.3h0M440.6 139.6h0M440.5 142.5h0M435.6 140.5h0M443.4 137.4h0M445.1 127.6h0M441.9 128.3h0M440.0 136.9h0M442.1 141.0h0M442.8 152.0h0M443.2 163.8h0M448.9 158.5h0M438.6 146.6h0M443.4 159.9h0M444.6 142.0h0M442.3 138.3h0M441.0 163.8h0M438.0 133.4h0M439.7 139.3h0M444.7 140.7h0M447.6 156.2h0M439.4 137.7h0M443.8 150.1h0M444.0 139.4h0M445.8 132.0h0M442.9 145.2h0M443.7 144.5h0M445.4 132.6h0M437.5 135.2h0M442.1 135.9h0M435.1 151.7h0M434.4 147.2h0M438.8 145.2h0M436.0 147.5h0M443.9 138.8h0M445.8 147.3h0M440.8 137.6h0M441.4 131.1h0M441.0 136.7h0M440.9 144.9h0M442.5 143.9h0M443.3 152.6h0M440.2 127.9h0M438.9 141.1h0M439.9 146.6h0M445.0 134.4h0M440.3 145.3h0M447.5 139.4h0M441.0 132.9h0M447.2 153.1h0M437.4 130.6h0M439.3 152.1h0M443.8 139.3h0M443.8 134.6h0M441.3 135.1h0M449.8 136.4h0M442.2 135.4h0M443.0 145.5h0M439.8 126.3h0M448.3 154.2h0M445.2 150.6h0M443.5 155.6h0M435.7 134.2h0M443.3 122.2h0M440.1 137.5h0M443.4 141.6h0M445.4 145.8h0M439.1 138.4h0M442.8 142.3h0M445.3 144.4h0M442.6 129.1h0M440.7 159.3h0M437.9 133.0h0M439.4 145.4h0M437.1 152.8h0M445.7 136.0h0M442.3 143.1h0M437.3 157.8h0M441.9 140.6h0M437.0 152.5h0M429.4 145.7h0M446.5 145.2h0M446.4 149.6h0M436.3 141.0h0M439.2 141.2h0M442.7 151.8h0M440.5 145.5h0M438.7 147.6h0M440.0 132.4h0M441.0 143.3h0M439.8 154.0h0M442.7 151.2h0M441.0 146.2h0M439.0 138.5h0M442.0 137.6h0M435.6 147.1h0M447.4 155.9h0M435.3 143.5h0M441.6 154.9h0M443.2 140.4h0M443.5 153.9h0M442.9 134.1h0M446.7 144.8h0M437.6 133.5h0M441.6 149.1h0M442.5 148.3h0M440.0 134.6h0M439.6 136.4h0M446.8 139.2h0M439.2 129.8h0M440.1 134.8h0M440.9 135.4h0M441.1 150.2h0M442.5 155.6h0M441.1 139.1h0M443.3 140.6h0M442.4 145.1h0M443.7 138.4h0M447.1 140.6h0M438.7 150.7h0M448.2 145.2h0M440.2 142.4h0M444.4 138.0h0M442.5 156.4h0M440.8 137.6h0M434.4 144.2h0M448.0 133.9h0M439.0 137.8h0M438.9 144.0h0M445.9 139.6h0M442.2 147.9h0M449.1 143.7h0M448.3 130.7h0M444.6 122.4h0M442.8 152.1h0M444.8 137.9h0M436.9 156.4h0M442.5 143.3h0M442.4 136.3h0M440.1 148.1h0M442.9 140.7h0M436.4 143.2h0M445.3 134.8h0M446.8 148.9h0M437.0 153.0h0M442.4 138.4h0M447.7 159.2h0M443.5 138.0h0M438.0 145.4h0M438.1 128.4h0M445.1 125.8h0M448.8 162.0h0M437.8 155.9h0M442.0 153.4h0M438.9 127.9h0M440.8 145.2h0M443.0 146.9h0M441.7 143.8h0M439.3 145.8h0M449.8 134.9h0M441.3 141.7h0M441.2 132.9h0M446.1 140.0h0M441.9 146.5h0M441.1 136.1h0M445.5 140.6h0M438.0 139.2h0M444.7 143.2h0M445.8 151.4h0M444.4 145.2h0M441.2 146.7h0M441.8 130.2h0M435.4 139.8h0M441.4 150.5h0M443.0 135.4h0M445.1 139.2h0M442.4 134.4h0M440.4 155.1h0M438.7 139.0h0M441.7 136.5h0M442.4 148.6h0M446.4 153.0h0M441.9 147.5h0M440.0 151.9h0M441.5 145.0h0M440.1 141.9h0M441.0 139.1h0M433.6 138.5h0M435.9 137.7h0M437.4 146.4h0M443.6 142.1h0M441.6 143.9h0M442.4 148.5h0M446.2 142.6h0M437.9 130.8h0M446.2 136.0h0M443.3 133.0h0M439.2 125.9h0M447.5 144.0h0M436.5 132.3h0M437.6 131.5h0M441.1 133.4h0M443.4 150.9h0M441.1 140.3h0M433.8 152.0h0M440.7 142.3h0M441.6 139.1h0M451.4 148.1h0M447.0 148.4h0M442.3 144.1h0M437.8 133.7h0M443.1 138.9h0M437.5 132.4h0M442.6 140.7h0M443.2 143.9h0M440.4 156.4h0M442.8 155.7h0M440.6 149.1h0M439.7 151.6h0M447.6 145.1h0M444.0 168.0h0M440.7 156.8h0M439.0 166.8h0M442.5 146.5h0M444.0 146.7h0M445.1 152.5h0M447.4 144.7h0M443.6 145.8h0M437.7 134.1h0M449.5 151.5h0M446.2 144.2h0M445.0 150.3h0M446.9 141.0h0M436.3 127.0h0M440.5 147.5h0M439.9 153.5h0M446.3 131.5h0M437.4 134.3h0M440.6 140.3h0M447.5 140.8h0M444.3 127.7h0M440.4 158.8h0M448.9 152.1h0M436.9 137.5h0M443.6 126.7h0M441.0 146.3h0M443.8 160.9h0M440.8 150.5h0M438.7 153.4h0M442.7 134.5h0M436.9 145.1h0M443.8 129.5h0M440.7 160.8h0M445.3 148.1h0M440.2 124.1h0M439.3 126.4h0M443.3 147.3h0M446.5 144.2h0M434.1 140.2h0M442.3 148.5h0M444.2 161.1h0M436.5 146.3h0M438.5 126.8h0M444.3 141.6h0M438.7 131.2h0M439.5 135.8h0M448.3 145.9h0M438.3 141.4h0M438.6 133.4h0M433.2 142.7h0M437.7 135.6h0M437.2 147.7h0M448.3 140.8h0M446.4 146.5h0M437.1 140.5h0M449.2 149.7h0M444.7 141.7h0M441.2 142.8h0M444.9 137.8h0M443.3 144.2h0M439.0 127.0h0M435.2 166.9h0M438.4 136.8h0M441.8 143.8h0M440.5 138.6h0M439.1 138.5h0M445.5 146.5h0M437.8 138.3h0M445.2 139.0h0M440.0 130.5h0M442.2 134.6h0M437.6 132.4h0M441.8 159.1h0M438.9 130.9h0M435.3 133.2h0M441.8 144.6h0M441.6 155.7h0M444.9 127.6h0M442.9 128.9h0M438.0 144.0h0M439.5 145.9h0M432.5 130.1h0M437.6 126.7h0M446.7 134.2h0M447.5 149.6h0M444.7 142.5h0M443.0 149.6h0M444.0 141.9h0M443.6 142.6h0M435.3 148.4h0M438.6 141.8h0M446.3 145.0h0M446.2 134.6h0M442.7 137.4h0M440.7 147.1h0M440.4 140.7h0M439.8 136.1h0M438.4 148.7h0M434.6 147.7h0M442.4 142.8h0M440.1 136.0h0M441.0 150.9h0M448.3 165.3h0M444.0 135.4h0M439.2 128.9h0M444.0 135.8h0M436.2 134.4h0M445.8 131.4h0M420.5 168.1h0M426.6 143.7h0M424.8 161.9h0M437.5 137.0h0M430.5 154.7h0M415.8 176.0h0M429.1 155.8h0M435.8 153.8h0M428.2 153.5h0M433.5 152.1h0M426.1 173.2h0M431.0 162.9h0M420.1 159.1h0M431.5 150.9h0M417.1 163.3h0M434.9 166.1h0M416.2 165.3h0M412.2 174.1h0M429.8 152.1h0M425.1 149.1h0M427.1 165.5h0M429.1 154.6h0M426.1 151.8h0M420.4 156.3h0M427.7 151.5h0M428.6 151.3h0M429.6 144.3h0M439.5 156.2h0M421.4 162.9h0M426.7 163.3h0M430.0 152.1h0M423.3 161.4h0M418.3 163.5h0M422.5 167.6h0M433.4 157.7h0M424.5 160.7h0M430.4 149.8h0M421.4 152.1h0M429.3 149.5h0M421.8 155.7h0M420.7 157.1h0M427.0 148.1h0M426.6 168.1h0M436.1 152.2h0M415.5 150.6h0M429.7 147.3h0M437.0 140.6h0M435.4 152.5h0M423.7 166.0h0M421.8 153.4h0M423.0 163.4h0M428.3 153.8h0M427.6 164.0h0M428.6 164.7h0M430.3 156.4h0M419.2 166.7h0M418.8 162.1h0M418.1 160.0h0M417.4 155.2h0M425.6 159.7h0M428.4 155.1h0M443.2 143.0h0M429.9 154.1h0M426.4 155.7h0M435.8 143.6h0M421.4 156.7h0M428.6 163.2h0M432.8 151.0h0M431.5 162.9h0M429.0 147.4h0M424.0 149.4h0M418.0 163.5h0M425.3 162.9h0M422.3 155.2h0M430.9 158.1h0M425.4 163.9h0M430.0 161.7h0M415.6 163.5h0M432.8 152.3h0M420.6 149.7h0M415.9 164.2h0M417.1 165.1h0M422.1 169.4h0M433.8 143.3h0M431.1 148.1h0M418.5 155.5h0M426.9 162.7h0M425.6 140.4h0M415.9 156.8h0M419.7 175.4h0M412.7 170.6h0M420.5 151.9h0M408.6 168.6h0M421.0 166.3h0M420.1 164.9h0M421.0 159.1h0M420.8 155.4h0M434.0 157.4h0M424.0 158.5h0M427.9 161.4h0M431.3 156.3h0M432.3 149.8h0M430.8 163.7h0M422.6 156.1h0M419.0 164.9h0M421.1 156.2h0M423.2 157.6h0M426.3 155.3h0M425.7 152.9h0M433.6 153.7h0M425.6 166.3h0M438.2 161.5h0M433.2 162.0h0M423.1 158.0h0M432.0 163.0h0M407.2 172.8h0M435.5 162.9h0M429.0 146.7h0M428.9 165.2h0M415.1 160.5h0M443.1 153.5h0M424.6 155.0h0M425.3 163.8h0M433.8 150.0h0M425.0 145.2h0M420.6 154.3h0M430.7 152.4h0M419.6 161.7h0M431.2 138.6h0M427.2 148.3h0M433.8 147.0h0M418.2 161.0h0M434.6 152.9h0M428.3 150.2h0M439.4 137.9h0M422.0 162.0h0M438.6 146.4h0M431.0 159.8h0M431.5 149.9h0M421.5 164.6h0M430.0 148.5h0M430.8 155.8h0M420.8 161.3h0M418.6 165.2h0M421.2 154.2h0M436.0 149.6h0M427.3 150.6h0M432.5 151.7h0M428.2 159.9h0M427.1 176.6h0M427.8 156.2h0M423.6 163.7h0M434.4 152.3h0M427.4 163.9h0M427.8 159.1h0M417.1 170.3h0M428.4 158.0h0M421.8 176.2h0M423.0 168.5h0M433.2 140.9h0M419.0 163.9h0M425.0 158.4h0M430.5 139.4h0M434.0 146.0h0M422.9 156.3h0M428.4 150.6h0M428.2 156.6h0M418.8 150.0h0M412.1 171.7h0M413.5 170.9h0M430.3 156.7h0M427.0 154.3h0M417.4 163.1h0M422.0 156.8h0M423.6 166.5h0M423.9 162.0h0M426.1 170.6h0M441.0 144.6h0M421.1 170.3h0M427.2 152.5h0M421.2 159.4h0M422.1 152.9h0M420.4 164.5h0M424.8 157.7h0M422.6 163.7h0M428.6 165.5h0M427.7 155.7h0M420.4 163.6h0M439.0 154.5h0M418.5 161.9h0M428.7 151.8h0M440.7 149.7h0M421.6 163.6h0M435.1 156.3h0M435.7 156.2h0M428.5 151.0h0M414.0 168.3h0M435.7 158.9h0M426.9 153.5h0M422.7 161.9h0M434.8 147.2h0M421.5 161.4h0M433.4 163.9h0M422.7 160.7h0M429.9 148.2h0M419.1 164.2h0M423.7 160.3h0M420.2 168.6h0M421.6 151.1h0M427.5 150.1h0M425.2 157.3h0M427.5 145.8h0M434.8 158.9h0M425.5 144.0h0M413.9 159.8h0M424.4 148.5h0M426.8 152.3h0M433.1 157.8h0M433.2 156.4h0M432.6 159.0h0M424.8 162.1h0M430.6 140.5h0M416.7 165.6h0M434.9 138.9h0M429.2 151.7h0M429.7 152.1h0M423.8 155.1h0M426.7 160.1h0M421.9 154.6h0M430.1 166.1h0M417.5 167.0h0M432.7 160.6h0M429.9 159.7h0M439.7 153.9h0M426.0 156.9h0M425.7 170.6h0M427.6 149.1h0M426.5 160.0h0M425.6 157.6h0M419.0 160.5h0M419.0 164.2h0M422.5 154.6h0M424.4 164.2h0M418.4 167.6h0M418.6 162.9h0M424.4 163.3h0M431.2 146.8h0M425.0 145.8h0M430.8 150.1h0M432.8 151.1h0M431.4 170.3h0M423.5 157.4h0M423.6 165.8h0M413.9 171.1h0M421.8 174.3h0M429.4 155.7h0M419.1 166.3h0M435.3 149.7h0M435.8 144.8h0M423.8 152.0h0M432.4 147.7h0M416.9 173.0h0M419.3 163.7h0M423.8 157.7h0M426.4 157.1h0M425.1 154.1h0M420.6 160.7h0M439.3 148.0h0M428.2 160.1h0M428.2 161.9h0M430.8 143.1h0M427.5 157.8h0M424.8 167.3h0M422.6 152.7h0M415.4 162.7h0M436.2 151.5h0M420.2 168.6h0M415.3 168.5h0M420.9 159.2h0M415.7 167.6h0M439.5 155.0h0M428.7 158.0h0M435.6 163.2h0M436.0 153.4h0M430.1 147.5h0M430.1 149.3h0M421.5 159.4h0M425.7 156.1h0M422.3 163.9h0M426.6 159.2h0M421.7 171.7h0M434.7 156.8h0M431.4 163.6h0M425.6 152.5h0M415.2 161.7h0M430.8 158.6h0M432.2 153.7h0M425.8 161.6h0M417.9 164.4h0M429.2 151.0h0" stroke="#6a6cb4" stroke-opacity="0.5" stroke-width="0.7" stroke-linecap="round" fill="none"/>
<path d="M444.6 142.3h0M443.3 136.9h0M437.4 137.4h0M439.5 130.4h0M440.9 130.1h0M442.3 129.5h0M440.7 145.8h0M437.8 127.7h0M442.7 146.1h0M440.4 135.1h0M443.5 145.1h0M441.5 143.0h0M443.0 146.6h0M442.7 149.6h0M442.8 135.9h0M439.7 134.5h0M443.1 138.2h0M441.3 135.9h0M438.1 145.8h0M440.0 140.4h0M440.1 141.2h0M441.9 144.0h0M442.3 137.8h0M438.4 148.8h0M442.4 128.3h0M440.7 142.7h0M438.5 144.6h0M442.7 135.7h0M439.2 136.3h0M438.2 147.4h0M442.5 138.8h0M442.8 127.7h0M439.4 131.7h0M443.2 148.1h0M443.1 134.9h0M439.7 150.2h0M445.2 150.6h0M440.7 139.6h0M441.3 144.8h0M435.6 135.3h0M442.3 138.2h0M439.5 136.1h0M441.8 145.1h0M437.1 132.1h0M443.4 140.1h0M444.1 141.3h0M445.0 144.6h0M434.4 126.2h0M442.2 128.5h0M441.6 134.8h0M434.2 139.4h0M439.3 141.9h0M440.7 142.3h0M444.0 155.0h0M439.0 145.5h0M441.3 145.0h0M440.7 137.5h0M441.7 146.4h0M440.0 145.7h0M442.8 145.6h0M443.0 140.1h0M437.9 145.3h0M443.3 151.5h0M439.2 135.4h0M440.3 125.9h0M443.4 146.6h0M441.1 146.0h0M442.1 139.3h0M442.6 137.8h0M442.2 160.1h0M439.7 137.7h0M438.8 132.4h0M442.4 137.6h0M442.6 144.4h0M441.7 136.7h0M440.5 138.2h0M442.8 143.0h0M440.8 137.9h0M437.9 141.8h0M441.5 140.6h0M442.0 133.5h0M442.6 141.4h0M438.9 132.8h0M439.3 147.4h0M441.6 134.4h0M439.9 139.2h0M440.8 128.2h0M443.0 137.8h0M441.8 132.2h0M444.9 151.3h0M441.6 140.0h0M444.7 144.5h0M443.3 128.7h0M446.5 132.3h0M441.0 139.7h0M440.8 131.4h0M443.8 148.8h0M439.8 138.1h0M439.9 141.9h0M441.5 143.0h0M441.8 139.8h0M437.9 146.2h0M441.5 136.2h0M440.3 143.4h0M440.9 149.1h0M441.4 142.3h0M440.6 141.7h0M443.3 138.5h0M442.0 141.2h0M440.6 145.5h0M441.2 139.1h0M443.3 129.2h0M442.7 142.0h0M443.8 139.8h0M440.7 144.1h0M441.3 141.1h0M445.4 151.7h0M440.9 132.5h0M444.7 134.1h0M442.9 145.3h0M440.1 133.7h0M438.0 143.1h0M442.4 140.7h0M439.5 127.3h0M439.5 145.4h0M437.2 150.3h0M443.6 142.2h0M441.2 131.2h0M441.1 146.2h0M441.9 133.6h0M441.6 140.0h0M441.2 143.7h0M442.2 135.4h0M440.4 129.1h0M435.4 139.8h0M442.6 140.5h0M442.0 134.9h0M441.1 135.4h0M444.5 145.9h0M438.0 140.2h0M434.7 137.6h0M444.3 136.7h0M441.9 141.9h0M437.4 141.4h0M440.1 139.6h0M442.4 131.2h0M438.4 138.2h0M442.2 136.5h0M445.7 141.2h0M444.1 148.7h0M441.0 147.3h0M441.7 145.2h0M439.0 141.5h0M441.3 138.6h0M440.3 143.1h0M438.9 137.5h0M438.1 138.4h0M445.2 135.0h0M441.2 140.4h0M438.8 140.2h0M440.1 153.3h0M444.3 144.5h0M444.6 138.2h0M439.7 146.0h0M441.5 137.5h0M443.0 147.6h0M440.3 146.1h0M438.5 160.5h0M438.9 133.4h0M441.1 140.3h0M439.3 140.0h0M438.2 142.8h0M440.5 145.6h0M443.1 134.1h0M442.5 135.8h0M440.5 142.8h0M445.2 147.3h0M439.3 133.1h0M440.9 130.2h0M438.0 148.5h0M442.7 146.5h0M440.8 148.1h0M437.4 134.2h0M439.2 139.4h0M444.9 142.3h0M442.6 143.7h0M441.3 140.0h0M442.9 140.4h0M437.5 147.6h0M439.2 137.8h0M438.1 137.1h0M439.2 137.8h0M440.2 137.3h0M442.2 141.6h0M443.2 139.3h0M443.2 137.8h0M446.9 150.4h0M439.9 142.8h0M441.0 138.5h0M442.1 149.3h0M439.2 137.0h0M440.4 140.8h0M441.9 140.1h0M439.1 136.9h0M442.0 138.2h0M443.7 141.3h0M438.6 131.1h0M436.0 138.1h0M441.2 142.4h0M438.7 142.6h0M441.4 142.8h0M440.0 156.5h0M441.7 145.2h0M443.5 139.8h0M442.8 139.9h0M440.2 140.7h0M438.4 143.7h0M435.6 138.8h0M436.2 150.9h0M439.3 133.4h0" stroke="#2e3070" stroke-opacity="0.5" stroke-width="0.7" stroke-linecap="round" fill="none"/>
<path d="M438.9 132.3h0M443.0 139.8h0M443.0 137.0h0M444.2 130.9h0M442.7 151.8h0M440.3 130.7h0M443.4 144.0h0M440.0 145.2h0M440.6 140.4h0M438.9 157.5h0M443.7 142.0h0M443.3 137.2h0M440.3 152.5h0M440.6 137.0h0M441.3 133.2h0M441.7 135.8h0M442.9 138.0h0M441.4 142.1h0M442.0 143.9h0M438.2 132.6h0M440.6 144.0h0M437.7 155.4h0M444.8 137.5h0M444.0 141.1h0M442.7 146.1h0M443.5 149.2h0M445.3 137.8h0M443.1 136.0h0M438.1 135.7h0M440.8 148.5h0M436.5 147.3h0M439.6 128.7h0M438.8 128.8h0M441.2 134.3h0M442.0 132.7h0M439.4 144.4h0M440.7 143.2h0M441.8 153.8h0M440.9 146.7h0M440.9 142.6h0M436.4 149.1h0M440.4 136.4h0M442.8 133.4h0M441.7 142.1h0M438.3 147.6h0M440.7 132.0h0M441.8 147.3h0M439.3 147.1h0M442.6 138.8h0M439.6 142.9h0M440.6 140.2h0M441.0 142.4h0M445.7 146.8h0M440.6 137.0h0M440.1 148.2h0M442.7 147.2h0M440.3 147.4h0M441.6 129.9h0M436.7 130.5h0M441.8 146.1h0M441.2 138.3h0M438.6 137.7h0M443.9 137.2h0M440.7 133.7h0M440.8 140.1h0M438.6 137.5h0M438.0 137.9h0M440.1 144.8h0M438.2 134.7h0M442.2 148.7h0M443.0 128.3h0M440.0 157.2h0M438.0 133.6h0M440.4 145.4h0M439.1 147.4h0M441.6 141.8h0M441.6 146.4h0M440.4 141.2h0M441.4 131.1h0M443.3 144.0h0M444.6 148.8h0M440.2 138.5h0M442.7 131.5h0M440.7 138.2h0M439.1 143.8h0M443.8 143.7h0M442.0 148.6h0M441.5 145.3h0M441.9 145.0h0M440.9 129.6h0M439.1 155.5h0M444.8 142.2h0M443.0 147.1h0M441.7 139.7h0M443.1 140.9h0M443.8 142.2h0M440.8 151.5h0M442.4 151.1h0M440.6 145.6h0M442.5 154.0h0M440.7 139.5h0M446.1 145.0h0M440.5 139.1h0M442.2 149.8h0M442.1 142.1h0M440.5 147.9h0M443.1 152.4h0M441.0 129.2h0M440.4 155.2h0M441.2 143.9h0M439.7 139.9h0M443.6 130.2h0M442.5 140.1h0M443.2 127.8h0M438.5 142.4h0M441.8 140.9h0M439.7 153.1h0M441.4 139.9h0M443.8 148.5h0M441.7 149.1h0M440.9 154.6h0M443.5 140.4h0M443.2 146.6h0M444.9 132.6h0M437.5 135.1h0M441.9 140.3h0M440.4 141.8h0M439.5 134.5h0M441.4 139.4h0M438.9 146.2h0M436.8 139.1h0M439.4 141.0h0M440.7 136.5h0M445.0 150.4h0M439.8 152.9h0M438.9 143.2h0M437.3 141.2h0M440.5 152.2h0M440.7 144.9h0M441.5 137.8h0M438.3 133.7h0M439.7 138.3h0M436.7 155.5h0M441.6 138.3h0M438.1 159.7h0M435.7 141.9h0M443.5 140.6h0M442.2 150.1h0M441.9 140.5h0M441.9 144.3h0M439.1 135.6h0M443.4 134.3h0M439.1 137.4h0M445.0 143.3h0M441.7 137.9h0M437.5 129.9h0M443.0 144.9h0M445.2 141.0h0M440.7 140.3h0M443.4 138.2h0M440.8 128.1h0M440.0 151.8h0M436.1 139.0h0M443.7 145.2h0M440.3 150.6h0M442.0 148.9h0M439.0 143.2h0M439.4 142.0h0M443.5 143.9h0M440.4 147.6h0M440.4 145.6h0M438.7 139.2h0M441.6 144.8h0M442.8 144.3h0M440.3 146.3h0M440.8 143.3h0M438.8 150.4h0M444.0 143.2h0M440.0 147.5h0M440.9 142.3h0M444.6 138.5h0M440.8 136.2h0M438.1 141.0h0M439.4 145.3h0M440.5 149.8h0M444.8 141.4h0M441.7 138.8h0M440.8 138.9h0M442.9 149.9h0M443.8 142.6h0M439.7 138.9h0M444.1 146.5h0M443.0 133.9h0M442.1 142.7h0M436.5 141.7h0M441.6 141.2h0M444.0 134.9h0M440.7 148.0h0M445.9 152.3h0M441.4 133.8h0M439.2 142.7h0M442.4 146.0h0M441.8 155.9h0M442.9 139.4h0M440.8 136.2h0M443.9 142.0h0M440.1 154.4h0M441.5 142.4h0M438.7 143.6h0M439.6 152.9h0M441.7 128.9h0M439.9 128.7h0M440.3 147.6h0M440.8 146.8h0M441.8 133.5h0M442.8 145.2h0M442.8 142.3h0M443.3 143.3h0M441.7 137.0h0M440.2 139.2h0" stroke="#5c9470" stroke-opacity="0.55" stroke-width="0.75" stroke-linecap="round" fill="none"/>
<rect x="419.80" y="121.00" width="15.50" height="18.50" fill="none" stroke="#5a5a5a" stroke-width="0.9" />
<rect x="435.30" y="121.00" width="19.00" height="18.50" fill="none" stroke="#5a5a5a" stroke-width="0.9" />
<rect x="436.10" y="140.00" width="17.20" height="29.00" fill="none" stroke="#5a5a5a" stroke-width="0.9" />
<text x="413.50" y="127.80" font-size="5.9" text-anchor="middle" stroke="#2b2b2b" stroke-width="0.12">R1</text>
<text x="413.50" y="134.80" font-size="5.9" text-anchor="middle" stroke="#2b2b2b" stroke-width="0.12">1.46</text>
<text x="464.00" y="127.80" font-size="5.9" text-anchor="middle" stroke="#2b2b2b" stroke-width="0.12">R2</text>
<text x="464.00" y="134.80" font-size="5.9" text-anchor="middle" stroke="#2b2b2b" stroke-width="0.12">28.8</text>
<text x="464.00" y="156.60" font-size="5.9" text-anchor="middle" stroke="#2b2b2b" stroke-width="0.12">R3</text>
<text x="464.00" y="163.80" font-size="5.9" text-anchor="middle" stroke="#2b2b2b" stroke-width="0.12">48.6</text>
<line x1="405.30" y1="113.00" x2="405.30" y2="191.40" stroke="#555" stroke-width="0.8" />
<line x1="405.30" y1="191.40" x2="483.10" y2="191.40" stroke="#222" stroke-width="1.0" />
<line x1="403.10" y1="116.30" x2="405.30" y2="116.30" stroke="#222" stroke-width="0.8" />
<line x1="404.10" y1="120.10" x2="405.30" y2="120.10" stroke="#444" stroke-width="0.5" />
<line x1="404.10" y1="122.80" x2="405.30" y2="122.80" stroke="#444" stroke-width="0.5" />
<line x1="404.10" y1="124.70" x2="405.30" y2="124.70" stroke="#444" stroke-width="0.5" />
<line x1="404.10" y1="126.30" x2="405.30" y2="126.30" stroke="#444" stroke-width="0.5" />
<line x1="403.10" y1="128.80" x2="405.30" y2="128.80" stroke="#222" stroke-width="0.8" />
<line x1="404.10" y1="132.60" x2="405.30" y2="132.60" stroke="#444" stroke-width="0.5" />
<line x1="404.10" y1="135.30" x2="405.30" y2="135.30" stroke="#444" stroke-width="0.5" />
<line x1="404.10" y1="137.20" x2="405.30" y2="137.20" stroke="#444" stroke-width="0.5" />
<line x1="404.10" y1="138.80" x2="405.30" y2="138.80" stroke="#444" stroke-width="0.5" />
<line x1="403.10" y1="141.30" x2="405.30" y2="141.30" stroke="#222" stroke-width="0.8" />
<line x1="404.10" y1="145.10" x2="405.30" y2="145.10" stroke="#444" stroke-width="0.5" />
<line x1="404.10" y1="147.80" x2="405.30" y2="147.80" stroke="#444" stroke-width="0.5" />
<line x1="404.10" y1="149.70" x2="405.30" y2="149.70" stroke="#444" stroke-width="0.5" />
<line x1="404.10" y1="151.30" x2="405.30" y2="151.30" stroke="#444" stroke-width="0.5" />
<line x1="403.10" y1="153.80" x2="405.30" y2="153.80" stroke="#222" stroke-width="0.8" />
<line x1="404.10" y1="157.60" x2="405.30" y2="157.60" stroke="#444" stroke-width="0.5" />
<line x1="404.10" y1="160.30" x2="405.30" y2="160.30" stroke="#444" stroke-width="0.5" />
<line x1="404.10" y1="162.20" x2="405.30" y2="162.20" stroke="#444" stroke-width="0.5" />
<line x1="404.10" y1="163.80" x2="405.30" y2="163.80" stroke="#444" stroke-width="0.5" />
<line x1="403.10" y1="166.30" x2="405.30" y2="166.30" stroke="#222" stroke-width="0.8" />
<line x1="404.10" y1="170.10" x2="405.30" y2="170.10" stroke="#444" stroke-width="0.5" />
<line x1="404.10" y1="172.80" x2="405.30" y2="172.80" stroke="#444" stroke-width="0.5" />
<line x1="404.10" y1="174.70" x2="405.30" y2="174.70" stroke="#444" stroke-width="0.5" />
<line x1="404.10" y1="176.50" x2="405.30" y2="176.50" stroke="#222" stroke-width="0.5" />
<line x1="404.10" y1="179.00" x2="405.30" y2="179.00" stroke="#222" stroke-width="0.5" />
<line x1="403.10" y1="182.70" x2="405.30" y2="182.70" stroke="#222" stroke-width="0.8" />
<line x1="404.10" y1="185.50" x2="405.30" y2="185.50" stroke="#222" stroke-width="0.5" />
<line x1="404.10" y1="188.00" x2="405.30" y2="188.00" stroke="#222" stroke-width="0.5" />
<line x1="415.90" y1="191.40" x2="415.90" y2="193.40" stroke="#222" stroke-width="0.8" />
<line x1="438.40" y1="191.40" x2="438.40" y2="193.40" stroke="#222" stroke-width="0.8" />
<line x1="451.60" y1="191.40" x2="451.60" y2="193.40" stroke="#222" stroke-width="0.8" />
<line x1="464.40" y1="191.40" x2="464.40" y2="193.40" stroke="#222" stroke-width="0.8" />
<line x1="477.00" y1="191.40" x2="477.00" y2="193.40" stroke="#222" stroke-width="0.8" />
<line x1="411.30" y1="191.40" x2="411.30" y2="192.50" stroke="#444" stroke-width="0.5" />
<line x1="413.30" y1="191.40" x2="413.30" y2="192.50" stroke="#444" stroke-width="0.5" />
<line x1="418.30" y1="191.40" x2="418.30" y2="192.50" stroke="#444" stroke-width="0.5" />
<line x1="420.30" y1="191.40" x2="420.30" y2="192.50" stroke="#444" stroke-width="0.5" />
<line x1="429.30" y1="191.40" x2="429.30" y2="192.50" stroke="#444" stroke-width="0.5" />
<line x1="433.30" y1="191.40" x2="433.30" y2="192.50" stroke="#444" stroke-width="0.5" />
<line x1="436.30" y1="191.40" x2="436.30" y2="192.50" stroke="#444" stroke-width="0.5" />
<line x1="443.30" y1="191.40" x2="443.30" y2="192.50" stroke="#444" stroke-width="0.5" />
<line x1="446.30" y1="191.40" x2="446.30" y2="192.50" stroke="#444" stroke-width="0.5" />
<line x1="448.30" y1="191.40" x2="448.30" y2="192.50" stroke="#444" stroke-width="0.5" />
<line x1="456.30" y1="191.40" x2="456.30" y2="192.50" stroke="#444" stroke-width="0.5" />
<line x1="459.30" y1="191.40" x2="459.30" y2="192.50" stroke="#444" stroke-width="0.5" />
<line x1="461.30" y1="191.40" x2="461.30" y2="192.50" stroke="#444" stroke-width="0.5" />
<line x1="469.30" y1="191.40" x2="469.30" y2="192.50" stroke="#444" stroke-width="0.5" />
<line x1="472.30" y1="191.40" x2="472.30" y2="192.50" stroke="#444" stroke-width="0.5" />
<line x1="474.30" y1="191.40" x2="474.30" y2="192.50" stroke="#444" stroke-width="0.5" />
<rect x="245.20" y="193.90" width="77.80" height="78.40" fill="#fff" stroke="#a0a0a0" stroke-width="0.8" />
<path d="M271.8 210.6h0M271.2 213.9h0M264.1 214.2h0M271.7 216.1h0M271.4 213.2h0M266.3 210.2h0M279.0 214.2h0M272.1 211.7h0M267.6 216.3h0M267.0 209.6h0M265.8 203.4h0M270.1 205.8h0M269.3 210.4h0M263.0 212.6h0M264.6 209.9h0M266.0 213.7h0M267.3 206.4h0M267.5 207.8h0M266.2 213.6h0M271.8 209.6h0M273.1 209.6h0M269.4 214.5h0M259.6 215.0h0M268.4 207.4h0M271.4 210.2h0M268.7 204.3h0M270.2 209.7h0M269.5 211.1h0M262.6 205.2h0M258.2 216.7h0M271.7 216.1h0M266.8 211.9h0M270.8 212.7h0M267.7 215.1h0M268.3 209.5h0M274.9 212.4h0M263.9 212.0h0M269.0 204.9h0M264.4 207.7h0M269.3 208.0h0M271.1 213.1h0M271.8 209.8h0M269.7 213.1h0M263.1 209.3h0M270.1 205.5h0M272.8 216.2h0M273.3 218.3h0M278.2 209.8h0M271.4 208.9h0M264.7 214.5h0M266.8 206.6h0M269.4 209.2h0M273.5 204.5h0M264.1 212.3h0M272.9 210.1h0M271.8 208.2h0M265.3 208.4h0M271.6 204.5h0M265.8 207.7h0M269.0 214.0h0M267.7 209.0h0M270.0 213.9h0M264.0 207.9h0M271.3 209.3h0M259.8 209.9h0M267.3 209.3h0M266.6 212.9h0M275.8 202.1h0M271.3 212.0h0M266.9 212.6h0M265.2 210.5h0M269.2 210.2h0M266.3 209.6h0M278.6 210.7h0M257.2 212.0h0M269.3 207.1h0M258.5 212.1h0M273.5 212.4h0M265.6 211.7h0M275.9 209.0h0M266.7 211.0h0M273.7 207.6h0M269.9 208.3h0M274.1 202.9h0M269.1 209.3h0M256.3 215.2h0M265.9 209.1h0M262.4 208.0h0M273.1 212.3h0M271.3 210.1h0M269.1 210.4h0M271.0 211.2h0M269.9 212.1h0M266.6 210.2h0M277.4 205.9h0M270.1 215.5h0M268.2 210.2h0M262.8 208.4h0M266.4 211.0h0M269.1 213.8h0M268.3 205.4h0M267.0 214.6h0M268.8 209.5h0M264.2 217.2h0M269.1 212.1h0M262.4 210.6h0M265.4 214.6h0M265.9 214.6h0M272.7 208.2h0M271.1 210.4h0M269.4 208.2h0M264.1 213.7h0M267.3 205.6h0M272.5 208.8h0M274.4 202.1h0M262.7 212.9h0M267.2 202.9h0M269.5 206.4h0M270.5 210.6h0M269.1 208.8h0M271.9 208.0h0M262.9 207.7h0M275.7 207.4h0M264.1 205.0h0M269.3 211.0h0M271.3 212.2h0M274.0 211.7h0M272.9 209.2h0M272.8 213.4h0M274.5 210.6h0M268.4 213.2h0M272.3 210.7h0M275.7 209.0h0M265.8 208.0h0M263.1 202.3h0M264.8 212.7h0M275.1 208.6h0M274.4 215.6h0M267.5 203.7h0M270.1 212.5h0M271.1 206.5h0M273.6 209.2h0M261.0 208.3h0M266.7 211.4h0M268.0 210.0h0M270.5 212.6h0M269.4 210.4h0M267.7 211.7h0M270.3 213.9h0M258.1 213.3h0M282.3 207.4h0M272.6 213.4h0M272.9 209.0h0M266.3 211.7h0M270.9 208.6h0M277.9 206.4h0M276.9 198.9h0M269.4 212.2h0M263.8 207.0h0M269.8 212.2h0M267.8 216.0h0M272.8 205.1h0M263.6 213.7h0M268.3 209.7h0M270.3 211.2h0M267.1 206.3h0M273.7 209.3h0M264.2 211.2h0M263.8 215.4h0M267.6 217.2h0M272.7 210.4h0M267.8 209.0h0M266.6 217.6h0M272.6 209.1h0M270.1 209.6h0M266.9 210.6h0M269.7 211.4h0M268.1 212.4h0M271.7 207.7h0M269.7 209.5h0M265.7 216.6h0M267.1 215.5h0M267.3 211.7h0M270.7 210.6h0M270.7 209.0h0M265.5 213.9h0M268.3 208.4h0M270.5 210.2h0M273.9 207.7h0M270.2 207.8h0M277.5 208.8h0M269.2 210.0h0M272.3 207.6h0M267.7 210.0h0M264.8 210.9h0M269.6 208.4h0M271.2 207.5h0M270.5 209.3h0M269.7 212.2h0M267.7 213.8h0M265.6 211.1h0M267.8 209.3h0M271.1 209.6h0M273.2 215.6h0M254.9 215.2h0M271.7 206.5h0M273.8 209.1h0M274.6 207.4h0M270.8 208.5h0M272.0 204.0h0M267.2 210.4h0M268.7 205.6h0M271.4 207.7h0M264.4 215.7h0M265.7 213.8h0M270.0 207.0h0M263.4 207.5h0M269.3 207.0h0M262.7 204.8h0M270.0 206.6h0M269.2 209.1h0M266.7 206.9h0M265.1 213.1h0M266.9 210.1h0M259.5 209.7h0M267.4 215.9h0M269.6 212.2h0M274.3 209.4h0M266.9 216.3h0M268.4 214.4h0M275.1 206.7h0M276.6 209.9h0M267.0 208.9h0M273.6 204.6h0M274.2 215.4h0M271.3 214.5h0M264.9 206.5h0M265.1 212.2h0M271.6 204.2h0M279.2 211.9h0M268.3 209.9h0M275.9 208.0h0M277.3 212.8h0M263.7 210.8h0M266.5 209.5h0M275.6 212.0h0M273.3 208.3h0M271.5 212.5h0M269.1 210.0h0M271.8 212.3h0M266.4 212.5h0M279.9 210.9h0M264.1 207.5h0M261.4 217.4h0M269.8 209.3h0M275.4 214.8h0M267.0 208.4h0M268.9 209.1h0M264.7 209.8h0M268.8 213.8h0M264.7 209.3h0M264.8 212.0h0M262.8 205.8h0M266.7 208.8h0M277.2 209.5h0M268.9 209.7h0M269.9 203.7h0M278.8 210.1h0M266.4 207.2h0M264.8 217.0h0M271.4 209.0h0M263.8 218.2h0M270.6 211.9h0M274.1 210.7h0M264.4 209.1h0M266.9 209.9h0M276.5 210.3h0M264.5 204.3h0M266.2 213.7h0M270.1 206.0h0M267.7 209.3h0M265.4 201.5h0M276.0 210.4h0M266.6 212.8h0M270.5 210.7h0M267.3 211.3h0M268.1 208.9h0M263.2 211.4h0M273.1 213.3h0M267.3 208.9h0M274.6 210.8h0M264.1 213.2h0M267.0 209.5h0M271.2 210.4h0M269.6 210.6h0M266.3 208.8h0M268.5 218.1h0M263.5 209.4h0M269.3 215.6h0M257.6 215.3h0M269.9 203.1h0M275.0 209.9h0M273.0 212.8h0M272.8 212.1h0M267.3 207.3h0M271.2 210.5h0M267.4 206.3h0M268.7 206.6h0M268.7 209.2h0M254.5 212.9h0M273.1 214.7h0M271.1 210.9h0M272.8 212.9h0M265.0 206.6h0M272.1 205.7h0M271.2 208.0h0M259.4 217.3h0M261.5 206.7h0M269.3 204.7h0M266.2 210.2h0M269.0 213.9h0M266.3 205.0h0M275.6 208.1h0M260.9 206.7h0M263.2 215.7h0M264.9 212.9h0M263.2 211.8h0M266.6 210.2h0M269.0 209.2h0M263.3 211.3h0M265.4 233.2h0M264.4 237.7h0M263.4 221.3h0M268.3 227.7h0M264.8 224.1h0M272.1 228.2h0M259.1 229.1h0M270.7 228.3h0M270.6 218.5h0M273.6 222.7h0M267.2 221.4h0M261.7 225.3h0M264.2 223.0h0M273.2 215.6h0M266.9 231.4h0M266.5 226.6h0M265.7 231.8h0M268.0 218.1h0M267.3 212.6h0M261.4 223.0h0M265.6 224.2h0M272.7 226.9h0M274.6 227.7h0M267.7 231.7h0M266.0 234.4h0M274.2 225.9h0M267.5 225.0h0M263.1 221.6h0M267.7 228.4h0M271.3 219.7h0M275.1 216.2h0M266.1 228.5h0M270.6 224.3h0M266.8 229.9h0M273.2 217.5h0M269.4 230.7h0M269.4 225.7h0M263.9 224.9h0M266.8 220.0h0M266.8 218.1h0M252.5 222.6h0M272.0 230.9h0M268.2 215.4h0M267.3 228.3h0M266.7 223.2h0M268.4 220.5h0M269.3 220.7h0M262.5 225.9h0M268.8 229.3h0M268.7 227.3h0M268.4 224.0h0M261.7 218.5h0M267.6 213.5h0M262.6 237.8h0M269.8 217.2h0M274.0 212.0h0M272.0 229.2h0M266.8 215.6h0M265.9 229.6h0M265.8 230.8h0M269.8 224.9h0M265.3 231.2h0M265.9 216.6h0M257.3 221.3h0M264.5 224.5h0M264.8 225.5h0M265.9 224.5h0M273.5 224.6h0M262.3 222.1h0M262.4 213.6h0M270.9 225.4h0M263.9 224.5h0M267.5 229.3h0M269.0 236.4h0M268.3 224.5h0M264.8 229.0h0M272.2 216.8h0M274.8 226.7h0M263.8 228.0h0M267.0 226.1h0M272.3 227.8h0M267.3 217.5h0M263.8 229.4h0M266.3 227.6h0M271.9 232.1h0M263.9 214.9h0M269.3 223.0h0M269.9 236.6h0M265.4 222.8h0M270.7 220.3h0M271.1 233.6h0M272.6 237.4h0M272.3 223.0h0M261.7 222.5h0M272.1 218.7h0M270.8 220.5h0M272.5 217.0h0M264.5 220.7h0M272.2 223.4h0M269.9 223.5h0M263.2 229.1h0M273.8 221.8h0M264.8 218.1h0M263.8 230.4h0M270.0 224.8h0M265.6 221.6h0M269.8 221.7h0M267.2 226.4h0M269.5 224.0h0M271.8 221.7h0M268.1 228.7h0M272.0 228.8h0M271.9 220.5h0M264.6 225.5h0M272.0 215.6h0M270.9 221.8h0M268.8 226.6h0M273.1 227.2h0M275.5 221.9h0M271.6 222.0h0M261.8 222.4h0M270.2 224.5h0M267.7 217.6h0M267.1 225.3h0M269.8 223.5h0M266.8 219.1h0M275.4 222.9h0M269.5 222.2h0M268.3 227.6h0M271.7 219.6h0M271.8 225.4h0M273.4 231.3h0M271.0 223.9h0M268.1 228.9h0M268.9 219.8h0M258.8 225.9h0M261.9 215.3h0M272.8 221.1h0M266.8 217.7h0M276.2 221.2h0M276.1 208.0h0M262.8 221.1h0M269.6 223.9h0M280.9 220.9h0M264.8 215.4h0M270.0 220.7h0M267.3 240.0h0M267.2 229.2h0M267.1 225.5h0M268.2 207.3h0M271.6 216.9h0M264.8 228.6h0M270.5 224.4h0M265.2 228.1h0M270.6 228.8h0M269.7 224.0h0M264.9 230.6h0M268.9 212.8h0M265.1 240.5h0M264.6 223.7h0M273.4 217.8h0M260.3 236.5h0M270.7 226.6h0M271.4 228.5h0M265.7 221.3h0M273.0 223.6h0M272.2 226.5h0M262.6 219.5h0M270.6 221.6h0M270.3 221.6h0M265.1 223.6h0M270.8 218.6h0M271.6 214.9h0M265.1 227.9h0M259.6 229.2h0M270.0 230.2h0M265.0 224.9h0M260.8 223.1h0M266.6 215.9h0M257.9 229.0h0M266.8 222.7h0M274.8 233.3h0M255.8 243.2h0M270.3 232.6h0M264.2 220.2h0M266.5 216.2h0M264.3 224.2h0M271.1 217.3h0M268.2 232.6h0M264.9 226.1h0M262.6 223.9h0M266.4 224.7h0M273.3 229.4h0M263.0 220.5h0M270.1 226.1h0M269.8 215.3h0M259.5 226.5h0M273.1 217.8h0M268.1 225.9h0M278.0 220.6h0M275.9 227.9h0M267.2 228.6h0M267.6 220.5h0M263.9 217.8h0M262.3 221.6h0M271.8 219.8h0M267.2 223.0h0M266.5 220.1h0M267.5 230.8h0M271.3 228.3h0M272.4 220.5h0M268.3 220.9h0M267.4 222.8h0M268.7 223.4h0M277.4 219.8h0M259.2 218.0h0M263.2 223.5h0M270.4 211.6h0M268.9 223.8h0M273.7 225.7h0" stroke="#6a6cb4" stroke-opacity="0.5" stroke-width="0.7" stroke-linecap="round" fill="none"/>
<path d="M274.2 219.8h0M275.0 203.6h0M274.5 214.8h0M274.4 207.6h0M276.2 203.3h0M275.5 219.4h0M275.2 213.7h0M274.6 219.8h0M275.2 204.5h0M274.8 206.7h0M275.2 213.3h0M274.3 210.0h0M274.9 214.3h0M274.6 210.2h0M273.9 211.9h0M276.1 207.1h0M275.5 221.5h0M274.4 212.0h0M273.9 206.9h0M274.4 218.0h0M274.3 216.8h0M274.5 215.2h0M273.9 215.2h0M274.3 211.6h0M274.9 213.1h0M275.2 200.7h0M273.5 204.6h0M274.9 206.6h0M274.2 215.6h0M274.2 221.2h0M274.7 212.9h0M274.4 212.3h0M275.4 220.6h0M275.4 211.7h0M274.7 217.8h0M274.5 216.5h0M276.1 206.0h0M276.2 215.8h0M275.2 215.1h0M274.8 207.1h0M275.6 207.7h0M275.9 206.3h0M274.5 222.1h0M276.1 226.5h0M274.8 218.1h0M275.7 223.3h0M274.5 205.9h0M274.9 222.3h0M274.6 225.7h0M274.9 223.5h0M275.6 208.3h0M274.3 220.4h0M274.7 213.2h0M275.3 220.3h0M274.6 210.1h0M276.3 214.0h0M273.9 210.5h0M276.7 216.8h0M274.4 213.3h0M275.6 220.6h0M276.0 218.8h0M275.3 216.4h0M273.9 213.7h0M274.7 212.1h0M274.9 213.9h0M275.3 218.4h0M275.6 214.7h0M275.7 215.7h0M275.9 213.7h0M274.2 213.5h0M268.6 214.2h0M265.5 210.0h0M271.6 208.2h0M271.6 209.0h0M267.8 205.8h0M275.0 209.1h0M267.3 206.4h0M272.7 212.4h0M270.8 210.6h0M271.0 206.9h0M273.0 211.2h0M272.5 206.1h0M270.3 210.3h0M267.6 211.0h0M267.2 210.1h0M270.7 207.4h0M274.1 209.7h0M272.4 209.5h0M270.1 210.0h0M271.0 213.2h0M271.9 213.6h0M274.5 213.4h0M268.3 208.5h0M272.0 208.3h0M270.9 210.0h0M268.3 210.9h0M267.7 205.4h0M273.4 208.6h0M271.0 213.8h0M269.7 207.2h0M270.5 208.3h0M272.7 208.4h0M270.4 211.0h0M274.2 209.8h0M269.6 209.2h0M268.3 206.6h0M269.9 211.2h0M267.9 209.9h0M269.3 208.4h0M273.3 210.0h0M274.5 211.6h0M271.8 206.7h0M270.7 206.5h0M267.9 207.7h0M267.7 208.0h0M271.1 203.2h0M270.6 208.6h0M268.8 212.4h0M269.1 209.2h0M274.1 212.1h0M272.7 203.6h0M270.3 209.7h0M270.8 213.0h0M273.4 213.4h0M271.1 208.8h0M270.8 208.1h0M266.3 210.7h0M266.0 207.2h0M265.4 209.1h0M264.6 206.2h0M270.2 210.1h0M271.0 209.9h0M268.0 213.5h0M271.3 210.7h0M271.3 208.4h0M270.0 209.7h0M266.5 207.1h0M273.8 210.0h0M273.6 209.4h0M268.8 210.8h0" stroke="#2e3070" stroke-opacity="0.5" stroke-width="0.7" stroke-linecap="round" fill="none"/>
<rect x="259.80" y="198.30" width="15.70" height="17.90" fill="none" stroke="#5a5a5a" stroke-width="0.9" />
<rect x="275.50" y="198.30" width="18.90" height="17.90" fill="none" stroke="#5a5a5a" stroke-width="0.9" />
<rect x="276.00" y="217.20" width="18.00" height="29.00" fill="none" stroke="#5a5a5a" stroke-width="0.9" />
<text x="252.80" y="205.70" font-size="5.9" text-anchor="middle" stroke="#2b2b2b" stroke-width="0.12">R1</text>
<text x="252.80" y="212.90" font-size="5.9" text-anchor="middle" stroke="#2b2b2b" stroke-width="0.12">24.5</text>
<text x="304.00" y="206.20" font-size="5.9" text-anchor="middle" stroke="#2b2b2b" stroke-width="0.12">R2</text>
<text x="304.00" y="213.50" font-size="5.9" text-anchor="middle" stroke="#2b2b2b" stroke-width="0.12">11.5</text>
<text x="303.60" y="234.10" font-size="5.9" text-anchor="middle" stroke="#2b2b2b" stroke-width="0.12">R3</text>
<text x="303.60" y="240.40" font-size="5.9" text-anchor="middle" stroke="#2b2b2b" stroke-width="0.12">3.21</text>
<line x1="245.20" y1="193.90" x2="245.20" y2="272.30" stroke="#555" stroke-width="0.8" />
<line x1="245.20" y1="272.30" x2="323.00" y2="272.30" stroke="#222" stroke-width="1.0" />
<line x1="243.00" y1="197.20" x2="245.20" y2="197.20" stroke="#222" stroke-width="0.8" />
<line x1="244.00" y1="201.00" x2="245.20" y2="201.00" stroke="#444" stroke-width="0.5" />
<line x1="244.00" y1="203.70" x2="245.20" y2="203.70" stroke="#444" stroke-width="0.5" />
<line x1="244.00" y1="205.60" x2="245.20" y2="205.60" stroke="#444" stroke-width="0.5" />
<line x1="244.00" y1="207.20" x2="245.20" y2="207.20" stroke="#444" stroke-width="0.5" />
<text x="240.40" y="199.20" font-size="5.2" text-anchor="end" stroke="#2b2b2b" stroke-width="0.12">10<tspan dy="-2.2" font-size="3.6">7</tspan></text>
<line x1="243.00" y1="209.70" x2="245.20" y2="209.70" stroke="#222" stroke-width="0.8" />
<line x1="244.00" y1="213.50" x2="245.20" y2="213.50" stroke="#444" stroke-width="0.5" />
<line x1="244.00" y1="216.20" x2="245.20" y2="216.20" stroke="#444" stroke-width="0.5" />
<line x1="244.00" y1="218.10" x2="245.20" y2="218.10" stroke="#444" stroke-width="0.5" />
<line x1="244.00" y1="219.70" x2="245.20" y2="219.70" stroke="#444" stroke-width="0.5" />
<text x="240.40" y="211.70" font-size="5.2" text-anchor="end" stroke="#2b2b2b" stroke-width="0.12">10<tspan dy="-2.2" font-size="3.6">6</tspan></text>
<line x1="243.00" y1="222.20" x2="245.20" y2="222.20" stroke="#222" stroke-width="0.8" />
<line x1="244.00" y1="226.00" x2="245.20" y2="226.00" stroke="#444" stroke-width="0.5" />
<line x1="244.00" y1="228.70" x2="245.20" y2="228.70" stroke="#444" stroke-width="0.5" />
<line x1="244.00" y1="230.60" x2="245.20" y2="230.60" stroke="#444" stroke-width="0.5" />
<line x1="244.00" y1="232.20" x2="245.20" y2="232.20" stroke="#444" stroke-width="0.5" />
<text x="240.40" y="224.20" font-size="5.2" text-anchor="end" stroke="#2b2b2b" stroke-width="0.12">10<tspan dy="-2.2" font-size="3.6">5</tspan></text>
<line x1="243.00" y1="234.70" x2="245.20" y2="234.70" stroke="#222" stroke-width="0.8" />
<line x1="244.00" y1="238.50" x2="245.20" y2="238.50" stroke="#444" stroke-width="0.5" />
<line x1="244.00" y1="241.20" x2="245.20" y2="241.20" stroke="#444" stroke-width="0.5" />
<line x1="244.00" y1="243.10" x2="245.20" y2="243.10" stroke="#444" stroke-width="0.5" />
<line x1="244.00" y1="244.70" x2="245.20" y2="244.70" stroke="#444" stroke-width="0.5" />
<text x="240.40" y="236.70" font-size="5.2" text-anchor="end" stroke="#2b2b2b" stroke-width="0.12">10<tspan dy="-2.2" font-size="3.6">4</tspan></text>
<line x1="243.00" y1="247.20" x2="245.20" y2="247.20" stroke="#222" stroke-width="0.8" />
<line x1="244.00" y1="251.00" x2="245.20" y2="251.00" stroke="#444" stroke-width="0.5" />
<line x1="244.00" y1="253.70" x2="245.20" y2="253.70" stroke="#444" stroke-width="0.5" />
<line x1="244.00" y1="255.60" x2="245.20" y2="255.60" stroke="#444" stroke-width="0.5" />
<text x="240.40" y="249.20" font-size="5.2" text-anchor="end" stroke="#2b2b2b" stroke-width="0.12">10<tspan dy="-2.2" font-size="3.6">3</tspan></text>
<line x1="244.00" y1="257.40" x2="245.20" y2="257.40" stroke="#222" stroke-width="0.5" />
<line x1="244.00" y1="259.90" x2="245.20" y2="259.90" stroke="#222" stroke-width="0.5" />
<line x1="243.00" y1="263.60" x2="245.20" y2="263.60" stroke="#222" stroke-width="0.8" />
<line x1="244.00" y1="266.40" x2="245.20" y2="266.40" stroke="#222" stroke-width="0.5" />
<line x1="244.00" y1="268.90" x2="245.20" y2="268.90" stroke="#222" stroke-width="0.5" />
<text x="239.80" y="265.60" font-size="5.2" text-anchor="end" stroke="#2b2b2b" stroke-width="0.12">0</text>
<line x1="255.80" y1="272.30" x2="255.80" y2="274.30" stroke="#222" stroke-width="0.8" />
<line x1="278.30" y1="272.30" x2="278.30" y2="274.30" stroke="#222" stroke-width="0.8" />
<line x1="291.50" y1="272.30" x2="291.50" y2="274.30" stroke="#222" stroke-width="0.8" />
<line x1="304.30" y1="272.30" x2="304.30" y2="274.30" stroke="#222" stroke-width="0.8" />
<line x1="316.90" y1="272.30" x2="316.90" y2="274.30" stroke="#222" stroke-width="0.8" />
<line x1="251.20" y1="272.30" x2="251.20" y2="273.40" stroke="#444" stroke-width="0.5" />
<line x1="253.20" y1="272.30" x2="253.20" y2="273.40" stroke="#444" stroke-width="0.5" />
<line x1="258.20" y1="272.30" x2="258.20" y2="273.40" stroke="#444" stroke-width="0.5" />
<line x1="260.20" y1="272.30" x2="260.20" y2="273.40" stroke="#444" stroke-width="0.5" />
<line x1="269.20" y1="272.30" x2="269.20" y2="273.40" stroke="#444" stroke-width="0.5" />
<line x1="273.20" y1="272.30" x2="273.20" y2="273.40" stroke="#444" stroke-width="0.5" />
<line x1="276.20" y1="272.30" x2="276.20" y2="273.40" stroke="#444" stroke-width="0.5" />
<line x1="283.20" y1="272.30" x2="283.20" y2="273.40" stroke="#444" stroke-width="0.5" />
<line x1="286.20" y1="272.30" x2="286.20" y2="273.40" stroke="#444" stroke-width="0.5" />
<line x1="288.20" y1="272.30" x2="288.20" y2="273.40" stroke="#444" stroke-width="0.5" />
<line x1="296.20" y1="272.30" x2="296.20" y2="273.40" stroke="#444" stroke-width="0.5" />
<line x1="299.20" y1="272.30" x2="299.20" y2="273.40" stroke="#444" stroke-width="0.5" />
<line x1="301.20" y1="272.30" x2="301.20" y2="273.40" stroke="#444" stroke-width="0.5" />
<line x1="309.20" y1="272.30" x2="309.20" y2="273.40" stroke="#444" stroke-width="0.5" />
<line x1="312.20" y1="272.30" x2="312.20" y2="273.40" stroke="#444" stroke-width="0.5" />
<line x1="314.20" y1="272.30" x2="314.20" y2="273.40" stroke="#444" stroke-width="0.5" />
<text x="255.80" y="280.50" font-size="5.6" text-anchor="middle" stroke="#2b2b2b" stroke-width="0.12">0</text>
<text x="277.30" y="280.50" font-size="5.6" text-anchor="middle" stroke="#2b2b2b" stroke-width="0.12">10<tspan dy="-2.2" font-size="3.8">4</tspan></text>
<text x="290.50" y="280.50" font-size="5.6" text-anchor="middle" stroke="#2b2b2b" stroke-width="0.12">10<tspan dy="-2.2" font-size="3.8">5</tspan></text>
<text x="303.30" y="280.50" font-size="5.6" text-anchor="middle" stroke="#2b2b2b" stroke-width="0.12">10<tspan dy="-2.2" font-size="3.8">6</tspan></text>
<text x="315.90" y="280.50" font-size="5.6" text-anchor="middle" stroke="#2b2b2b" stroke-width="0.12">10<tspan dy="-2.2" font-size="3.8">7</tspan></text>
<rect x="325.00" y="193.90" width="77.80" height="78.40" fill="#fff" stroke="#a0a0a0" stroke-width="0.8" />
<path d="M361.9 210.6h0M337.0 214.8h0M356.8 210.9h0M360.3 211.1h0M343.8 205.3h0M370.2 209.6h0M347.9 216.5h0M375.0 213.7h0M360.7 213.1h0M362.2 219.9h0M356.3 214.4h0M362.6 209.0h0M345.2 212.6h0M347.1 213.0h0M337.3 218.2h0M358.6 210.1h0M348.0 214.4h0M360.4 215.6h0M359.1 210.3h0M342.6 213.6h0M360.0 206.8h0M356.2 213.1h0M355.7 206.4h0M357.9 211.6h0M353.8 218.0h0M354.1 214.1h0M363.0 212.7h0M345.5 213.7h0M343.8 219.6h0M347.5 214.8h0M362.8 215.7h0M351.3 211.7h0M370.3 211.1h0M327.7 210.8h0M347.9 212.6h0M350.2 211.0h0M356.3 215.7h0M365.4 214.4h0M352.4 212.6h0M345.3 211.6h0M361.1 204.1h0M367.2 210.7h0M332.2 214.6h0M358.9 214.7h0M356.5 203.7h0M346.9 206.1h0M349.9 213.5h0M356.5 209.8h0M354.2 212.3h0M351.9 211.6h0M344.1 215.0h0M356.4 207.3h0M348.3 211.4h0M354.7 215.7h0M349.0 213.7h0M355.7 210.4h0M360.4 214.0h0M356.0 213.7h0M359.6 210.1h0M342.2 215.4h0M357.9 214.8h0M356.5 212.4h0M348.7 215.9h0M352.6 209.5h0M330.1 216.0h0M354.7 212.3h0M350.5 210.3h0M334.7 211.8h0M358.3 216.2h0M348.5 211.5h0M356.3 211.8h0M351.9 211.1h0M358.1 210.4h0M354.7 215.7h0M351.5 219.5h0M358.2 216.7h0M361.1 214.2h0M334.7 215.8h0M354.2 211.9h0M348.9 211.6h0M344.5 209.8h0M365.1 216.8h0M362.1 211.6h0M345.2 211.1h0M344.5 211.4h0M360.9 213.2h0M348.6 211.5h0M351.2 213.1h0M337.2 214.0h0M352.8 216.9h0M363.6 208.9h0M350.0 213.9h0M352.9 210.9h0M368.8 211.1h0M361.4 217.4h0M366.1 214.3h0M359.3 211.6h0M364.2 214.0h0M339.8 213.4h0M347.0 216.4h0M339.9 212.0h0M372.8 213.7h0M355.5 212.3h0M352.9 213.0h0M347.5 212.7h0M345.3 211.4h0M330.1 214.1h0M373.0 215.1h0M353.2 211.2h0M354.5 211.8h0M342.0 214.4h0M353.4 210.7h0M357.1 215.4h0M353.2 215.0h0M359.2 206.0h0M346.8 211.3h0M356.7 209.6h0M361.5 215.1h0M358.7 215.5h0M357.2 209.3h0M353.0 210.9h0M345.5 213.0h0M358.6 211.7h0M350.6 215.2h0M345.9 216.1h0M360.4 214.4h0M340.3 216.6h0M349.2 215.9h0M360.5 212.5h0M362.0 211.4h0M350.7 210.9h0M354.5 215.3h0M358.5 215.4h0M353.3 215.9h0M347.4 212.2h0M357.6 211.7h0M355.3 213.7h0M354.8 216.6h0M363.4 213.7h0M356.5 213.5h0M350.0 210.6h0M355.3 214.2h0M370.4 213.9h0M347.8 210.4h0M351.7 218.2h0M347.1 210.5h0M356.9 215.6h0M343.2 212.7h0M357.7 213.3h0M360.4 210.4h0M347.4 211.5h0M346.7 215.3h0M341.3 212.8h0M354.3 211.9h0M344.4 215.9h0M348.6 215.2h0M350.4 213.6h0M348.1 213.8h0M361.0 217.8h0M367.5 212.0h0M335.8 214.7h0M347.0 214.4h0M356.1 208.8h0M345.0 207.6h0M349.4 213.5h0M355.7 215.4h0M365.8 213.1h0M363.9 211.0h0M351.5 211.1h0M355.1 215.3h0M350.9 212.2h0M352.5 208.3h0M344.0 215.3h0M338.9 214.2h0M350.8 214.2h0M362.3 215.7h0M360.4 216.6h0M338.1 215.2h0M352.3 212.5h0M348.6 206.9h0M356.4 213.7h0M344.6 212.8h0M361.7 216.5h0M352.2 216.8h0M358.8 214.2h0M361.4 216.7h0M337.4 213.3h0M352.1 212.9h0M366.8 210.0h0M354.1 212.0h0M362.8 213.3h0M357.5 215.9h0M349.7 210.9h0M356.4 215.2h0M362.9 219.5h0M364.9 208.6h0M366.3 211.7h0M344.6 213.3h0M361.0 215.6h0M342.3 219.2h0M352.9 216.6h0M352.2 212.9h0M359.3 210.3h0M356.6 212.7h0M364.6 212.5h0M348.8 213.8h0M361.1 210.1h0M357.3 217.3h0M354.0 210.8h0M343.8 215.3h0M358.8 213.4h0M356.6 209.6h0M360.7 212.9h0M353.6 213.0h0M351.8 212.5h0M357.3 215.2h0M357.9 211.4h0M359.8 220.2h0M370.0 215.7h0M348.7 210.4h0M371.0 205.0h0M328.8 217.5h0M362.1 213.4h0M347.0 213.4h0M371.0 209.5h0M346.4 209.0h0M363.0 207.1h0M345.6 220.8h0M344.4 218.0h0M360.8 211.1h0M361.3 218.2h0M348.0 207.7h0M374.4 214.3h0M351.3 215.1h0M367.2 209.9h0M345.4 211.9h0M345.8 210.1h0M354.7 213.0h0M345.4 217.1h0M357.8 215.7h0M335.8 214.8h0M355.5 216.2h0M349.2 207.8h0M345.8 219.2h0M355.8 212.7h0M352.1 209.1h0M350.2 211.9h0M360.8 210.8h0M356.5 213.1h0M357.2 213.7h0M365.2 205.6h0M353.4 216.7h0M361.1 217.8h0M350.4 210.0h0M359.1 217.1h0M358.4 216.5h0M349.3 216.1h0M341.1 218.2h0M343.1 209.2h0M346.0 215.3h0M358.7 209.7h0M352.8 220.0h0M351.5 210.1h0M358.0 209.1h0M360.2 216.0h0M365.8 214.3h0M348.9 213.2h0M358.6 213.2h0M360.0 214.5h0M345.9 218.3h0M355.0 210.8h0M346.2 211.5h0M352.1 211.3h0M357.5 212.6h0M339.6 213.5h0M346.6 209.3h0M347.2 214.1h0M354.8 209.1h0M347.7 212.2h0M357.1 212.1h0M346.7 212.4h0M349.6 217.5h0M359.1 217.6h0M356.7 216.0h0M355.3 217.6h0M353.7 212.1h0M362.5 216.8h0M365.6 212.3h0M350.8 213.7h0M347.8 213.9h0M345.2 209.2h0M368.6 210.6h0M346.4 212.7h0M342.8 214.4h0M356.2 212.4h0M362.9 210.1h0M343.5 209.8h0M352.9 213.0h0M341.9 209.8h0M348.1 209.6h0M367.7 212.1h0M355.4 213.4h0M351.8 210.5h0M354.6 207.6h0M356.4 213.7h0M353.1 215.4h0M343.9 212.0h0M344.0 212.1h0M371.0 205.4h0M347.5 215.8h0M364.1 209.3h0M347.9 215.3h0M365.0 210.8h0M359.9 212.3h0M352.2 212.4h0M371.0 206.9h0M346.1 221.4h0M352.0 208.3h0M346.7 213.5h0M347.4 210.7h0M350.9 212.3h0M345.9 217.3h0M351.2 207.4h0M367.3 212.0h0M339.3 214.9h0M343.4 213.6h0M345.9 214.4h0M350.1 210.8h0M362.5 207.7h0M360.1 208.8h0M358.0 211.5h0M355.7 215.1h0M374.2 212.4h0M344.5 218.0h0M344.3 213.5h0M353.8 213.5h0M355.7 213.4h0M352.0 207.8h0M346.9 214.9h0M342.9 210.0h0M351.7 211.8h0M348.0 220.1h0M349.9 209.4h0M344.9 213.6h0M365.3 213.4h0M357.8 213.2h0M369.6 212.4h0M349.6 211.4h0M354.5 218.8h0M351.9 207.0h0M354.2 209.8h0M351.8 217.4h0M352.6 214.6h0M337.3 211.2h0M351.7 210.3h0M359.8 212.0h0M337.5 221.4h0M351.0 214.5h0M358.8 209.7h0M364.7 213.2h0M353.3 211.1h0M357.8 217.2h0M368.8 213.3h0M364.9 216.3h0M350.2 213.5h0M348.9 219.2h0M362.6 213.8h0M355.9 213.7h0M349.4 210.0h0M352.0 211.7h0M356.7 214.0h0M352.3 211.5h0M351.8 220.4h0M352.0 212.9h0M341.4 211.1h0M368.6 215.3h0M364.3 211.0h0M366.8 213.7h0M352.9 212.7h0M355.1 210.7h0M358.9 216.9h0M360.9 212.9h0M338.6 216.7h0M357.0 211.8h0M345.6 208.9h0M353.4 209.2h0M348.4 211.6h0M368.4 211.8h0M358.5 212.9h0M353.8 214.4h0M365.8 208.8h0M353.4 213.6h0M347.9 209.5h0M352.4 210.9h0M350.9 220.7h0M354.4 216.7h0M361.1 211.6h0M353.0 218.3h0M353.4 217.2h0M362.5 215.3h0M356.4 217.2h0M362.0 211.9h0M355.1 212.5h0M343.0 210.7h0M344.5 215.0h0M340.0 209.7h0M363.6 211.1h0M357.5 214.1h0M350.0 211.5h0M345.6 214.2h0M357.0 218.2h0M352.9 210.0h0M356.7 217.0h0M346.9 211.1h0M344.6 210.4h0M367.2 213.1h0M346.0 216.3h0M353.8 210.8h0M365.3 210.3h0M338.5 212.1h0M359.9 210.5h0M354.6 213.4h0M352.8 210.8h0M356.3 212.1h0M344.0 214.3h0M335.3 212.3h0M369.9 215.8h0M351.6 211.0h0M361.5 210.3h0M363.3 218.7h0M356.4 217.3h0M357.8 213.0h0M360.0 215.2h0M367.3 213.4h0M358.1 211.2h0M364.6 214.5h0M351.6 213.9h0M350.4 216.9h0M354.7 207.4h0M357.4 215.2h0M358.5 213.2h0M370.4 210.3h0M361.1 211.4h0M354.6 211.7h0M370.7 208.4h0M356.8 211.1h0M357.0 215.1h0M358.2 208.2h0M351.2 211.9h0M344.8 206.2h0M355.1 211.1h0M351.4 214.2h0M346.7 213.0h0M355.0 213.0h0M352.3 209.6h0M349.0 214.8h0M339.1 210.7h0M352.6 215.7h0M368.8 213.0h0M361.5 211.5h0M363.1 217.0h0M353.8 211.7h0M362.9 215.6h0M348.4 213.4h0M350.2 213.0h0M358.4 215.7h0M342.0 214.6h0M354.5 212.9h0M356.5 212.5h0M368.2 213.0h0M332.6 238.9h0M328.9 227.3h0M342.8 234.4h0M339.3 226.3h0M339.0 235.3h0M344.7 220.6h0M335.8 242.8h0M337.3 234.6h0M340.8 228.0h0M342.7 218.6h0M345.0 231.7h0M338.9 226.4h0M340.0 232.6h0M346.7 224.4h0M327.1 238.9h0M337.8 243.4h0M355.9 216.2h0M335.8 230.0h0M327.0 237.0h0M349.4 227.0h0M334.2 228.3h0M336.9 249.3h0M336.9 224.3h0M343.2 232.8h0M343.5 225.6h0M337.2 230.4h0M345.9 210.1h0M331.7 240.0h0M342.8 228.1h0M333.7 224.1h0M343.0 243.7h0M333.4 229.9h0M335.0 226.7h0M348.4 221.5h0M330.2 241.8h0M329.8 233.3h0M342.1 227.5h0M336.2 220.5h0M335.0 224.3h0M337.1 234.2h0M352.9 227.3h0M330.8 216.0h0M336.2 224.2h0M339.2 232.7h0M331.5 255.0h0M337.8 224.8h0M341.4 211.7h0M331.7 239.0h0M345.9 225.2h0M330.0 222.0h0M337.0 236.0h0M340.4 228.5h0M360.3 217.6h0M340.0 229.5h0M355.7 227.5h0M333.9 217.3h0M345.7 237.4h0M339.5 220.1h0M328.0 245.1h0M340.8 233.1h0M331.8 231.0h0M338.6 233.7h0M327.5 228.7h0M343.1 229.3h0M336.8 226.6h0M347.0 235.7h0M341.6 222.7h0M335.6 231.5h0M336.4 239.5h0M335.0 221.8h0M357.1 229.2h0M337.6 213.2h0M337.9 221.5h0M332.9 228.8h0M334.7 239.2h0M342.3 236.0h0M333.7 224.5h0M332.4 231.3h0M334.2 233.5h0M335.5 218.6h0M339.2 234.3h0M334.6 243.1h0M336.7 241.7h0M332.8 227.4h0M346.7 225.6h0M338.6 223.1h0M335.8 227.5h0M340.0 228.5h0M337.7 236.8h0M327.0 234.4h0M336.7 223.6h0M349.6 235.1h0M341.5 237.5h0M346.2 224.0h0M333.3 230.1h0M327.6 232.7h0M333.1 218.6h0M347.5 229.9h0M331.0 238.4h0M332.4 248.6h0M345.7 230.8h0M336.2 229.1h0M336.6 230.2h0M340.7 235.5h0M338.6 237.6h0M335.9 224.4h0M339.8 232.3h0M333.0 237.7h0M337.7 214.4h0M342.6 241.4h0M330.6 231.1h0M336.5 238.7h0M330.0 232.7h0M343.2 227.8h0M342.3 229.4h0M344.6 231.9h0M345.2 236.6h0M345.2 227.2h0M343.0 220.6h0M332.6 226.6h0M344.5 221.4h0M331.6 239.0h0M354.3 219.2h0M340.0 243.3h0M342.2 231.2h0M329.4 232.5h0M345.5 240.2h0M346.2 226.1h0M327.0 231.3h0M334.1 238.6h0M334.7 238.1h0M333.5 223.9h0M347.7 249.3h0M353.2 232.2h0M330.5 222.5h0M345.3 227.9h0M336.2 239.3h0M347.6 230.7h0M335.0 251.6h0M346.5 236.9h0M332.7 249.2h0M346.3 234.8h0M334.4 226.5h0M346.0 241.9h0M342.1 224.4h0M335.0 239.9h0M332.6 238.0h0M336.8 224.5h0M346.1 223.4h0M337.9 229.8h0M333.3 235.8h0M361.2 236.8h0M326.9 234.6h0M336.4 247.6h0M341.8 237.7h0M330.7 227.8h0M337.9 226.3h0M335.0 232.8h0M327.6 229.6h0M341.2 229.9h0M330.0 239.9h0M332.7 234.9h0M346.6 237.5h0M330.1 227.7h0M342.2 223.3h0M346.3 217.9h0M344.9 215.0h0M341.3 227.0h0M336.3 232.5h0M328.1 232.3h0M339.0 231.4h0M341.1 247.9h0M334.4 223.4h0M331.0 231.0h0M344.0 226.1h0M330.6 225.8h0M341.0 242.1h0M334.6 232.2h0M326.1 244.9h0M349.3 219.5h0M342.2 246.2h0M341.7 249.6h0M328.0 226.8h0M337.0 231.8h0M339.9 230.1h0M332.7 237.6h0M349.5 218.1h0M342.8 236.6h0M326.9 215.5h0M328.9 228.2h0M341.9 227.5h0M332.8 239.3h0M333.1 227.7h0M331.5 223.7h0M327.4 239.4h0M331.5 236.4h0M330.9 239.6h0M335.5 232.7h0M335.1 241.2h0M333.2 218.0h0M346.2 231.4h0M334.4 239.1h0M337.1 232.2h0M332.6 245.2h0M332.8 229.2h0M337.1 237.8h0M328.1 223.9h0M336.4 232.1h0M339.8 223.0h0M326.5 223.7h0M342.0 232.6h0M344.6 233.7h0M326.1 229.4h0M342.2 220.4h0M334.6 225.3h0M345.6 236.2h0M333.7 222.8h0M335.4 241.9h0M335.3 218.5h0M346.2 232.1h0M342.7 240.8h0M338.0 228.2h0M333.9 226.4h0M335.7 220.5h0M343.9 237.9h0M343.1 229.5h0M349.2 225.2h0M332.8 229.5h0M333.4 233.2h0M335.9 242.1h0M334.2 214.8h0M345.8 236.9h0M353.2 223.6h0M339.9 230.7h0M344.6 229.5h0M332.8 239.4h0M337.6 233.7h0M343.2 218.5h0M339.8 230.8h0M336.8 231.3h0M339.3 234.6h0M342.6 231.0h0M341.7 230.3h0M351.8 237.0h0M331.8 251.5h0M333.2 228.3h0M343.0 222.0h0M338.8 238.2h0M343.2 239.5h0M327.3 244.9h0M335.7 244.5h0M341.8 234.9h0M336.9 232.7h0M334.5 235.9h0M339.2 231.5h0M348.8 224.7h0M348.4 244.5h0M339.2 231.6h0M331.3 231.6h0M341.9 226.8h0M337.5 218.0h0M345.7 224.4h0M331.6 229.1h0M344.0 230.3h0M330.9 225.3h0M339.5 215.7h0M342.1 236.3h0M336.7 246.6h0M341.7 213.3h0M333.1 232.0h0M344.7 237.4h0M333.7 223.2h0M332.3 221.3h0M336.4 232.6h0M336.9 230.2h0M331.4 228.2h0M342.8 244.4h0M336.4 244.8h0M341.5 236.5h0M326.8 234.1h0M328.0 231.7h0M335.4 240.0h0M330.3 231.9h0M336.3 244.8h0M341.2 241.6h0M345.1 225.3h0M347.5 236.0h0" stroke="#6a6cb4" stroke-opacity="0.5" stroke-width="0.7" stroke-linecap="round" fill="none"/>
<path d="M357.3 212.7h0M353.7 212.6h0M347.3 214.1h0M350.0 215.5h0M349.7 212.7h0M351.6 215.6h0M351.2 211.2h0M349.7 213.7h0M354.6 210.9h0M356.5 213.6h0M348.9 211.4h0M345.2 213.2h0M352.6 214.4h0M351.2 211.3h0M352.8 209.7h0M348.4 212.8h0M352.3 214.2h0M347.5 213.6h0M355.6 211.4h0M357.9 214.8h0M347.5 212.6h0M340.8 214.7h0M349.3 211.4h0M349.1 214.0h0M352.0 215.5h0M351.3 211.8h0M353.2 212.6h0M362.1 214.4h0M349.0 214.2h0M349.8 213.9h0M353.0 212.9h0M343.9 210.0h0M354.4 213.2h0M348.8 210.6h0M345.5 213.3h0M347.9 208.5h0M353.3 216.0h0M354.7 216.9h0M356.3 214.0h0M353.0 211.5h0M348.4 212.5h0M353.5 214.9h0M351.0 214.5h0M360.7 211.8h0M343.1 215.5h0M357.8 214.6h0M354.4 214.2h0M353.0 212.4h0M351.0 213.1h0M349.1 211.7h0M347.5 213.5h0M345.1 211.8h0M359.5 215.5h0M355.1 213.2h0M354.1 213.6h0M352.8 213.8h0M343.7 213.8h0M350.3 210.3h0M351.9 215.7h0M356.0 213.3h0M347.4 212.1h0M352.5 211.2h0M350.4 211.8h0M351.5 211.9h0M348.3 213.2h0M352.8 211.4h0M351.7 213.4h0M343.9 213.4h0M356.3 211.8h0M360.2 217.5h0M347.9 212.9h0M356.0 213.8h0M347.5 213.3h0M349.3 212.8h0M358.5 214.5h0M352.2 215.9h0M357.5 213.0h0M352.6 211.4h0M355.5 214.2h0M350.8 208.8h0M357.2 213.4h0M358.6 212.7h0M354.2 213.8h0M349.2 210.1h0M350.0 212.2h0M347.7 211.1h0M353.9 212.0h0M353.6 214.3h0M348.7 212.7h0M355.2 211.9h0M349.2 215.4h0M358.8 213.1h0M354.8 209.1h0M357.9 211.0h0M348.7 213.9h0M347.5 213.9h0M344.2 213.5h0M354.1 213.6h0M347.0 211.3h0M356.9 212.9h0M352.1 210.7h0M354.6 211.4h0M346.4 211.2h0M349.2 211.4h0M352.3 212.3h0M354.5 212.6h0M346.4 211.4h0M352.9 215.1h0M348.2 212.1h0M354.8 216.0h0" stroke="#2e3070" stroke-opacity="0.5" stroke-width="0.7" stroke-linecap="round" fill="none"/>
<path d="M357.2 215.7h0M356.2 213.6h0M354.3 217.8h0M350.3 216.2h0M356.7 214.0h0M356.4 213.7h0M360.2 211.9h0M358.2 213.6h0M360.0 213.5h0M361.5 214.4h0M356.7 213.1h0M354.8 215.1h0M359.1 213.8h0M355.5 210.8h0M356.3 212.9h0M360.7 212.1h0M358.4 211.4h0M359.9 213.4h0M353.5 215.8h0M357.1 211.7h0M359.9 209.9h0M353.7 213.6h0M357.5 219.9h0M358.1 212.7h0M351.0 214.5h0M361.2 213.1h0M355.2 215.7h0M356.6 216.8h0M361.4 213.6h0M352.4 216.3h0M358.2 211.8h0M355.8 214.4h0M357.1 211.4h0M354.9 214.3h0M360.6 212.7h0M354.1 214.4h0M357.9 211.7h0M358.4 214.4h0M356.8 214.2h0M356.3 212.8h0M356.3 212.3h0M359.7 211.6h0M358.2 213.1h0M356.8 214.7h0M354.2 213.7h0M357.4 214.3h0M358.4 216.5h0M356.9 213.3h0M360.7 214.5h0M352.0 215.6h0M363.5 215.0h0M356.5 214.7h0M354.0 214.1h0M352.5 217.8h0M359.3 213.8h0M358.5 213.2h0M356.4 215.1h0M356.9 217.2h0M357.5 216.8h0M355.9 214.0h0M360.0 215.6h0M358.6 215.0h0M356.7 214.1h0M352.7 215.3h0M360.6 215.2h0M355.8 214.2h0M354.3 217.4h0M360.4 213.2h0M358.3 216.8h0M351.8 218.2h0M352.7 218.2h0M356.0 214.5h0M353.7 213.6h0M356.6 210.7h0M363.8 213.8h0M364.8 218.9h0M356.9 210.8h0M359.1 210.8h0M359.3 215.6h0M356.7 215.2h0M353.2 210.3h0M359.8 213.8h0M356.6 214.6h0M358.2 210.9h0M358.9 215.9h0M354.9 211.3h0M361.4 216.2h0M357.2 214.4h0M357.6 212.6h0M355.9 210.7h0M358.9 213.3h0M359.7 213.8h0M355.6 213.7h0M358.5 212.8h0M355.9 213.5h0M353.8 215.7h0M356.2 212.1h0M358.6 213.5h0M358.5 214.9h0M359.8 213.9h0M355.3 215.7h0M356.2 217.1h0M357.2 213.2h0M358.6 214.4h0M356.7 208.1h0M354.6 213.2h0M353.0 215.3h0M360.1 211.7h0M359.8 216.6h0M355.3 210.2h0M360.9 216.7h0M356.9 212.9h0M358.2 211.9h0M360.3 213.0h0M355.8 213.4h0M355.0 211.9h0M352.5 211.2h0M357.8 212.9h0M358.2 215.8h0M359.3 214.8h0M358.6 216.6h0M357.3 212.7h0M360.0 213.2h0M354.4 213.3h0M358.1 214.2h0M358.4 214.9h0M356.7 217.5h0M361.5 215.3h0M358.2 214.3h0M360.6 216.7h0" stroke="#5c9470" stroke-opacity="0.55" stroke-width="0.75" stroke-linecap="round" fill="none"/>
<rect x="339.60" y="201.90" width="16.00" height="18.50" fill="none" stroke="#5a5a5a" stroke-width="0.9" />
<rect x="355.60" y="201.90" width="18.90" height="18.50" fill="none" stroke="#5a5a5a" stroke-width="0.9" />
<rect x="356.40" y="221.20" width="17.60" height="29.10" fill="none" stroke="#5a5a5a" stroke-width="0.9" />
<text x="332.50" y="209.30" font-size="5.9" text-anchor="middle" stroke="#2b2b2b" stroke-width="0.12">R1</text>
<text x="332.50" y="215.60" font-size="5.9" text-anchor="middle" stroke="#2b2b2b" stroke-width="0.12">28.0</text>
<text x="383.70" y="210.10" font-size="5.9" text-anchor="middle" stroke="#2b2b2b" stroke-width="0.12">R2</text>
<text x="383.70" y="217.00" font-size="5.9" text-anchor="middle" stroke="#2b2b2b" stroke-width="0.12">36.3</text>
<text x="383.70" y="237.00" font-size="5.9" text-anchor="middle" stroke="#2b2b2b" stroke-width="0.12">R3</text>
<text x="383.70" y="243.90" font-size="5.9" text-anchor="middle" stroke="#2b2b2b" stroke-width="0.12">0.80</text>
<line x1="325.00" y1="193.90" x2="325.00" y2="272.30" stroke="#555" stroke-width="0.8" />
<line x1="325.00" y1="272.30" x2="402.80" y2="272.30" stroke="#222" stroke-width="1.0" />
<line x1="322.80" y1="197.20" x2="325.00" y2="197.20" stroke="#222" stroke-width="0.8" />
<line x1="323.80" y1="201.00" x2="325.00" y2="201.00" stroke="#444" stroke-width="0.5" />
<line x1="323.80" y1="203.70" x2="325.00" y2="203.70" stroke="#444" stroke-width="0.5" />
<line x1="323.80" y1="205.60" x2="325.00" y2="205.60" stroke="#444" stroke-width="0.5" />
<line x1="323.80" y1="207.20" x2="325.00" y2="207.20" stroke="#444" stroke-width="0.5" />
<line x1="322.80" y1="209.70" x2="325.00" y2="209.70" stroke="#222" stroke-width="0.8" />
<line x1="323.80" y1="213.50" x2="325.00" y2="213.50" stroke="#444" stroke-width="0.5" />
<line x1="323.80" y1="216.20" x2="325.00" y2="216.20" stroke="#444" stroke-width="0.5" />
<line x1="323.80" y1="218.10" x2="325.00" y2="218.10" stroke="#444" stroke-width="0.5" />
<line x1="323.80" y1="219.70" x2="325.00" y2="219.70" stroke="#444" stroke-width="0.5" />
<line x1="322.80" y1="222.20" x2="325.00" y2="222.20" stroke="#222" stroke-width="0.8" />
<line x1="323.80" y1="226.00" x2="325.00" y2="226.00" stroke="#444" stroke-width="0.5" />
<line x1="323.80" y1="228.70" x2="325.00" y2="228.70" stroke="#444" stroke-width="0.5" />
<line x1="323.80" y1="230.60" x2="325.00" y2="230.60" stroke="#444" stroke-width="0.5" />
<line x1="323.80" y1="232.20" x2="325.00" y2="232.20" stroke="#444" stroke-width="0.5" />
<line x1="322.80" y1="234.70" x2="325.00" y2="234.70" stroke="#222" stroke-width="0.8" />
<line x1="323.80" y1="238.50" x2="325.00" y2="238.50" stroke="#444" stroke-width="0.5" />
<line x1="323.80" y1="241.20" x2="325.00" y2="241.20" stroke="#444" stroke-width="0.5" />
<line x1="323.80" y1="243.10" x2="325.00" y2="243.10" stroke="#444" stroke-width="0.5" />
<line x1="323.80" y1="244.70" x2="325.00" y2="244.70" stroke="#444" stroke-width="0.5" />
<line x1="322.80" y1="247.20" x2="325.00" y2="247.20" stroke="#222" stroke-width="0.8" />
<line x1="323.80" y1="251.00" x2="325.00" y2="251.00" stroke="#444" stroke-width="0.5" />
<line x1="323.80" y1="253.70" x2="325.00" y2="253.70" stroke="#444" stroke-width="0.5" />
<line x1="323.80" y1="255.60" x2="325.00" y2="255.60" stroke="#444" stroke-width="0.5" />
<line x1="323.80" y1="257.40" x2="325.00" y2="257.40" stroke="#222" stroke-width="0.5" />
<line x1="323.80" y1="259.90" x2="325.00" y2="259.90" stroke="#222" stroke-width="0.5" />
<line x1="322.80" y1="263.60" x2="325.00" y2="263.60" stroke="#222" stroke-width="0.8" />
<line x1="323.80" y1="266.40" x2="325.00" y2="266.40" stroke="#222" stroke-width="0.5" />
<line x1="323.80" y1="268.90" x2="325.00" y2="268.90" stroke="#222" stroke-width="0.5" />
<line x1="335.60" y1="272.30" x2="335.60" y2="274.30" stroke="#222" stroke-width="0.8" />
<line x1="358.10" y1="272.30" x2="358.10" y2="274.30" stroke="#222" stroke-width="0.8" />
<line x1="371.30" y1="272.30" x2="371.30" y2="274.30" stroke="#222" stroke-width="0.8" />
<line x1="384.10" y1="272.30" x2="384.10" y2="274.30" stroke="#222" stroke-width="0.8" />
<line x1="396.70" y1="272.30" x2="396.70" y2="274.30" stroke="#222" stroke-width="0.8" />
<line x1="331.00" y1="272.30" x2="331.00" y2="273.40" stroke="#444" stroke-width="0.5" />
<line x1="333.00" y1="272.30" x2="333.00" y2="273.40" stroke="#444" stroke-width="0.5" />
<line x1="338.00" y1="272.30" x2="338.00" y2="273.40" stroke="#444" stroke-width="0.5" />
<line x1="340.00" y1="272.30" x2="340.00" y2="273.40" stroke="#444" stroke-width="0.5" />
<line x1="349.00" y1="272.30" x2="349.00" y2="273.40" stroke="#444" stroke-width="0.5" />
<line x1="353.00" y1="272.30" x2="353.00" y2="273.40" stroke="#444" stroke-width="0.5" />
<line x1="356.00" y1="272.30" x2="356.00" y2="273.40" stroke="#444" stroke-width="0.5" />
<line x1="363.00" y1="272.30" x2="363.00" y2="273.40" stroke="#444" stroke-width="0.5" />
<line x1="366.00" y1="272.30" x2="366.00" y2="273.40" stroke="#444" stroke-width="0.5" />
<line x1="368.00" y1="272.30" x2="368.00" y2="273.40" stroke="#444" stroke-width="0.5" />
<line x1="376.00" y1="272.30" x2="376.00" y2="273.40" stroke="#444" stroke-width="0.5" />
<line x1="379.00" y1="272.30" x2="379.00" y2="273.40" stroke="#444" stroke-width="0.5" />
<line x1="381.00" y1="272.30" x2="381.00" y2="273.40" stroke="#444" stroke-width="0.5" />
<line x1="389.00" y1="272.30" x2="389.00" y2="273.40" stroke="#444" stroke-width="0.5" />
<line x1="392.00" y1="272.30" x2="392.00" y2="273.40" stroke="#444" stroke-width="0.5" />
<line x1="394.00" y1="272.30" x2="394.00" y2="273.40" stroke="#444" stroke-width="0.5" />
<text x="335.60" y="280.50" font-size="5.6" text-anchor="middle" stroke="#2b2b2b" stroke-width="0.12">0</text>
<text x="357.10" y="280.50" font-size="5.6" text-anchor="middle" stroke="#2b2b2b" stroke-width="0.12">10<tspan dy="-2.2" font-size="3.8">4</tspan></text>
<text x="370.30" y="280.50" font-size="5.6" text-anchor="middle" stroke="#2b2b2b" stroke-width="0.12">10<tspan dy="-2.2" font-size="3.8">5</tspan></text>
<text x="383.10" y="280.50" font-size="5.6" text-anchor="middle" stroke="#2b2b2b" stroke-width="0.12">10<tspan dy="-2.2" font-size="3.8">6</tspan></text>
<text x="395.70" y="280.50" font-size="5.6" text-anchor="middle" stroke="#2b2b2b" stroke-width="0.12">10<tspan dy="-2.2" font-size="3.8">7</tspan></text>
<rect x="405.30" y="193.90" width="77.80" height="78.40" fill="#fff" stroke="#a0a0a0" stroke-width="0.8" />
<path d="M445.7 218.6h0M437.4 224.8h0M445.3 217.0h0M436.7 228.7h0M447.4 224.1h0M443.2 226.8h0M438.2 206.9h0M433.7 229.8h0M440.4 209.2h0M436.8 220.8h0M446.0 228.1h0M437.2 222.0h0M441.0 227.9h0M443.7 225.1h0M441.9 224.4h0M442.8 216.7h0M440.9 232.2h0M444.5 233.2h0M438.3 219.0h0M444.0 215.9h0M437.3 225.4h0M442.5 217.1h0M437.6 224.8h0M441.1 230.6h0M444.0 229.3h0M446.4 236.2h0M435.1 227.5h0M438.9 214.7h0M438.1 216.3h0M446.3 228.2h0M438.5 239.9h0M444.4 220.6h0M439.9 215.8h0M436.4 235.5h0M442.2 222.5h0M437.5 229.5h0M444.5 232.8h0M444.9 215.2h0M446.8 220.5h0M438.0 218.8h0M447.7 228.1h0M445.4 229.1h0M435.0 219.4h0M450.1 228.3h0M448.1 208.4h0M437.9 226.5h0M443.0 226.5h0M436.7 223.6h0M441.3 211.2h0M442.5 222.7h0M444.1 214.5h0M438.7 235.9h0M441.7 221.1h0M438.3 221.8h0M443.2 222.6h0M444.2 228.1h0M442.0 224.2h0M446.1 228.1h0M444.6 215.7h0M443.2 232.9h0M446.1 219.4h0M437.1 230.0h0M441.6 225.6h0M435.1 232.6h0M441.7 222.9h0M440.0 211.1h0M444.9 213.8h0M440.1 221.6h0M439.4 235.3h0M441.4 220.0h0M441.3 224.0h0M443.7 234.2h0M438.5 218.8h0M436.1 226.2h0M435.8 225.9h0M446.1 218.5h0M437.0 225.5h0M440.0 232.4h0M437.6 232.4h0M445.1 220.7h0M439.6 248.2h0M446.4 226.5h0M439.1 221.2h0M442.9 217.5h0M444.6 215.2h0M445.4 230.5h0M437.3 199.2h0M440.4 222.3h0M441.5 211.9h0M434.9 222.1h0M444.4 223.3h0M443.2 212.5h0M443.7 215.2h0M436.5 234.3h0M442.5 218.9h0M443.4 223.5h0M445.6 220.9h0M439.8 230.6h0M444.3 233.9h0M449.2 231.3h0M440.1 228.2h0M440.2 228.3h0M440.6 213.5h0M436.2 234.6h0M440.4 218.8h0M447.9 216.0h0M438.3 220.4h0M441.1 216.8h0M446.3 227.0h0M443.9 229.7h0M442.6 234.4h0M440.5 222.8h0M441.4 218.5h0M441.8 221.2h0M444.4 213.7h0M442.1 217.3h0M445.3 240.4h0M434.8 217.0h0M444.9 219.7h0M439.8 228.9h0M441.8 225.7h0M440.2 230.0h0M444.2 216.2h0M441.4 214.5h0M444.1 234.7h0M438.8 217.8h0M442.5 222.7h0M446.4 225.4h0M446.0 207.9h0M440.5 221.9h0M442.3 218.1h0M440.4 228.0h0M441.4 220.9h0M441.9 204.5h0M446.3 230.2h0M444.0 202.0h0M447.3 220.1h0M447.6 217.7h0M437.1 218.4h0M443.0 223.4h0M440.1 231.6h0M435.7 216.2h0M437.8 218.4h0M439.9 229.8h0M448.1 227.8h0M442.1 229.6h0M441.1 226.4h0M441.7 221.5h0M439.0 219.4h0M442.5 219.5h0M441.5 231.2h0M435.7 236.2h0M439.8 240.3h0M454.4 214.8h0M444.2 221.5h0M441.5 223.6h0M444.3 222.2h0M438.2 214.0h0M442.2 242.0h0M445.1 236.3h0M435.8 222.2h0M439.1 219.7h0M440.3 223.5h0M440.8 213.3h0M439.9 220.7h0M442.8 230.1h0M445.6 237.6h0M443.1 231.1h0M445.6 234.6h0M445.7 214.6h0M439.6 196.1h0M442.8 235.3h0M440.4 225.1h0M444.3 222.9h0M440.5 237.8h0M441.1 215.4h0M448.2 215.5h0M441.2 217.3h0M436.0 237.3h0M442.3 231.6h0M442.9 208.4h0M439.9 237.7h0M442.1 223.7h0M445.6 227.2h0M439.9 217.0h0M441.1 239.6h0M439.2 227.3h0M443.1 234.8h0M441.4 215.1h0M438.4 229.5h0M441.3 224.3h0M448.6 221.7h0M435.5 216.6h0M436.7 217.6h0M443.1 213.6h0M436.7 217.9h0M449.1 223.4h0M436.3 228.5h0M437.0 210.3h0M439.9 214.7h0M445.9 218.3h0M444.8 209.6h0M444.0 221.1h0M443.0 221.3h0M446.7 221.9h0M435.1 227.1h0M442.9 231.6h0M447.2 230.4h0M437.9 225.9h0M443.0 228.6h0M446.4 216.8h0M446.5 215.5h0M441.3 229.1h0M448.8 228.4h0M443.7 242.3h0M445.8 221.6h0M437.9 215.1h0M439.1 226.1h0M439.0 219.7h0M448.4 215.9h0M433.2 235.2h0M435.0 240.1h0M444.8 226.7h0M442.4 218.0h0M430.9 225.8h0M440.4 223.1h0M440.7 211.7h0M446.3 230.7h0M434.8 226.5h0M439.9 234.3h0M445.8 218.8h0M444.7 223.4h0M438.5 222.6h0M440.8 208.8h0M436.4 245.1h0M446.9 205.7h0M440.3 213.8h0M446.6 220.5h0M444.8 210.2h0M438.6 227.2h0M441.3 219.6h0M444.3 224.3h0M443.5 225.6h0M447.5 224.3h0M446.0 224.5h0M443.1 222.3h0M444.4 227.3h0M439.3 230.6h0M439.7 221.5h0M444.1 219.8h0M443.1 220.2h0M437.8 226.3h0M441.6 220.5h0M438.9 220.4h0M439.8 210.7h0M446.7 240.3h0M438.4 213.1h0M439.5 238.2h0M444.0 230.6h0M442.2 232.6h0M442.5 226.0h0M436.6 228.0h0M441.8 226.3h0M440.5 228.9h0M438.9 231.0h0M439.8 236.9h0M440.8 215.2h0M445.0 228.0h0M448.8 237.7h0M442.3 235.9h0M447.4 215.0h0M442.3 226.5h0M436.5 226.3h0M442.1 226.0h0M446.6 204.4h0M447.1 231.3h0M438.7 210.0h0M450.2 242.8h0M439.2 229.6h0M439.2 223.1h0M440.0 229.4h0M447.3 225.2h0M443.4 219.3h0M445.3 223.1h0M433.8 227.0h0M441.7 217.0h0M441.5 230.1h0M444.5 233.6h0M440.2 233.3h0M446.3 234.2h0M439.4 235.3h0M436.8 230.1h0M435.9 235.4h0M446.6 224.5h0M444.7 227.6h0M439.1 236.4h0M446.0 240.9h0M441.3 221.0h0M441.5 211.4h0M436.6 242.7h0M439.9 234.1h0M442.4 239.9h0M442.7 231.9h0M439.9 226.2h0M445.6 218.5h0M447.3 215.7h0M439.0 236.7h0M443.4 232.7h0M436.4 226.8h0M443.5 214.4h0M438.4 219.5h0M441.4 218.7h0M442.6 221.4h0M441.1 198.9h0M445.8 226.1h0M439.1 237.7h0M440.3 219.3h0M443.2 224.3h0M441.9 226.5h0M442.9 215.4h0M441.2 227.8h0M439.0 217.0h0M444.4 220.2h0M442.3 226.3h0M445.3 223.6h0M446.9 224.9h0M440.7 216.0h0M439.3 230.5h0M440.3 214.6h0M439.6 231.5h0M434.7 219.9h0M448.0 213.7h0M443.5 223.3h0M450.6 214.8h0M439.9 219.4h0M444.2 222.8h0M443.0 230.9h0M441.7 231.1h0M445.6 228.3h0M442.0 221.6h0M441.7 210.7h0M442.6 222.1h0M433.8 221.3h0M439.4 223.0h0M439.3 219.5h0M448.1 219.5h0M444.2 231.2h0M444.9 212.4h0M444.3 224.2h0M441.3 235.1h0M448.1 217.3h0M441.3 215.4h0M436.8 222.1h0M444.3 221.1h0M446.3 226.4h0M442.4 236.0h0M443.4 223.0h0M445.5 229.0h0M447.6 219.0h0M444.2 219.8h0M448.2 226.7h0M443.1 218.2h0M449.7 234.6h0M437.0 220.5h0M445.5 222.7h0M443.1 214.9h0M442.5 220.3h0M437.3 215.3h0M446.0 219.8h0M441.3 208.5h0M438.4 224.0h0M439.7 239.4h0M441.2 207.6h0M442.4 239.4h0M438.7 223.0h0M438.7 231.9h0M443.6 215.2h0M441.8 241.9h0M449.2 214.6h0M440.5 223.4h0M444.8 237.8h0M448.4 212.8h0M441.3 203.5h0M445.6 223.4h0M443.1 217.3h0M442.2 215.5h0M447.9 216.0h0M438.4 211.1h0M439.8 236.4h0M435.6 234.8h0M441.6 212.0h0M445.6 223.1h0M441.1 220.0h0M445.0 233.8h0M439.3 216.6h0M446.2 238.4h0M441.6 224.1h0M440.3 217.0h0M448.0 223.2h0M442.0 218.8h0M444.1 244.1h0M442.5 225.3h0M444.6 219.7h0M442.5 224.9h0M437.6 237.1h0M443.1 215.5h0M443.8 209.0h0M443.4 235.7h0M441.2 229.5h0M448.6 220.0h0M439.4 223.3h0M442.5 233.9h0M442.8 199.7h0M438.1 235.3h0M437.7 222.4h0M444.5 230.0h0M444.5 223.5h0M442.5 251.6h0M436.2 218.5h0M441.0 233.8h0M442.9 200.7h0M444.3 224.3h0M446.4 231.0h0M443.7 210.2h0M445.5 205.8h0M448.1 224.8h0M433.5 233.0h0M445.6 234.6h0M440.4 217.8h0M443.8 227.1h0M442.8 211.3h0M438.3 239.6h0M438.7 218.8h0M443.6 235.4h0M441.4 221.5h0M444.7 221.0h0M440.6 238.5h0M449.8 216.1h0M441.1 235.5h0M449.6 220.7h0M439.2 216.1h0M444.1 216.4h0M446.1 234.1h0M437.2 223.2h0M438.5 220.8h0M443.5 210.4h0M446.2 234.5h0M447.0 233.3h0M444.0 226.8h0M445.8 230.9h0M440.5 219.1h0M447.3 225.4h0M440.0 224.9h0M441.1 218.8h0M435.7 226.0h0M441.3 217.3h0M436.2 218.0h0M443.3 212.7h0M447.4 225.1h0M443.1 217.4h0M442.6 219.4h0M440.5 236.4h0M444.0 223.5h0M438.0 223.6h0M440.3 210.1h0M449.9 219.2h0M437.2 232.7h0M439.9 228.9h0M436.9 224.4h0M446.5 222.3h0M441.1 224.5h0M437.4 227.5h0M437.4 221.0h0M446.0 201.5h0M444.4 241.6h0M444.9 234.1h0M441.7 222.5h0M445.2 236.6h0M446.7 212.1h0M444.4 235.5h0M436.1 225.6h0M434.8 231.9h0M436.6 220.8h0M442.9 225.3h0M436.5 229.2h0M438.0 233.3h0M442.1 228.5h0M438.7 227.9h0M437.3 218.6h0M445.4 239.3h0M443.7 225.8h0M444.8 221.9h0M445.3 221.0h0M447.2 213.1h0M441.7 217.2h0M441.2 210.2h0M435.5 225.7h0M441.0 223.2h0M439.7 225.9h0M445.7 212.6h0M444.3 220.1h0M447.2 218.1h0M445.8 232.8h0M446.2 210.5h0M443.8 210.2h0M442.4 235.4h0M440.5 227.1h0M441.8 209.8h0M438.4 236.0h0M443.3 237.3h0M441.5 234.2h0M434.4 205.3h0M432.0 225.0h0M439.2 216.1h0M440.1 221.5h0M440.7 209.7h0M446.5 239.5h0M439.5 217.7h0M437.2 226.4h0M443.2 231.1h0M445.5 229.4h0M447.8 227.6h0M438.1 220.4h0M440.9 225.9h0M440.2 221.9h0M447.3 203.4h0M444.3 232.9h0M441.9 218.2h0M444.4 219.2h0M440.5 220.2h0M441.0 211.4h0M441.7 213.0h0M440.0 207.6h0M440.9 228.1h0M443.1 234.5h0M442.7 224.5h0M447.2 213.6h0M444.9 235.6h0M441.5 221.0h0M433.8 209.5h0M436.4 206.9h0M439.9 225.5h0M440.4 236.9h0M437.0 220.4h0M440.4 218.1h0M442.2 221.4h0M439.4 216.2h0M441.2 218.9h0M441.4 226.1h0M439.2 217.3h0M438.6 232.2h0M441.3 215.1h0M442.7 230.2h0M437.9 227.0h0M434.3 220.4h0M438.2 221.2h0M443.5 220.9h0M435.9 239.0h0M445.1 216.6h0M441.1 223.8h0M429.3 233.0h0M427.8 240.7h0M429.6 233.9h0M435.0 228.9h0M418.8 247.0h0M422.0 226.2h0M426.2 245.9h0M427.1 239.7h0M412.9 241.4h0M428.0 234.7h0M414.9 254.0h0M430.2 238.3h0M430.7 221.4h0M410.6 241.3h0M428.5 236.9h0M426.5 249.6h0M421.2 246.2h0M431.4 232.1h0M438.2 232.7h0M428.4 235.7h0M418.1 240.9h0M415.9 247.4h0M417.6 228.3h0M418.6 249.8h0M432.5 236.5h0M427.1 233.5h0M425.0 232.1h0M430.9 225.4h0M425.3 239.8h0M425.4 238.8h0M419.8 243.1h0M421.2 252.9h0M425.4 222.3h0M417.6 238.3h0M436.0 224.8h0M426.0 244.1h0M421.6 238.8h0M431.5 226.8h0M418.3 244.4h0M432.1 235.9h0M425.8 248.9h0M437.4 231.0h0M421.6 237.4h0M422.6 236.3h0M419.7 236.2h0M417.1 247.2h0M426.8 242.6h0M418.3 241.3h0M427.3 235.5h0M421.1 250.7h0M432.0 233.8h0M408.7 253.4h0M427.9 228.4h0M425.5 233.5h0M425.2 222.9h0M421.1 231.3h0M436.5 232.4h0M422.5 248.7h0M427.9 234.1h0M423.5 230.8h0M422.9 240.3h0M425.8 245.6h0M429.6 233.7h0M417.9 249.7h0M422.1 239.7h0M416.1 235.9h0M427.8 229.8h0M419.6 240.2h0M420.3 257.5h0M429.4 239.1h0M425.1 236.4h0M427.8 238.2h0M424.3 240.2h0M427.8 233.0h0M425.7 236.9h0M417.9 241.4h0M426.5 242.2h0M422.9 250.6h0M423.6 248.5h0M427.0 234.5h0M421.6 244.5h0M418.3 237.8h0M432.8 224.8h0M437.1 230.0h0M422.9 243.9h0M432.6 232.2h0M427.7 242.0h0M421.0 246.8h0M419.8 247.2h0M423.3 238.2h0M422.4 230.4h0M423.0 252.2h0M424.4 235.2h0M417.8 248.4h0M430.8 237.4h0M417.8 240.8h0M418.2 255.9h0M431.2 238.5h0M430.1 234.4h0M434.6 228.3h0M426.0 230.6h0M421.0 232.1h0M432.6 236.7h0M424.5 235.4h0M424.4 235.4h0M419.7 245.5h0M427.8 233.7h0M409.8 253.6h0M428.6 231.1h0M412.2 243.7h0M430.8 240.4h0M415.1 240.5h0M429.6 239.1h0M441.2 230.0h0M423.4 239.4h0M417.6 231.8h0M437.8 219.7h0M422.3 232.4h0M417.9 234.2h0M433.3 238.2h0M406.7 245.2h0M415.5 236.2h0M416.6 240.6h0M420.7 240.6h0M412.0 235.7h0M430.5 238.4h0M431.8 238.3h0M424.8 234.1h0M422.5 245.6h0M415.0 234.4h0M428.2 231.9h0M420.6 240.1h0M429.2 235.6h0M431.8 241.3h0M425.5 235.5h0M411.4 240.8h0M419.1 243.9h0M434.0 232.7h0M427.0 239.8h0M434.4 229.0h0M410.6 249.6h0M424.4 234.5h0M424.0 242.8h0M414.6 240.9h0M421.0 236.7h0M431.5 241.6h0M428.7 230.1h0M421.7 240.5h0M427.3 240.4h0M432.9 230.2h0M418.2 249.3h0M427.1 232.5h0M432.0 240.2h0M420.7 230.3h0M433.6 222.4h0M424.6 238.9h0M432.4 242.8h0M431.2 244.9h0M426.9 230.7h0M423.3 239.1h0M420.9 237.6h0M426.3 222.2h0M426.6 242.0h0M434.3 228.8h0M424.6 247.9h0M427.5 238.3h0M436.2 226.4h0M427.3 231.6h0M428.2 234.5h0M435.7 233.6h0M425.8 234.1h0M427.8 255.7h0M430.1 235.9h0M424.4 230.6h0M418.0 243.7h0M415.7 252.8h0M423.9 241.9h0M432.5 230.4h0M431.7 228.7h0M435.8 224.8h0M431.1 225.4h0M421.0 237.4h0M415.7 246.6h0M421.8 236.4h0M423.5 250.6h0M420.4 244.1h0M431.2 230.5h0M420.1 241.4h0M429.0 245.5h0M430.3 222.4h0M413.9 247.7h0M422.5 258.6h0M433.4 239.1h0M430.7 227.7h0M426.0 238.3h0M418.0 241.5h0M420.6 260.7h0M425.8 232.9h0M433.4 230.2h0M428.4 233.3h0M424.6 228.4h0M426.7 213.8h0M430.3 232.7h0M413.8 249.7h0M418.8 239.6h0M425.4 241.3h0M433.1 237.6h0M432.2 237.8h0M420.1 229.7h0M425.3 248.4h0M420.4 247.4h0M422.7 245.4h0M426.1 237.4h0M422.8 239.6h0M421.6 236.8h0M417.6 246.3h0M414.9 251.8h0M423.9 234.9h0M426.4 242.8h0M429.2 231.8h0M419.9 245.9h0M420.5 240.3h0M433.4 238.1h0M427.9 249.5h0M430.9 235.4h0M421.5 237.2h0M420.5 238.3h0M417.7 247.7h0M431.6 229.9h0M417.8 250.1h0M413.9 248.1h0M420.3 247.8h0M433.4 228.2h0M425.4 231.2h0M426.7 231.7h0M425.9 240.2h0M424.9 232.7h0M424.1 243.6h0M416.1 230.2h0M436.0 225.6h0M424.2 237.6h0M433.0 219.6h0M415.0 241.0h0M428.7 225.0h0M417.5 243.0h0M416.8 242.3h0M426.9 241.9h0M431.9 227.3h0M434.0 220.2h0M433.8 228.0h0M423.4 240.2h0M430.3 235.0h0M421.3 242.0h0M421.7 249.1h0M426.7 234.4h0M424.4 237.1h0M430.7 228.1h0M413.3 242.4h0M432.5 240.0h0M421.4 243.3h0M434.7 212.8h0M432.6 241.1h0M417.7 229.5h0M424.9 235.4h0M429.6 241.7h0M420.0 242.6h0M420.4 245.4h0M423.2 245.5h0M430.0 236.6h0M431.1 225.0h0M422.4 242.6h0M430.6 229.3h0M434.7 214.2h0M431.1 231.7h0M420.4 245.3h0M419.7 242.8h0M427.0 236.8h0M430.5 246.4h0M428.0 237.9h0M422.7 246.2h0M419.2 244.6h0M433.4 243.6h0M424.2 236.1h0M437.3 237.6h0M417.8 256.1h0M423.1 237.0h0M421.1 248.3h0M437.1 220.0h0M433.2 234.5h0M422.0 245.5h0M412.8 241.2h0M432.7 220.1h0M426.1 237.8h0M417.9 241.0h0M415.5 246.3h0M427.8 238.2h0M423.9 244.8h0M426.2 248.3h0M427.8 239.2h0" stroke="#6a6cb4" stroke-opacity="0.5" stroke-width="0.7" stroke-linecap="round" fill="none"/>
<path d="M437.5 220.5h0M442.3 219.4h0M441.7 225.6h0M441.2 215.4h0M444.3 220.3h0M441.4 227.9h0M440.1 233.6h0M441.9 222.3h0M437.4 230.2h0M442.9 231.4h0M441.0 214.9h0M444.5 223.6h0M442.3 214.7h0M441.7 219.3h0M441.3 224.8h0M438.3 213.2h0M440.7 225.6h0M441.5 221.0h0M443.0 220.3h0M441.8 225.6h0M442.4 216.3h0M442.4 210.2h0M439.7 222.1h0M441.5 217.0h0M440.4 220.6h0M438.2 214.3h0M437.6 215.5h0M442.7 214.8h0M444.0 213.1h0M444.0 216.3h0M439.0 216.5h0M444.1 222.1h0M444.3 243.7h0M439.2 217.6h0M441.9 210.9h0M444.6 225.9h0M441.1 213.4h0M443.4 215.7h0M439.5 219.5h0M440.1 222.1h0M442.8 222.3h0M440.5 223.5h0M441.2 221.0h0M441.1 229.5h0M438.7 227.6h0M444.1 218.1h0M440.6 220.4h0M440.2 212.5h0M439.9 226.4h0M441.0 220.4h0M438.9 234.9h0M442.8 217.2h0M440.1 232.2h0M442.6 215.5h0M439.0 210.3h0M438.7 215.9h0M438.9 224.2h0M441.4 228.8h0M438.0 215.8h0M442.7 228.4h0M440.2 218.2h0M442.8 218.3h0M440.1 219.7h0M442.6 233.1h0M438.7 223.0h0M438.5 223.9h0M442.2 211.4h0M439.7 222.9h0M443.2 223.7h0M439.4 233.0h0M442.0 215.8h0M439.1 216.9h0M437.1 215.5h0M444.0 217.3h0M440.4 226.4h0M443.0 216.3h0M441.3 230.5h0M437.1 222.0h0M441.7 215.5h0M443.2 217.3h0M443.7 212.4h0M444.4 211.8h0M441.7 229.6h0M440.6 227.8h0M441.0 215.0h0M438.3 218.7h0M442.5 232.7h0M442.4 216.8h0M441.6 223.2h0M439.2 225.2h0M442.3 220.4h0M439.7 220.4h0M443.6 219.4h0M439.5 222.5h0M439.7 211.0h0M440.2 222.0h0M438.6 222.9h0M438.9 212.6h0M440.2 224.8h0M435.5 215.3h0M445.2 203.7h0M441.7 208.4h0M441.5 222.3h0M438.9 225.5h0M441.3 218.7h0M440.8 211.7h0M441.1 220.5h0M437.6 227.9h0M440.6 221.3h0M436.7 211.6h0M440.4 224.8h0M438.9 220.3h0M439.5 220.4h0M440.1 222.1h0M442.7 225.5h0M443.5 220.9h0M440.9 215.0h0M438.5 220.9h0M444.1 222.5h0M437.8 229.7h0M439.6 213.2h0M440.4 220.7h0M439.2 215.6h0M443.7 223.5h0M441.7 217.9h0M443.2 200.5h0M440.2 228.1h0M442.7 217.1h0M440.5 214.1h0M440.5 211.3h0M441.5 214.3h0M441.7 212.7h0M442.1 220.6h0M440.4 222.6h0M437.6 221.1h0M440.1 224.1h0M435.0 215.9h0M440.2 225.7h0M439.0 220.9h0M442.6 224.6h0M434.9 225.8h0M445.2 219.1h0M440.1 230.1h0M437.3 227.1h0M441.7 218.8h0M441.9 233.7h0M441.7 233.0h0M445.6 211.1h0M439.0 206.2h0M441.4 217.4h0M441.1 224.8h0M439.3 228.0h0M441.4 226.2h0M443.5 221.5h0M438.9 228.3h0M441.8 226.5h0M443.0 218.6h0M442.2 222.9h0M437.3 228.9h0M441.4 217.3h0M440.0 217.4h0M443.5 216.0h0M440.5 231.7h0M445.1 226.3h0M438.1 227.5h0M441.9 219.1h0M438.9 221.5h0M444.7 230.0h0M444.2 219.8h0M438.8 229.8h0M442.4 221.6h0M440.7 221.5h0M437.3 225.5h0M438.5 227.6h0M441.0 233.7h0M441.9 219.3h0M440.0 233.2h0M441.4 216.5h0M441.5 215.9h0M441.4 206.5h0M438.2 227.5h0M441.1 231.8h0M442.0 213.6h0M437.5 219.5h0M444.2 220.0h0M444.0 211.1h0M441.2 222.2h0M445.4 223.8h0M439.1 218.3h0M438.7 214.8h0M439.4 222.7h0M439.2 225.8h0M444.8 212.1h0M440.9 221.1h0M440.7 225.6h0M441.6 202.6h0M444.3 224.0h0M441.2 233.5h0M440.0 213.0h0M441.4 230.7h0M443.6 219.8h0M440.4 225.9h0M443.9 220.7h0M441.5 214.0h0M440.4 210.1h0M441.9 238.1h0M445.1 212.6h0M440.3 219.9h0M443.8 231.5h0M442.0 223.9h0M441.2 223.0h0M440.9 208.0h0M442.6 217.6h0M442.2 212.7h0M441.6 209.5h0M442.2 224.3h0M438.9 227.5h0M439.4 216.5h0M438.6 217.3h0M440.1 224.7h0" stroke="#2e3070" stroke-opacity="0.5" stroke-width="0.7" stroke-linecap="round" fill="none"/>
<path d="M443.7 218.7h0M443.3 222.8h0M440.6 222.5h0M444.5 233.4h0M436.5 222.4h0M441.8 222.9h0M441.5 222.8h0M441.3 214.3h0M443.0 220.9h0M440.5 215.7h0M440.9 224.6h0M443.6 210.7h0M441.1 217.1h0M439.2 225.4h0M442.4 211.2h0M441.1 214.5h0M440.2 229.8h0M442.4 215.9h0M439.7 223.8h0M439.3 225.7h0M440.8 217.5h0M440.9 213.7h0M441.4 233.0h0M438.9 220.5h0M444.7 227.0h0M442.6 219.3h0M441.6 226.0h0M441.7 216.0h0M436.3 215.6h0M443.1 217.6h0M439.2 220.1h0M442.3 220.1h0M438.9 221.9h0M443.3 226.4h0M440.2 220.6h0M440.9 229.5h0M444.3 219.9h0M443.3 227.8h0M438.5 231.7h0M439.9 234.3h0M441.7 211.9h0M440.8 234.2h0M442.9 213.2h0M439.9 232.4h0M437.5 223.8h0M439.5 226.0h0M440.9 218.2h0M442.4 229.5h0M442.8 228.0h0M443.8 220.5h0M441.8 220.1h0M440.9 229.0h0M442.7 230.1h0M441.1 228.5h0M440.3 221.6h0M440.4 223.9h0M443.1 229.5h0M444.3 228.9h0M443.9 230.6h0M438.1 224.7h0M443.5 219.6h0M439.0 225.6h0M440.6 226.6h0M442.5 220.7h0M438.6 226.6h0M438.8 218.8h0M439.8 225.4h0M444.7 220.2h0M443.4 236.6h0M439.5 231.0h0M441.6 225.4h0M441.6 216.0h0M441.9 216.5h0M439.9 228.1h0M444.2 223.0h0M440.5 225.7h0M442.9 214.4h0M437.9 214.8h0M442.1 224.6h0M441.6 222.6h0M444.0 215.9h0M436.1 219.1h0M442.4 228.6h0M442.9 221.3h0M440.8 227.3h0M443.9 233.8h0M445.5 225.9h0M443.1 224.6h0M442.9 220.3h0M444.0 231.2h0M442.2 215.2h0M443.7 217.3h0M442.5 223.8h0M439.9 215.0h0M439.2 229.7h0M443.6 220.1h0M442.5 227.0h0M440.0 222.0h0M441.3 222.3h0M444.2 223.9h0M437.9 212.1h0M439.5 217.3h0M442.7 221.0h0M442.9 237.2h0M438.9 228.7h0M439.3 228.2h0M441.6 217.6h0M444.1 229.2h0M441.3 231.3h0M436.6 228.4h0M443.4 239.6h0M441.2 215.8h0M440.4 217.4h0M439.0 222.3h0M443.7 218.0h0M441.8 224.2h0M442.1 227.0h0M442.0 223.8h0M442.2 224.5h0M443.0 226.3h0M444.7 228.5h0M439.2 219.9h0M441.1 219.8h0M440.4 231.0h0M444.7 221.8h0M440.7 218.9h0M438.1 225.5h0M441.2 221.7h0M439.8 224.6h0M439.8 223.5h0M440.4 227.6h0M438.7 229.3h0M437.4 218.9h0M445.2 216.5h0M441.0 233.4h0M439.4 219.7h0M442.5 214.5h0M444.0 212.5h0M437.8 223.6h0M440.4 220.0h0M441.9 212.8h0M439.6 218.1h0M442.2 217.5h0M438.8 229.8h0M440.0 225.2h0M441.0 223.8h0M442.1 216.2h0M441.4 222.7h0M439.9 227.8h0M440.6 224.8h0M437.1 230.2h0M445.6 224.3h0M440.5 228.0h0M440.7 226.6h0M441.8 220.4h0M442.4 231.8h0M442.0 226.0h0M439.9 228.8h0M438.0 217.4h0M440.9 217.3h0M439.7 222.7h0M440.2 219.0h0M441.3 227.5h0M441.8 226.3h0M443.9 231.2h0M441.0 227.3h0M437.8 217.0h0M442.5 229.5h0M443.1 219.9h0M438.0 219.4h0M442.5 224.2h0M441.7 223.8h0M440.2 230.0h0M441.6 240.8h0M442.1 226.3h0M442.5 232.5h0M443.6 222.5h0M441.3 225.8h0M441.3 220.7h0M446.1 221.3h0M439.1 231.9h0M440.7 226.5h0M440.6 226.5h0M442.8 219.0h0M443.5 234.1h0M438.6 222.7h0M443.7 219.9h0M438.9 223.7h0M446.5 227.8h0M439.9 228.3h0M443.5 232.6h0M440.7 217.5h0M442.7 221.2h0M439.8 233.2h0M441.5 237.4h0M441.3 220.0h0M441.5 223.2h0M442.9 214.6h0M440.4 218.9h0M440.6 218.5h0M438.6 223.2h0M441.0 216.7h0M440.3 229.4h0M443.1 223.5h0M442.6 222.3h0M439.8 229.3h0M442.2 222.2h0M443.9 216.4h0M440.9 224.0h0M438.9 236.8h0M446.2 224.4h0M442.4 227.0h0M442.7 222.6h0M446.3 222.5h0M439.7 226.8h0M441.9 208.0h0M437.5 216.4h0M442.3 220.3h0M442.1 222.2h0M439.7 232.5h0" stroke="#5c9470" stroke-opacity="0.55" stroke-width="0.75" stroke-linecap="round" fill="none"/>
<rect x="419.80" y="201.90" width="15.50" height="18.50" fill="none" stroke="#5a5a5a" stroke-width="0.9" />
<rect x="435.30" y="201.90" width="19.00" height="18.50" fill="none" stroke="#5a5a5a" stroke-width="0.9" />
<rect x="436.10" y="220.90" width="17.20" height="29.00" fill="none" stroke="#5a5a5a" stroke-width="0.9" />
<text x="413.50" y="208.70" font-size="5.9" text-anchor="middle" stroke="#2b2b2b" stroke-width="0.12">R1</text>
<text x="413.50" y="215.70" font-size="5.9" text-anchor="middle" stroke="#2b2b2b" stroke-width="0.12">1.61</text>
<text x="464.00" y="208.70" font-size="5.9" text-anchor="middle" stroke="#2b2b2b" stroke-width="0.12">R2</text>
<text x="464.00" y="215.70" font-size="5.9" text-anchor="middle" stroke="#2b2b2b" stroke-width="0.12">31.8</text>
<text x="464.00" y="237.50" font-size="5.9" text-anchor="middle" stroke="#2b2b2b" stroke-width="0.12">R3</text>
<text x="464.00" y="244.70" font-size="5.9" text-anchor="middle" stroke="#2b2b2b" stroke-width="0.12">46.0</text>
<line x1="405.30" y1="193.90" x2="405.30" y2="272.30" stroke="#555" stroke-width="0.8" />
<line x1="405.30" y1="272.30" x2="483.10" y2="272.30" stroke="#222" stroke-width="1.0" />
<line x1="403.10" y1="197.20" x2="405.30" y2="197.20" stroke="#222" stroke-width="0.8" />
<line x1="404.10" y1="201.00" x2="405.30" y2="201.00" stroke="#444" stroke-width="0.5" />
<line x1="404.10" y1="203.70" x2="405.30" y2="203.70" stroke="#444" stroke-width="0.5" />
<line x1="404.10" y1="205.60" x2="405.30" y2="205.60" stroke="#444" stroke-width="0.5" />
<line x1="404.10" y1="207.20" x2="405.30" y2="207.20" stroke="#444" stroke-width="0.5" />
<line x1="403.10" y1="209.70" x2="405.30" y2="209.70" stroke="#222" stroke-width="0.8" />
<line x1="404.10" y1="213.50" x2="405.30" y2="213.50" stroke="#444" stroke-width="0.5" />
<line x1="404.10" y1="216.20" x2="405.30" y2="216.20" stroke="#444" stroke-width="0.5" />
<line x1="404.10" y1="218.10" x2="405.30" y2="218.10" stroke="#444" stroke-width="0.5" />
<line x1="404.10" y1="219.70" x2="405.30" y2="219.70" stroke="#444" stroke-width="0.5" />
<line x1="403.10" y1="222.20" x2="405.30" y2="222.20" stroke="#222" stroke-width="0.8" />
<line x1="404.10" y1="226.00" x2="405.30" y2="226.00" stroke="#444" stroke-width="0.5" />
<line x1="404.10" y1="228.70" x2="405.30" y2="228.70" stroke="#444" stroke-width="0.5" />
<line x1="404.10" y1="230.60" x2="405.30" y2="230.60" stroke="#444" stroke-width="0.5" />
<line x1="404.10" y1="232.20" x2="405.30" y2="232.20" stroke="#444" stroke-width="0.5" />
<line x1="403.10" y1="234.70" x2="405.30" y2="234.70" stroke="#222" stroke-width="0.8" />
<line x1="404.10" y1="238.50" x2="405.30" y2="238.50" stroke="#444" stroke-width="0.5" />
<line x1="404.10" y1="241.20" x2="405.30" y2="241.20" stroke="#444" stroke-width="0.5" />
<line x1="404.10" y1="243.10" x2="405.30" y2="243.10" stroke="#444" stroke-width="0.5" />
<line x1="404.10" y1="244.70" x2="405.30" y2="244.70" stroke="#444" stroke-width="0.5" />
<line x1="403.10" y1="247.20" x2="405.30" y2="247.20" stroke="#222" stroke-width="0.8" />
<line x1="404.10" y1="251.00" x2="405.30" y2="251.00" stroke="#444" stroke-width="0.5" />
<line x1="404.10" y1="253.70" x2="405.30" y2="253.70" stroke="#444" stroke-width="0.5" />
<line x1="404.10" y1="255.60" x2="405.30" y2="255.60" stroke="#444" stroke-width="0.5" />
<line x1="404.10" y1="257.40" x2="405.30" y2="257.40" stroke="#222" stroke-width="0.5" />
<line x1="404.10" y1="259.90" x2="405.30" y2="259.90" stroke="#222" stroke-width="0.5" />
<line x1="403.10" y1="263.60" x2="405.30" y2="263.60" stroke="#222" stroke-width="0.8" />
<line x1="404.10" y1="266.40" x2="405.30" y2="266.40" stroke="#222" stroke-width="0.5" />
<line x1="404.10" y1="268.90" x2="405.30" y2="268.90" stroke="#222" stroke-width="0.5" />
<line x1="415.90" y1="272.30" x2="415.90" y2="274.30" stroke="#222" stroke-width="0.8" />
<line x1="438.40" y1="272.30" x2="438.40" y2="274.30" stroke="#222" stroke-width="0.8" />
<line x1="451.60" y1="272.30" x2="451.60" y2="274.30" stroke="#222" stroke-width="0.8" />
<line x1="464.40" y1="272.30" x2="464.40" y2="274.30" stroke="#222" stroke-width="0.8" />
<line x1="477.00" y1="272.30" x2="477.00" y2="274.30" stroke="#222" stroke-width="0.8" />
<line x1="411.30" y1="272.30" x2="411.30" y2="273.40" stroke="#444" stroke-width="0.5" />
<line x1="413.30" y1="272.30" x2="413.30" y2="273.40" stroke="#444" stroke-width="0.5" />
<line x1="418.30" y1="272.30" x2="418.30" y2="273.40" stroke="#444" stroke-width="0.5" />
<line x1="420.30" y1="272.30" x2="420.30" y2="273.40" stroke="#444" stroke-width="0.5" />
<line x1="429.30" y1="272.30" x2="429.30" y2="273.40" stroke="#444" stroke-width="0.5" />
<line x1="433.30" y1="272.30" x2="433.30" y2="273.40" stroke="#444" stroke-width="0.5" />
<line x1="436.30" y1="272.30" x2="436.30" y2="273.40" stroke="#444" stroke-width="0.5" />
<line x1="443.30" y1="272.30" x2="443.30" y2="273.40" stroke="#444" stroke-width="0.5" />
<line x1="446.30" y1="272.30" x2="446.30" y2="273.40" stroke="#444" stroke-width="0.5" />
<line x1="448.30" y1="272.30" x2="448.30" y2="273.40" stroke="#444" stroke-width="0.5" />
<line x1="456.30" y1="272.30" x2="456.30" y2="273.40" stroke="#444" stroke-width="0.5" />
<line x1="459.30" y1="272.30" x2="459.30" y2="273.40" stroke="#444" stroke-width="0.5" />
<line x1="461.30" y1="272.30" x2="461.30" y2="273.40" stroke="#444" stroke-width="0.5" />
<line x1="469.30" y1="272.30" x2="469.30" y2="273.40" stroke="#444" stroke-width="0.5" />
<line x1="472.30" y1="272.30" x2="472.30" y2="273.40" stroke="#444" stroke-width="0.5" />
<line x1="474.30" y1="272.30" x2="474.30" y2="273.40" stroke="#444" stroke-width="0.5" />
<text x="415.90" y="280.50" font-size="5.6" text-anchor="middle" stroke="#2b2b2b" stroke-width="0.12">0</text>
<text x="437.40" y="280.50" font-size="5.6" text-anchor="middle" stroke="#2b2b2b" stroke-width="0.12">10<tspan dy="-2.2" font-size="3.8">4</tspan></text>
<text x="450.60" y="280.50" font-size="5.6" text-anchor="middle" stroke="#2b2b2b" stroke-width="0.12">10<tspan dy="-2.2" font-size="3.8">5</tspan></text>
<text x="463.40" y="280.50" font-size="5.6" text-anchor="middle" stroke="#2b2b2b" stroke-width="0.12">10<tspan dy="-2.2" font-size="3.8">6</tspan></text>
<text x="476.00" y="280.50" font-size="5.6" text-anchor="middle" stroke="#2b2b2b" stroke-width="0.12">10<tspan dy="-2.2" font-size="3.8">7</tspan></text>
<text x="216.90" y="73.30" font-size="6.9" text-anchor="middle" stroke="#2b2b2b" stroke-width="0.12" transform="rotate(-90 216.90 73.30)">shcontrol</text>
<text x="216.90" y="152.50" font-size="6.6" text-anchor="middle" stroke="#2b2b2b" stroke-width="0.12" transform="rotate(-90 216.90 152.50)">sh<tspan font-style="italic">GATA2AS</tspan>-1</text>
<text x="216.90" y="235.50" font-size="6.6" text-anchor="middle" stroke="#2b2b2b" stroke-width="0.12" transform="rotate(-90 216.90 235.50)">sh<tspan font-style="italic">GATA2AS</tspan>-2</text>
<line x1="226.20" y1="254.50" x2="226.20" y2="288.80" stroke="#222" stroke-width="1.1" />
<path d="M223.9 256.5 L226.2 250.8 L228.5 256.5 Z" stroke="none" stroke-width="1" fill="#222" />
<line x1="225.70" y1="288.80" x2="262.00" y2="288.80" stroke="#222" stroke-width="1.1" />
<path d="M260.0 286.5 L265.5 288.8 L260.0 291.1 Z" stroke="none" stroke-width="1" fill="#222" />
<text x="223.60" y="272.00" font-size="7.0" text-anchor="middle" stroke="#2b2b2b" stroke-width="0.12" transform="rotate(-90 223.60 272.00)">CD71</text>
<text x="246.20" y="298.00" font-size="7.1" text-anchor="middle" stroke="#2b2b2b" stroke-width="0.12">CD235</text>
<text x="210.50" y="324.30" font-size="12" font-weight="bold" fill="#111">D</text>
<line x1="244.70" y1="343.40" x2="244.70" y2="405.20" stroke="#1a1a1a" stroke-width="1.1" />
<line x1="241.90" y1="404.70" x2="318.70" y2="404.70" stroke="#1a1a1a" stroke-width="1.1" />
<line x1="241.70" y1="352.65" x2="244.70" y2="352.65" stroke="#1a1a1a" stroke-width="0.9" />
<text x="238.40" y="354.95" font-size="6.6" text-anchor="end" stroke="#2b2b2b" stroke-width="0.12">600</text>
<line x1="241.70" y1="370.00" x2="244.70" y2="370.00" stroke="#1a1a1a" stroke-width="0.9" />
<text x="238.40" y="372.30" font-size="6.6" text-anchor="end" stroke="#2b2b2b" stroke-width="0.12">400</text>
<line x1="241.70" y1="387.35" x2="244.70" y2="387.35" stroke="#1a1a1a" stroke-width="0.9" />
<text x="238.40" y="389.65" font-size="6.6" text-anchor="end" stroke="#2b2b2b" stroke-width="0.12">200</text>
<line x1="241.70" y1="404.70" x2="244.70" y2="404.70" stroke="#1a1a1a" stroke-width="0.9" />
<text x="238.40" y="407.00" font-size="6.6" text-anchor="end" stroke="#2b2b2b" stroke-width="0.12">0</text>
<line x1="259.00" y1="404.70" x2="259.00" y2="407.30" stroke="#1a1a1a" stroke-width="0.9" />
<text x="263.20" y="416.30" font-size="6.9" text-anchor="end" stroke="#2b2b2b" stroke-width="0.12" transform="rotate(-45 263.20 416.30)">day6</text>
<line x1="281.40" y1="404.70" x2="281.40" y2="407.30" stroke="#1a1a1a" stroke-width="0.9" />
<text x="285.60" y="416.30" font-size="6.9" text-anchor="end" stroke="#2b2b2b" stroke-width="0.12" transform="rotate(-45 285.60 416.30)">day10</text>
<line x1="303.70" y1="404.70" x2="303.70" y2="407.30" stroke="#1a1a1a" stroke-width="0.9" />
<text x="307.90" y="416.30" font-size="6.9" text-anchor="end" stroke="#2b2b2b" stroke-width="0.12" transform="rotate(-45 307.90 416.30)">day14</text>
<text x="281.20" y="337.40" font-size="8.2" text-anchor="middle" stroke="#2b2b2b" stroke-width="0.12">CD71</text>
<text x="220.60" y="373.80" font-size="7.6" text-anchor="middle" stroke="#2b2b2b" stroke-width="0.12" transform="rotate(-90 220.60 373.80)">MFI ×10<tspan dy="-2.9" font-size="5.2">3</tspan></text>
<path d="M259.00 356.99 L281.40 384.57 L303.70 400.80" stroke="#c0143c" stroke-width="1.0" fill="none" />
<path d="M257.20 358.49 L259.00 355.04 L260.80 358.49 Z" stroke="none" stroke-width="1" fill="#c0143c" />
<path d="M279.60 386.07 L281.40 382.62 L283.20 386.07 Z" stroke="none" stroke-width="1" fill="#c0143c" />
<path d="M301.90 402.30 L303.70 398.85 L305.50 402.30 Z" stroke="none" stroke-width="1" fill="#c0143c" />
<path d="M259.00 354.82 L281.40 385.18 L303.70 400.36" stroke="#ee928e" stroke-width="1.0" fill="none" />
<rect x="257.50" y="353.32" width="3.00" height="3.00" fill="#ee928e" />
<rect x="279.90" y="383.68" width="3.00" height="3.00" fill="#ee928e" />
<rect x="302.20" y="398.86" width="3.00" height="3.00" fill="#ee928e" />
<path d="M259.00 358.72 L281.40 381.28 L303.70 392.56" stroke="#1d4370" stroke-width="1.0" fill="none" />
<circle cx="259.00" cy="358.72" r="1.5" fill="#1d4370"/>
<circle cx="281.40" cy="381.28" r="1.5" fill="#1d4370"/>
<circle cx="303.70" cy="392.56" r="1.5" fill="#1d4370"/>
<line x1="282.00" y1="348.30" x2="288.40" y2="348.30" stroke="#1d4370" stroke-width="1.0" />
<circle cx="285.20" cy="348.30" r="1.3" fill="#1d4370"/>
<text x="291.60" y="350.60" font-size="6.6" stroke="#2b2b2b" stroke-width="0.12">shControl</text>
<line x1="282.00" y1="357.70" x2="288.40" y2="357.70" stroke="#ee928e" stroke-width="1.0" />
<rect x="283.90" y="356.40" width="2.60" height="2.60" fill="#ee928e" />
<text x="291.60" y="360.00" font-size="6.6" stroke="#2b2b2b" stroke-width="0.12">sh<tspan font-style="italic">GATA2AS</tspan>-1</text>
<line x1="282.00" y1="367.40" x2="288.40" y2="367.40" stroke="#c0143c" stroke-width="1.0" />
<path d="M283.64 368.70 L285.20 365.71 L286.76 368.70 Z" stroke="none" stroke-width="1" fill="#c0143c" />
<text x="291.60" y="369.70" font-size="6.6" stroke="#2b2b2b" stroke-width="0.12">sh<tspan font-style="italic">GATA2AS</tspan>-2</text>
<line x1="378.50" y1="340.30" x2="378.50" y2="406.20" stroke="#1a1a1a" stroke-width="1.1" />
<line x1="375.70" y1="405.70" x2="451.80" y2="405.70" stroke="#1a1a1a" stroke-width="1.1" />
<line x1="375.50" y1="342.70" x2="378.50" y2="342.70" stroke="#1a1a1a" stroke-width="0.9" />
<text x="372.20" y="345.00" font-size="6.6" text-anchor="end" stroke="#2b2b2b" stroke-width="0.12">10</text>
<line x1="375.50" y1="355.30" x2="378.50" y2="355.30" stroke="#1a1a1a" stroke-width="0.9" />
<text x="372.20" y="357.60" font-size="6.6" text-anchor="end" stroke="#2b2b2b" stroke-width="0.12">8</text>
<line x1="375.50" y1="367.90" x2="378.50" y2="367.90" stroke="#1a1a1a" stroke-width="0.9" />
<text x="372.20" y="370.20" font-size="6.6" text-anchor="end" stroke="#2b2b2b" stroke-width="0.12">6</text>
<line x1="375.50" y1="380.50" x2="378.50" y2="380.50" stroke="#1a1a1a" stroke-width="0.9" />
<text x="372.20" y="382.80" font-size="6.6" text-anchor="end" stroke="#2b2b2b" stroke-width="0.12">4</text>
<line x1="375.50" y1="393.10" x2="378.50" y2="393.10" stroke="#1a1a1a" stroke-width="0.9" />
<text x="372.20" y="395.40" font-size="6.6" text-anchor="end" stroke="#2b2b2b" stroke-width="0.12">2</text>
<line x1="375.50" y1="405.70" x2="378.50" y2="405.70" stroke="#1a1a1a" stroke-width="0.9" />
<text x="372.20" y="408.00" font-size="6.6" text-anchor="end" stroke="#2b2b2b" stroke-width="0.12">0</text>
<line x1="392.70" y1="405.70" x2="392.70" y2="408.30" stroke="#1a1a1a" stroke-width="0.9" />
<text x="396.90" y="417.30" font-size="6.9" text-anchor="end" stroke="#2b2b2b" stroke-width="0.12" transform="rotate(-45 396.90 417.30)">day6</text>
<line x1="414.80" y1="405.70" x2="414.80" y2="408.30" stroke="#1a1a1a" stroke-width="0.9" />
<text x="419.00" y="417.30" font-size="6.9" text-anchor="end" stroke="#2b2b2b" stroke-width="0.12" transform="rotate(-45 419.00 417.30)">day10</text>
<line x1="436.50" y1="405.70" x2="436.50" y2="408.30" stroke="#1a1a1a" stroke-width="0.9" />
<text x="440.70" y="417.30" font-size="6.9" text-anchor="end" stroke="#2b2b2b" stroke-width="0.12" transform="rotate(-45 440.70 417.30)">day14</text>
<text x="414.40" y="334.90" font-size="8.2" text-anchor="middle" stroke="#2b2b2b" stroke-width="0.12">CD235a</text>
<text x="358.80" y="373.80" font-size="7.6" text-anchor="middle" stroke="#2b2b2b" stroke-width="0.12" transform="rotate(-90 358.80 373.80)">MFI ×10<tspan dy="-2.9" font-size="5.2">3</tspan></text>
<path d="M392.70 400.66 L414.80 390.89 L436.50 357.82" stroke="#c0143c" stroke-width="1.0" fill="none" />
<path d="M390.90 402.16 L392.70 398.71 L394.50 402.16 Z" stroke="none" stroke-width="1" fill="#c0143c" />
<path d="M413.00 392.39 L414.80 388.94 L416.60 392.39 Z" stroke="none" stroke-width="1" fill="#c0143c" />
<path d="M434.70 359.32 L436.50 355.87 L438.30 359.32 Z" stroke="none" stroke-width="1" fill="#c0143c" />
<path d="M392.70 400.34 L414.80 390.26 L436.50 355.93" stroke="#ee928e" stroke-width="1.0" fill="none" />
<rect x="391.20" y="398.84" width="3.00" height="3.00" fill="#ee928e" />
<rect x="413.30" y="388.76" width="3.00" height="3.00" fill="#ee928e" />
<rect x="435.00" y="354.43" width="3.00" height="3.00" fill="#ee928e" />
<path d="M392.70 400.97 L414.80 396.88 L436.50 392.78" stroke="#1d4370" stroke-width="1.0" fill="none" />
<circle cx="392.70" cy="400.97" r="1.5" fill="#1d4370"/>
<circle cx="414.80" cy="396.88" r="1.5" fill="#1d4370"/>
<circle cx="436.50" cy="392.78" r="1.5" fill="#1d4370"/>
<line x1="442.00" y1="348.00" x2="448.40" y2="348.00" stroke="#1d4370" stroke-width="1.0" />
<circle cx="445.20" cy="348.00" r="1.3" fill="#1d4370"/>
<text x="451.60" y="350.30" font-size="6.6" stroke="#2b2b2b" stroke-width="0.12">shControl</text>
<line x1="442.00" y1="357.50" x2="448.40" y2="357.50" stroke="#ee928e" stroke-width="1.0" />
<rect x="443.90" y="356.20" width="2.60" height="2.60" fill="#ee928e" />
<text x="451.60" y="359.80" font-size="6.6" stroke="#2b2b2b" stroke-width="0.12">sh<tspan font-style="italic">GATA2AS</tspan>-1</text>
<line x1="442.00" y1="367.40" x2="448.40" y2="367.40" stroke="#c0143c" stroke-width="1.0" />
<path d="M443.64 368.70 L445.20 365.71 L446.76 368.70 Z" stroke="none" stroke-width="1" fill="#c0143c" />
<text x="451.60" y="369.70" font-size="6.6" stroke="#2b2b2b" stroke-width="0.12">sh<tspan font-style="italic">GATA2AS</tspan>-2</text>
<text x="7.80" y="289.30" font-size="12" font-weight="bold" fill="#111">E</text>
<text x="57.30" y="301.70" font-size="6.8" text-anchor="middle" stroke="#2b2b2b" stroke-width="0.12">HUDEP2</text>
<text x="119.00" y="301.70" font-size="6.8" text-anchor="middle" stroke="#2b2b2b" stroke-width="0.12">CD34</text>
<rect x="28.70" y="306.60" width="16.50" height="2.80" fill="#eef0f8" />
<rect x="28.70" y="309.70" width="16.50" height="2.80" fill="#5e60aa" />
<rect x="28.70" y="312.50" width="16.50" height="2.10" fill="#f0a8b0" />
<rect x="28.70" y="314.60" width="16.50" height="1.30" fill="#f8dce0" />
<rect x="28.70" y="318.30" width="16.50" height="5.50" fill="#6a6eb0" />
<rect x="28.70" y="323.80" width="16.50" height="0.70" fill="#c8cae6" />
<rect x="45.20" y="312.40" width="16.70" height="9.30" fill="#e86468" />
<linearGradient id="gE1" x1="0" y1="0" x2="0" y2="1"><stop offset="0" stop-color="#f09a9e"/><stop offset="1" stop-color="#fbe0e2"/></linearGradient>
<rect x="45.20" y="321.70" width="16.70" height="24.80" fill="url(#gE1)" />
<rect x="61.90" y="306.60" width="16.40" height="14.60" fill="#e82226" />
<rect x="61.90" y="321.20" width="16.40" height="1.40" fill="#f6d0d0" />
<rect x="61.90" y="322.60" width="16.40" height="5.60" fill="#fbe8e8" />
<rect x="61.90" y="328.20" width="16.40" height="3.60" fill="#ea7478" />
<rect x="61.90" y="331.80" width="16.40" height="3.20" fill="#f6c2c4" />
<rect x="61.90" y="335.00" width="16.40" height="2.60" fill="#fdf2f2" />
<rect x="61.90" y="337.60" width="16.40" height="7.00" fill="#f7c8ca" />
<rect x="61.90" y="344.60" width="16.40" height="2.60" fill="#d8202a" />
<rect x="78.30" y="306.60" width="17.00" height="5.80" fill="#e23036" />
<rect x="78.30" y="312.40" width="17.00" height="2.90" fill="#f28e92" />
<rect x="78.30" y="315.30" width="17.00" height="5.70" fill="#e01218" />
<rect x="78.30" y="322.40" width="17.00" height="8.00" fill="#4446a2" />
<rect x="78.30" y="331.80" width="17.00" height="2.20" fill="#b6b8de" />
<rect x="78.30" y="336.90" width="17.00" height="6.50" fill="#8a8cc8" />
<rect x="95.90" y="306.60" width="16.00" height="12.40" fill="#fbf8fb" />
<rect x="95.90" y="319.00" width="16.00" height="2.30" fill="#c8cadf" />
<rect x="95.90" y="324.50" width="16.00" height="0.80" fill="#f8dede" />
<rect x="95.90" y="328.50" width="16.00" height="0.80" fill="#f8dede" />
<rect x="95.90" y="333.00" width="16.00" height="0.80" fill="#f8dede" />
<rect x="95.90" y="339.50" width="16.00" height="0.80" fill="#f8dede" />
<rect x="111.90" y="306.60" width="16.40" height="2.70" fill="#f6c6c8" />
<rect x="111.90" y="309.30" width="16.40" height="2.90" fill="#e9a0a6" />
<rect x="111.90" y="312.20" width="16.40" height="2.90" fill="#f6e8e2" />
<rect x="111.90" y="315.10" width="16.40" height="5.90" fill="#f6c0c2" />
<rect x="111.90" y="322.40" width="16.40" height="17.10" fill="#f6bcbe" />
<rect x="111.90" y="325.00" width="16.40" height="2.00" fill="#f2a8aa" />
<rect x="111.90" y="331.00" width="16.40" height="1.50" fill="#f8cacc" />
<rect x="111.90" y="339.50" width="16.40" height="4.50" fill="#f0a0a4" />
<rect x="111.90" y="344.00" width="16.40" height="3.20" fill="#f7c6c8" />
<rect x="128.30" y="306.60" width="16.50" height="3.40" fill="#f2b2b4" />
<rect x="128.30" y="310.00" width="16.50" height="3.40" fill="#eba0a4" />
<rect x="128.30" y="313.40" width="16.50" height="3.10" fill="#f5c8ca" />
<rect x="128.30" y="316.50" width="16.50" height="1.90" fill="#e89498" />
<rect x="128.30" y="318.40" width="16.50" height="2.60" fill="#f5c6c8" />
<rect x="128.30" y="322.40" width="16.50" height="2.60" fill="#c6c8e8" />
<rect x="128.30" y="327.20" width="16.50" height="3.50" fill="#b8bae2" />
<rect x="128.30" y="333.00" width="16.50" height="2.30" fill="#c2c4e6" />
<rect x="128.30" y="341.00" width="16.50" height="3.00" fill="#1c1c82" />
<linearGradient id="gE2" x1="0" y1="0" x2="0" y2="1"><stop offset="0" stop-color="#4c4ea0"/><stop offset="1" stop-color="#9496d2"/></linearGradient>
<rect x="45.20" y="349.00" width="16.70" height="14.40" fill="url(#gE2)" />
<rect x="61.90" y="350.80" width="16.40" height="1.40" fill="#7a7cc0" />
<rect x="61.90" y="354.60" width="16.40" height="1.00" fill="#c8c8e6" />
<rect x="61.90" y="357.80" width="16.40" height="1.40" fill="#7072b8" />
<rect x="61.90" y="364.00" width="16.40" height="3.20" fill="#3a3c96" />
<rect x="61.90" y="367.20" width="16.40" height="4.40" fill="#2a2c8a" />
<rect x="111.90" y="349.20" width="16.40" height="2.04" fill="#8c8ec8" />
<rect x="111.90" y="351.24" width="16.40" height="2.04" fill="#b2b4de" />
<rect x="111.90" y="353.27" width="16.40" height="2.04" fill="#7e80c2" />
<rect x="111.90" y="355.31" width="16.40" height="2.04" fill="#a4a6d8" />
<rect x="111.90" y="357.35" width="16.40" height="2.04" fill="#8a8cc6" />
<rect x="111.90" y="359.38" width="16.40" height="2.04" fill="#6e70b8" />
<rect x="111.90" y="361.42" width="16.40" height="2.04" fill="#9a9cd2" />
<rect x="111.90" y="363.45" width="16.40" height="2.04" fill="#7c7ec0" />
<rect x="111.90" y="365.49" width="16.40" height="2.04" fill="#9fa1d4" />
<rect x="111.90" y="367.53" width="16.40" height="2.04" fill="#8486c4" />
<rect x="111.90" y="369.56" width="16.40" height="2.04" fill="#a8aad8" />
<linearGradient id="gE3" x1="0" y1="0" x2="0" y2="1"><stop offset="0" stop-color="#e41c20"/><stop offset="1" stop-color="#fbd4d6"/></linearGradient>
<rect x="78.30" y="374.20" width="17.00" height="26.10" fill="url(#gE3)" />
<rect x="45.20" y="381.20" width="16.70" height="0.70" fill="#8a8cc8" />
<rect x="111.90" y="381.20" width="16.40" height="0.70" fill="#a0a2d4" />
<rect x="28.70" y="395.80" width="16.50" height="0.70" fill="#f4c8cc" />
<rect x="45.20" y="394.40" width="16.70" height="0.60" fill="#f4d4d6" />
<rect x="128.30" y="374.20" width="16.50" height="2.37" fill="#e43238" />
<rect x="128.30" y="376.57" width="16.50" height="2.37" fill="#f29ca0" />
<rect x="128.30" y="378.95" width="16.50" height="2.37" fill="#e02a30" />
<rect x="128.30" y="381.32" width="16.50" height="2.37" fill="#f4aeb2" />
<rect x="128.30" y="383.69" width="16.50" height="2.37" fill="#e8464c" />
<rect x="128.30" y="386.06" width="16.50" height="2.37" fill="#f6b4b8" />
<rect x="128.30" y="388.44" width="16.50" height="2.37" fill="#e2383e" />
<rect x="128.30" y="390.81" width="16.50" height="2.37" fill="#f0a0a4" />
<rect x="128.30" y="393.18" width="16.50" height="2.37" fill="#e6444a" />
<rect x="128.30" y="395.55" width="16.50" height="2.37" fill="#f5b0b4" />
<rect x="128.30" y="397.93" width="16.50" height="2.37" fill="#ee8a90" />
<linearGradient id="gE4" x1="0" y1="0" x2="0" y2="1"><stop offset="0" stop-color="#2e2890"/><stop offset="0.07" stop-color="#4440a2"/><stop offset="0.3" stop-color="#6a6ab8"/><stop offset="0.6" stop-color="#8a8aca"/><stop offset="1" stop-color="#acacde"/></linearGradient>
<rect x="78.30" y="401.40" width="17.00" height="148.80" fill="url(#gE4)" />
<rect x="128.30" y="401.40" width="16.50" height="148.80" fill="#a9a9dd" />
<rect x="128.30" y="402.00" width="16.50" height="0.76" fill="#9c9cd6" />
<rect x="128.30" y="405.10" width="16.50" height="1.26" fill="#b4b4e4" />
<rect x="128.30" y="408.20" width="16.50" height="1.11" fill="#9c9cd6" />
<rect x="128.30" y="411.30" width="16.50" height="1.00" fill="#9c9cd6" />
<rect x="128.30" y="414.40" width="16.50" height="1.04" fill="#b4b4e4" />
<rect x="128.30" y="417.50" width="16.50" height="1.21" fill="#9c9cd6" />
<rect x="128.30" y="420.60" width="16.50" height="0.78" fill="#9898d4" />
<rect x="128.30" y="423.70" width="16.50" height="1.06" fill="#b4b4e4" />
<rect x="128.30" y="426.80" width="16.50" height="1.00" fill="#b0b0e2" />
<rect x="128.30" y="429.90" width="16.50" height="1.22" fill="#9898d4" />
<rect x="128.30" y="433.00" width="16.50" height="1.37" fill="#b0b0e2" />
<rect x="128.30" y="436.10" width="16.50" height="1.15" fill="#b4b4e4" />
<rect x="128.30" y="439.20" width="16.50" height="1.19" fill="#9494d2" />
<rect x="128.30" y="442.30" width="16.50" height="0.70" fill="#b4b4e4" />
<rect x="128.30" y="445.40" width="16.50" height="1.38" fill="#9494d2" />
<rect x="128.30" y="448.50" width="16.50" height="0.92" fill="#b4b4e4" />
<rect x="128.30" y="451.60" width="16.50" height="1.32" fill="#b0b0e2" />
<rect x="128.30" y="454.70" width="16.50" height="1.03" fill="#9898d4" />
<rect x="128.30" y="457.80" width="16.50" height="1.24" fill="#9898d4" />
<rect x="128.30" y="460.90" width="16.50" height="1.19" fill="#9c9cd6" />
<rect x="128.30" y="464.00" width="16.50" height="0.96" fill="#b4b4e4" />
<rect x="128.30" y="467.10" width="16.50" height="1.16" fill="#9c9cd6" />
<rect x="128.30" y="470.20" width="16.50" height="1.35" fill="#9494d2" />
<rect x="128.30" y="473.30" width="16.50" height="1.14" fill="#b4b4e4" />
<rect x="128.30" y="476.40" width="16.50" height="0.91" fill="#9898d4" />
<rect x="128.30" y="479.50" width="16.50" height="1.21" fill="#b0b0e2" />
<rect x="128.30" y="482.60" width="16.50" height="0.85" fill="#b4b4e4" />
<rect x="128.30" y="485.70" width="16.50" height="1.16" fill="#9494d2" />
<rect x="128.30" y="488.80" width="16.50" height="1.18" fill="#b4b4e4" />
<rect x="128.30" y="491.90" width="16.50" height="1.00" fill="#9494d2" />
<rect x="128.30" y="495.00" width="16.50" height="1.23" fill="#b4b4e4" />
<rect x="128.30" y="498.10" width="16.50" height="0.77" fill="#9494d2" />
<rect x="128.30" y="501.20" width="16.50" height="1.29" fill="#b0b0e2" />
<rect x="128.30" y="504.30" width="16.50" height="1.04" fill="#b4b4e4" />
<rect x="128.30" y="507.40" width="16.50" height="0.80" fill="#b4b4e4" />
<rect x="128.30" y="510.50" width="16.50" height="0.90" fill="#b0b0e2" />
<rect x="128.30" y="513.60" width="16.50" height="1.31" fill="#9c9cd6" />
<rect x="128.30" y="516.70" width="16.50" height="1.09" fill="#b4b4e4" />
<rect x="128.30" y="519.80" width="16.50" height="0.98" fill="#9c9cd6" />
<rect x="128.30" y="522.90" width="16.50" height="0.84" fill="#b0b0e2" />
<rect x="128.30" y="526.00" width="16.50" height="0.83" fill="#9c9cd6" />
<rect x="128.30" y="529.10" width="16.50" height="1.23" fill="#b0b0e2" />
<rect x="128.30" y="532.20" width="16.50" height="1.10" fill="#9494d2" />
<rect x="128.30" y="535.30" width="16.50" height="0.84" fill="#9494d2" />
<rect x="128.30" y="538.40" width="16.50" height="1.30" fill="#9898d4" />
<rect x="128.30" y="541.50" width="16.50" height="1.38" fill="#9c9cd6" />
<rect x="128.30" y="544.60" width="16.50" height="1.14" fill="#9494d2" />
<rect x="128.30" y="547.70" width="16.50" height="1.38" fill="#b0b0e2" />
<rect x="128.30" y="401.40" width="16.50" height="28.60" fill="#9a9ad5" />
<rect x="128.30" y="403.50" width="16.50" height="1.60" fill="#b4b4e4" />
<rect x="128.30" y="406.50" width="16.50" height="1.60" fill="#b4b4e4" />
<rect x="128.30" y="412.00" width="16.50" height="1.60" fill="#b4b4e4" />
<rect x="128.30" y="424.00" width="16.50" height="1.60" fill="#b4b4e4" />
<rect x="128.30" y="408.50" width="16.50" height="1.20" fill="#3c3c98" />
<rect x="128.30" y="415.70" width="16.50" height="1.20" fill="#3c3c98" />
<rect x="128.30" y="419.70" width="16.50" height="1.20" fill="#3c3c98" />
<rect x="128.30" y="428.80" width="16.50" height="1.20" fill="#3c3c98" />
<rect x="128.30" y="463.70" width="16.50" height="1.20" fill="#3c3c98" />
<rect x="128.30" y="504.10" width="16.50" height="1.20" fill="#3c3c98" />
<rect x="128.30" y="516.70" width="16.50" height="1.20" fill="#3c3c98" />
<rect x="128.30" y="529.80" width="16.50" height="1.20" fill="#3c3c98" />
<rect x="128.30" y="440.00" width="16.50" height="0.80" fill="#7474c0" />
<rect x="128.30" y="476.00" width="16.50" height="0.80" fill="#7474c0" />
<rect x="128.30" y="490.00" width="16.50" height="0.80" fill="#7474c0" />
<rect x="128.30" y="540.00" width="16.50" height="0.80" fill="#7474c0" />
<rect x="28.70" y="517.69" width="16.50" height="0.87" fill="#b8b9e0" />
<rect x="28.70" y="518.12" width="16.50" height="0.84" fill="#f7d0d4" />
<rect x="28.70" y="409.95" width="16.50" height="0.81" fill="#b8b9e0" />
<rect x="28.70" y="456.29" width="16.50" height="0.68" fill="#b8b9e0" />
<rect x="28.70" y="414.48" width="16.50" height="0.79" fill="#f9dcdf" />
<rect x="28.70" y="430.45" width="16.50" height="0.91" fill="#c8c9e8" />
<rect x="28.70" y="433.44" width="16.50" height="0.81" fill="#f4c4ca" />
<rect x="28.70" y="528.22" width="16.50" height="0.90" fill="#f7d0d4" />
<rect x="28.70" y="420.63" width="16.50" height="0.96" fill="#f4c4ca" />
<rect x="28.70" y="445.62" width="16.50" height="0.74" fill="#f9dcdf" />
<rect x="28.70" y="474.45" width="16.50" height="0.64" fill="#f9dcdf" />
<rect x="28.70" y="526.87" width="16.50" height="0.97" fill="#d6d7ee" />
<rect x="28.70" y="543.89" width="16.50" height="0.98" fill="#b8b9e0" />
<rect x="28.70" y="506.10" width="16.50" height="0.90" fill="#b8b9e0" />
<rect x="28.70" y="433.41" width="16.50" height="0.70" fill="#b8b9e0" />
<rect x="28.70" y="482.11" width="16.50" height="0.74" fill="#f4c4ca" />
<rect x="45.20" y="440.47" width="16.70" height="0.65" fill="#f9dcdf" />
<rect x="45.20" y="486.02" width="16.70" height="0.87" fill="#f4c4ca" />
<rect x="45.20" y="448.73" width="16.70" height="0.66" fill="#b8b9e0" />
<rect x="45.20" y="492.94" width="16.70" height="0.95" fill="#f4c4ca" />
<rect x="45.20" y="487.62" width="16.70" height="0.67" fill="#f4c4ca" />
<rect x="45.20" y="417.35" width="16.70" height="0.98" fill="#d6d7ee" />
<rect x="45.20" y="467.04" width="16.70" height="0.63" fill="#f9dcdf" />
<rect x="45.20" y="459.31" width="16.70" height="0.94" fill="#f7d0d4" />
<rect x="45.20" y="505.88" width="16.70" height="0.76" fill="#f7d0d4" />
<rect x="45.20" y="414.96" width="16.70" height="0.88" fill="#f4c4ca" />
<rect x="45.20" y="426.84" width="16.70" height="0.91" fill="#f4c4ca" />
<rect x="45.20" y="477.35" width="16.70" height="0.91" fill="#f9dcdf" />
<rect x="45.20" y="461.48" width="16.70" height="0.78" fill="#f9dcdf" />
<rect x="45.20" y="499.81" width="16.70" height="0.83" fill="#c8c9e8" />
<rect x="45.20" y="450.93" width="16.70" height="0.74" fill="#d6d7ee" />
<rect x="45.20" y="430.99" width="16.70" height="0.87" fill="#c8c9e8" />
<rect x="45.20" y="538.98" width="16.70" height="0.95" fill="#f9dcdf" />
<rect x="45.20" y="437.85" width="16.70" height="0.82" fill="#d6d7ee" />
<rect x="45.20" y="423.62" width="16.70" height="0.73" fill="#f9dcdf" />
<rect x="45.20" y="443.14" width="16.70" height="0.85" fill="#d6d7ee" />
<rect x="45.20" y="451.94" width="16.70" height="0.61" fill="#d6d7ee" />
<rect x="45.20" y="435.09" width="16.70" height="0.94" fill="#f9dcdf" />
<rect x="61.90" y="496.08" width="16.40" height="0.89" fill="#f9dcdf" />
<rect x="61.90" y="496.59" width="16.40" height="0.92" fill="#f9dcdf" />
<rect x="61.90" y="459.47" width="16.40" height="0.82" fill="#f9dcdf" />
<rect x="61.90" y="454.42" width="16.40" height="0.95" fill="#f9dcdf" />
<rect x="61.90" y="507.68" width="16.40" height="0.67" fill="#f4c4ca" />
<rect x="61.90" y="413.43" width="16.40" height="0.96" fill="#d6d7ee" />
<rect x="61.90" y="529.37" width="16.40" height="0.85" fill="#c8c9e8" />
<rect x="61.90" y="530.81" width="16.40" height="0.68" fill="#c8c9e8" />
<rect x="61.90" y="543.48" width="16.40" height="0.90" fill="#f9dcdf" />
<rect x="61.90" y="421.94" width="16.40" height="0.86" fill="#f4c4ca" />
<rect x="61.90" y="418.96" width="16.40" height="0.86" fill="#b8b9e0" />
<rect x="61.90" y="533.42" width="16.40" height="0.88" fill="#d6d7ee" />
<rect x="61.90" y="460.97" width="16.40" height="0.77" fill="#d6d7ee" />
<rect x="61.90" y="441.74" width="16.40" height="0.68" fill="#d6d7ee" />
<rect x="61.90" y="458.19" width="16.40" height="0.94" fill="#f7d0d4" />
<rect x="61.90" y="498.95" width="16.40" height="0.69" fill="#c8c9e8" />
<rect x="61.90" y="425.74" width="16.40" height="0.84" fill="#f9dcdf" />
<rect x="95.90" y="473.31" width="16.00" height="0.80" fill="#c8c9e8" />
<rect x="95.90" y="522.62" width="16.00" height="0.68" fill="#d6d7ee" />
<rect x="95.90" y="432.83" width="16.00" height="0.97" fill="#d6d7ee" />
<rect x="95.90" y="531.06" width="16.00" height="0.87" fill="#d6d7ee" />
<rect x="95.90" y="470.20" width="16.00" height="0.65" fill="#f7d0d4" />
<rect x="95.90" y="520.76" width="16.00" height="0.98" fill="#f9dcdf" />
<rect x="95.90" y="519.91" width="16.00" height="0.75" fill="#b8b9e0" />
<rect x="111.90" y="476.95" width="16.40" height="0.78" fill="#f7d0d4" />
<rect x="111.90" y="523.91" width="16.40" height="0.98" fill="#f7d0d4" />
<rect x="111.90" y="511.77" width="16.40" height="0.62" fill="#f9dcdf" />
<rect x="111.90" y="411.43" width="16.40" height="0.73" fill="#b8b9e0" />
<rect x="111.90" y="433.24" width="16.40" height="0.78" fill="#c8c9e8" />
<rect x="111.90" y="529.55" width="16.40" height="0.85" fill="#c8c9e8" />
<rect x="111.90" y="474.48" width="16.40" height="0.76" fill="#d6d7ee" />
<rect x="111.90" y="498.69" width="16.40" height="0.61" fill="#f7d0d4" />
<rect x="111.90" y="516.30" width="16.40" height="0.70" fill="#b8b9e0" />
<rect x="111.90" y="495.58" width="16.40" height="0.86" fill="#f9dcdf" />
<rect x="111.90" y="509.88" width="16.40" height="0.72" fill="#f4c4ca" />
<rect x="111.90" y="482.21" width="16.40" height="0.89" fill="#f7d0d4" />
<rect x="111.90" y="435.71" width="16.40" height="0.88" fill="#f9dcdf" />
<rect x="111.90" y="429.50" width="16.40" height="0.73" fill="#f4c4ca" />
<rect x="111.90" y="548.05" width="16.40" height="0.84" fill="#f9dcdf" />
<rect x="111.90" y="403.54" width="16.40" height="0.72" fill="#c8c9e8" />
<rect x="111.90" y="503.56" width="16.40" height="0.98" fill="#f7d0d4" />
<rect x="111.90" y="531.46" width="16.40" height="0.63" fill="#f4c4ca" />
<rect x="111.90" y="436.02" width="16.40" height="0.77" fill="#d6d7ee" />
<rect x="111.90" y="409.14" width="16.40" height="0.90" fill="#f9dcdf" />
<rect x="28.70" y="306.60" width="116.10" height="243.60" fill="none" stroke="#b8bcc8" stroke-width="0.8" />
<line x1="28.70" y1="321.70" x2="144.80" y2="321.70" stroke="#9a9a9a" stroke-width="0.7" />
<line x1="28.70" y1="348.30" x2="144.80" y2="348.30" stroke="#6a6a6a" stroke-width="1.0" />
<line x1="28.70" y1="373.50" x2="144.80" y2="373.50" stroke="#b4b4b4" stroke-width="2.4" />
<line x1="28.70" y1="400.90" x2="144.80" y2="400.90" stroke="#5a5a5a" stroke-width="1.3" />
<line x1="29.30" y1="400.90" x2="29.30" y2="550.20" stroke="#7a7a7a" stroke-width="0.9" />
<line x1="144.60" y1="306.60" x2="144.60" y2="550.20" stroke="#9a9a9a" stroke-width="0.9" />
<line x1="28.70" y1="550.20" x2="144.80" y2="550.20" stroke="#8a8a8a" stroke-width="0.9" />
<line x1="95.60" y1="306.20" x2="95.60" y2="550.50" stroke="#111" stroke-width="1.0" />
<text x="25.20" y="317.50" font-size="6.6" text-anchor="end" stroke="#2b2b2b" stroke-width="0.12">#1</text>
<text x="25.20" y="338.00" font-size="6.6" text-anchor="end" stroke="#2b2b2b" stroke-width="0.12">#2</text>
<text x="25.20" y="363.40" font-size="6.6" text-anchor="end" stroke="#2b2b2b" stroke-width="0.12">#3</text>
<text x="25.20" y="389.10" font-size="6.6" text-anchor="end" stroke="#2b2b2b" stroke-width="0.12">#4</text>
<text x="25.20" y="419.40" font-size="6.6" text-anchor="end" stroke="#2b2b2b" stroke-width="0.12">#5</text>
<text x="36.30" y="559.20" font-size="7.0" text-anchor="middle" stroke="#2b2b2b" stroke-width="0.12">d0</text>
<text x="53.40" y="559.20" font-size="7.0" text-anchor="middle" stroke="#2b2b2b" stroke-width="0.12">d4</text>
<text x="70.40" y="559.20" font-size="7.0" text-anchor="middle" stroke="#2b2b2b" stroke-width="0.12">d7</text>
<text x="86.40" y="559.20" font-size="7.0" text-anchor="middle" stroke="#2b2b2b" stroke-width="0.12">d9</text>
<text x="101.80" y="559.20" font-size="7.0" text-anchor="middle" stroke="#2b2b2b" stroke-width="0.12">d6</text>
<text x="118.60" y="559.20" font-size="7.0" text-anchor="middle" stroke="#2b2b2b" stroke-width="0.12">d10</text>
<text x="136.00" y="559.20" font-size="7.0" text-anchor="middle" stroke="#2b2b2b" stroke-width="0.12">d14</text>
<linearGradient id="gCB" x1="0" y1="0" x2="0" y2="1"><stop offset="0" stop-color="#e01018"/><stop offset="0.2" stop-color="#e85a60"/><stop offset="0.4" stop-color="#f6c4c6"/><stop offset="0.55" stop-color="#ffffff"/><stop offset="0.8" stop-color="#7476bd"/><stop offset="1" stop-color="#1e1c86"/></linearGradient>
<rect x="151.40" y="308.30" width="9.80" height="38.00" fill="url(#gCB)" stroke="#555" stroke-width="0.5" />
<text x="164.60" y="310.60" font-size="6.5" stroke="#2b2b2b" stroke-width="0.12">3</text>
<text x="164.60" y="317.90" font-size="6.5" stroke="#2b2b2b" stroke-width="0.12">2</text>
<text x="164.60" y="325.20" font-size="6.5" stroke="#2b2b2b" stroke-width="0.12">1</text>
<text x="164.60" y="332.70" font-size="6.5" stroke="#2b2b2b" stroke-width="0.12">0</text>
<text x="162.30" y="340.10" font-size="6.5" stroke="#2b2b2b" stroke-width="0.12">−1</text>
<text x="162.30" y="347.40" font-size="6.5" stroke="#2b2b2b" stroke-width="0.12">−2</text>
<text x="210.50" y="456.90" font-size="12" font-weight="bold" fill="#111">F</text>
<line x1="240.60" y1="467.70" x2="243.40" y2="467.70" stroke="#1a1a1a" stroke-width="0.9" />
<text x="239.00" y="470.10" font-size="7.0" text-anchor="end" stroke="#2b2b2b" stroke-width="0.12">4</text>
<line x1="240.60" y1="486.60" x2="243.40" y2="486.60" stroke="#1a1a1a" stroke-width="0.9" />
<text x="239.00" y="489.00" font-size="7.0" text-anchor="end" stroke="#2b2b2b" stroke-width="0.12">2</text>
<line x1="240.60" y1="505.30" x2="243.40" y2="505.30" stroke="#1a1a1a" stroke-width="0.9" />
<text x="239.00" y="507.70" font-size="7.0" text-anchor="end" stroke="#2b2b2b" stroke-width="0.12">0</text>
<line x1="240.60" y1="524.20" x2="243.40" y2="524.20" stroke="#1a1a1a" stroke-width="0.9" />
<text x="239.00" y="526.60" font-size="7.0" text-anchor="end" stroke="#2b2b2b" stroke-width="0.12">−2</text>
<line x1="307.30" y1="480.40" x2="310.10" y2="480.40" stroke="#1a1a1a" stroke-width="0.9" />
<text x="311.30" y="482.80" font-size="7.0" fill="#c41c48" stroke="#c41c48" stroke-width="0.12">1</text>
<line x1="307.30" y1="508.10" x2="310.10" y2="508.10" stroke="#1a1a1a" stroke-width="0.9" />
<text x="311.30" y="510.50" font-size="7.0" fill="#c41c48" stroke="#c41c48" stroke-width="0.12">0</text>
<text x="275.30" y="462.80" font-size="6.8" text-anchor="middle" stroke="#2b2b2b" stroke-width="0.12">Group #1</text>
<line x1="252.80" y1="498.60" x2="252.80" y2="515.90" stroke="#5f8cb8" stroke-width="0.8" />
<line x1="251.50" y1="498.60" x2="254.10" y2="498.60" stroke="#5f8cb8" stroke-width="0.8" />
<line x1="251.50" y1="515.90" x2="254.10" y2="515.90" stroke="#5f8cb8" stroke-width="0.8" />
<line x1="267.60" y1="485.50" x2="267.60" y2="504.40" stroke="#5f8cb8" stroke-width="0.8" />
<line x1="266.30" y1="485.50" x2="268.90" y2="485.50" stroke="#5f8cb8" stroke-width="0.8" />
<line x1="266.30" y1="504.40" x2="268.90" y2="504.40" stroke="#5f8cb8" stroke-width="0.8" />
<line x1="282.50" y1="477.50" x2="282.50" y2="487.90" stroke="#5f8cb8" stroke-width="0.8" />
<line x1="281.20" y1="477.50" x2="283.80" y2="477.50" stroke="#5f8cb8" stroke-width="0.8" />
<line x1="281.20" y1="487.90" x2="283.80" y2="487.90" stroke="#5f8cb8" stroke-width="0.8" />
<line x1="297.50" y1="476.40" x2="297.50" y2="489.60" stroke="#5f8cb8" stroke-width="0.8" />
<line x1="296.20" y1="476.40" x2="298.80" y2="476.40" stroke="#5f8cb8" stroke-width="0.8" />
<line x1="296.20" y1="489.60" x2="298.80" y2="489.60" stroke="#5f8cb8" stroke-width="0.8" />
<line x1="255.70" y1="506.70" x2="255.70" y2="511.40" stroke="#ec8aa0" stroke-width="0.8" />
<line x1="254.40" y1="506.70" x2="257.00" y2="506.70" stroke="#ec8aa0" stroke-width="0.8" />
<line x1="254.40" y1="511.40" x2="257.00" y2="511.40" stroke="#ec8aa0" stroke-width="0.8" />
<line x1="274.70" y1="478.50" x2="274.70" y2="501.30" stroke="#ec8aa0" stroke-width="0.8" />
<line x1="273.40" y1="478.50" x2="276.00" y2="478.50" stroke="#ec8aa0" stroke-width="0.8" />
<line x1="273.40" y1="501.30" x2="276.00" y2="501.30" stroke="#ec8aa0" stroke-width="0.8" />
<line x1="293.80" y1="477.50" x2="293.80" y2="496.60" stroke="#ec8aa0" stroke-width="0.8" />
<line x1="292.50" y1="477.50" x2="295.10" y2="477.50" stroke="#ec8aa0" stroke-width="0.8" />
<line x1="292.50" y1="496.60" x2="295.10" y2="496.60" stroke="#ec8aa0" stroke-width="0.8" />
<path d="M252.80 507.00 L267.60 494.90 L282.50 482.50 L297.50 483.20" stroke="#1d4f78" stroke-width="0.9" fill="none" />
<path d="M255.70 508.30 L274.70 489.60 L293.80 486.90" stroke="#c41c48" stroke-width="0.9" fill="none" />
<circle cx="252.80" cy="507.00" r="1.25" fill="#1d4f78"/>
<path d="M266.04 496.15L267.60 493.21L269.16 496.15Z" stroke="none" stroke-width="1" fill="#1d4f78" />
<path d="M280.94 483.75L282.50 480.81L284.06 483.75Z" stroke="none" stroke-width="1" fill="#1d4f78" />
<circle cx="297.50" cy="483.20" r="1.3125" fill="#1d4f78"/>
<rect x="254.45" y="507.05" width="2.50" height="2.50" fill="#c41c48" />
<path d="M273.14 490.85L274.70 487.91L276.26 490.85Z" stroke="none" stroke-width="1" fill="#c41c48" />
<circle cx="293.80" cy="486.90" r="1.25" fill="#c41c48"/>
<rect x="243.40" y="467.40" width="63.90" height="56.60" fill="none" stroke="#1a1a1a" stroke-width="1.1" />
<text x="304.00" y="521.60" font-size="6.6" text-anchor="end" stroke="#2b2b2b" stroke-width="0.12">5 genes</text>
<line x1="334.60" y1="467.70" x2="337.40" y2="467.70" stroke="#1a1a1a" stroke-width="0.9" />
<text x="333.00" y="470.10" font-size="7.0" text-anchor="end" stroke="#2b2b2b" stroke-width="0.12">2</text>
<line x1="334.60" y1="481.60" x2="337.40" y2="481.60" stroke="#1a1a1a" stroke-width="0.9" />
<text x="333.00" y="484.00" font-size="7.0" text-anchor="end" stroke="#2b2b2b" stroke-width="0.12">1</text>
<line x1="334.60" y1="495.80" x2="337.40" y2="495.80" stroke="#1a1a1a" stroke-width="0.9" />
<text x="333.00" y="498.20" font-size="7.0" text-anchor="end" stroke="#2b2b2b" stroke-width="0.12">0</text>
<line x1="334.60" y1="509.80" x2="337.40" y2="509.80" stroke="#1a1a1a" stroke-width="0.9" />
<text x="333.00" y="512.20" font-size="7.0" text-anchor="end" stroke="#2b2b2b" stroke-width="0.12">−1</text>
<line x1="334.60" y1="524.00" x2="337.40" y2="524.00" stroke="#1a1a1a" stroke-width="0.9" />
<text x="333.00" y="526.40" font-size="7.0" text-anchor="end" stroke="#2b2b2b" stroke-width="0.12">−2</text>
<line x1="401.30" y1="476.20" x2="404.10" y2="476.20" stroke="#1a1a1a" stroke-width="0.9" />
<text x="405.30" y="478.60" font-size="7.0" fill="#c41c48" stroke="#c41c48" stroke-width="0.12">1</text>
<line x1="401.30" y1="495.80" x2="404.10" y2="495.80" stroke="#1a1a1a" stroke-width="0.9" />
<text x="405.30" y="498.20" font-size="7.0" fill="#c41c48" stroke="#c41c48" stroke-width="0.12">0</text>
<line x1="401.30" y1="514.50" x2="404.10" y2="514.50" stroke="#1a1a1a" stroke-width="0.9" />
<text x="405.30" y="516.90" font-size="7.0" fill="#c41c48" stroke="#c41c48" stroke-width="0.12">−1</text>
<text x="369.30" y="462.80" font-size="6.8" text-anchor="middle" stroke="#2b2b2b" stroke-width="0.12">Group #2</text>
<line x1="346.80" y1="491.20" x2="346.80" y2="501.60" stroke="#5f8cb8" stroke-width="0.8" />
<line x1="345.50" y1="491.20" x2="348.10" y2="491.20" stroke="#5f8cb8" stroke-width="0.8" />
<line x1="345.50" y1="501.60" x2="348.10" y2="501.60" stroke="#5f8cb8" stroke-width="0.8" />
<line x1="361.60" y1="477.40" x2="361.60" y2="490.60" stroke="#5f8cb8" stroke-width="0.8" />
<line x1="360.30" y1="477.40" x2="362.90" y2="477.40" stroke="#5f8cb8" stroke-width="0.8" />
<line x1="360.30" y1="490.60" x2="362.90" y2="490.60" stroke="#5f8cb8" stroke-width="0.8" />
<line x1="376.50" y1="479.50" x2="376.50" y2="494.60" stroke="#5f8cb8" stroke-width="0.8" />
<line x1="375.20" y1="479.50" x2="377.80" y2="479.50" stroke="#5f8cb8" stroke-width="0.8" />
<line x1="375.20" y1="494.60" x2="377.80" y2="494.60" stroke="#5f8cb8" stroke-width="0.8" />
<line x1="391.50" y1="497.30" x2="391.50" y2="514.10" stroke="#5f8cb8" stroke-width="0.8" />
<line x1="390.20" y1="497.30" x2="392.80" y2="497.30" stroke="#5f8cb8" stroke-width="0.8" />
<line x1="390.20" y1="514.10" x2="392.80" y2="514.10" stroke="#5f8cb8" stroke-width="0.8" />
<line x1="349.70" y1="494.90" x2="349.70" y2="499.30" stroke="#ec8aa0" stroke-width="0.8" />
<line x1="348.40" y1="494.90" x2="351.00" y2="494.90" stroke="#ec8aa0" stroke-width="0.8" />
<line x1="348.40" y1="499.30" x2="351.00" y2="499.30" stroke="#ec8aa0" stroke-width="0.8" />
<line x1="369.00" y1="477.40" x2="369.00" y2="486.50" stroke="#ec8aa0" stroke-width="0.8" />
<line x1="367.70" y1="477.40" x2="370.30" y2="477.40" stroke="#ec8aa0" stroke-width="0.8" />
<line x1="367.70" y1="486.50" x2="370.30" y2="486.50" stroke="#ec8aa0" stroke-width="0.8" />
<line x1="387.80" y1="492.20" x2="387.80" y2="513.20" stroke="#ec8aa0" stroke-width="0.8" />
<line x1="386.50" y1="492.20" x2="389.10" y2="492.20" stroke="#ec8aa0" stroke-width="0.8" />
<line x1="386.50" y1="513.20" x2="389.10" y2="513.20" stroke="#ec8aa0" stroke-width="0.8" />
<path d="M346.80 496.60 L361.60 484.50 L376.50 487.90 L391.50 506.00" stroke="#1d4f78" stroke-width="0.9" fill="none" />
<path d="M349.70 496.60 L369.00 482.50 L387.80 502.70" stroke="#c41c48" stroke-width="0.9" fill="none" />
<circle cx="346.80" cy="496.60" r="1.25" fill="#1d4f78"/>
<path d="M360.04 485.75L361.60 482.81L363.16 485.75Z" stroke="none" stroke-width="1" fill="#1d4f78" />
<path d="M374.94 489.15L376.50 486.21L378.06 489.15Z" stroke="none" stroke-width="1" fill="#1d4f78" />
<circle cx="391.50" cy="506.00" r="1.3125" fill="#1d4f78"/>
<rect x="348.45" y="495.35" width="2.50" height="2.50" fill="#c41c48" />
<path d="M367.44 483.75L369.00 480.81L370.56 483.75Z" stroke="none" stroke-width="1" fill="#c41c48" />
<circle cx="387.80" cy="502.70" r="1.25" fill="#c41c48"/>
<rect x="337.40" y="467.40" width="63.90" height="56.60" fill="none" stroke="#1a1a1a" stroke-width="1.1" />
<text x="398.30" y="521.60" font-size="6.6" text-anchor="end" stroke="#2b2b2b" stroke-width="0.12">12 genes</text>
<line x1="240.60" y1="557.20" x2="243.40" y2="557.20" stroke="#1a1a1a" stroke-width="0.9" />
<text x="239.00" y="559.60" font-size="7.0" text-anchor="end" stroke="#2b2b2b" stroke-width="0.12">0</text>
<line x1="240.60" y1="579.60" x2="243.40" y2="579.60" stroke="#1a1a1a" stroke-width="0.9" />
<text x="239.00" y="582.00" font-size="7.0" text-anchor="end" stroke="#2b2b2b" stroke-width="0.12">−1</text>
<line x1="240.60" y1="602.00" x2="243.40" y2="602.00" stroke="#1a1a1a" stroke-width="0.9" />
<text x="239.00" y="604.40" font-size="7.0" text-anchor="end" stroke="#2b2b2b" stroke-width="0.12">−2</text>
<line x1="306.90" y1="559.50" x2="309.70" y2="559.50" stroke="#1a1a1a" stroke-width="0.9" />
<text x="310.90" y="561.90" font-size="7.0" fill="#c41c48" stroke="#c41c48" stroke-width="0.12">0</text>
<line x1="306.90" y1="588.20" x2="309.70" y2="588.20" stroke="#1a1a1a" stroke-width="0.9" />
<text x="310.90" y="590.60" font-size="7.0" fill="#c41c48" stroke="#c41c48" stroke-width="0.12">−1</text>
<text x="274.90" y="540.60" font-size="6.8" text-anchor="middle" stroke="#2b2b2b" stroke-width="0.12">Group #3</text>
<line x1="267.60" y1="558.50" x2="267.60" y2="585.40" stroke="#5f8cb8" stroke-width="0.8" />
<line x1="266.30" y1="558.50" x2="268.90" y2="558.50" stroke="#5f8cb8" stroke-width="0.8" />
<line x1="266.30" y1="585.40" x2="268.90" y2="585.40" stroke="#5f8cb8" stroke-width="0.8" />
<line x1="282.40" y1="554.80" x2="282.40" y2="590.40" stroke="#5f8cb8" stroke-width="0.8" />
<line x1="281.10" y1="554.80" x2="283.70" y2="554.80" stroke="#5f8cb8" stroke-width="0.8" />
<line x1="281.10" y1="590.40" x2="283.70" y2="590.40" stroke="#5f8cb8" stroke-width="0.8" />
<line x1="274.70" y1="575.30" x2="274.70" y2="589.40" stroke="#ec8aa0" stroke-width="0.8" />
<line x1="273.40" y1="575.30" x2="276.00" y2="575.30" stroke="#ec8aa0" stroke-width="0.8" />
<line x1="273.40" y1="589.40" x2="276.00" y2="589.40" stroke="#ec8aa0" stroke-width="0.8" />
<path d="M252.80 556.70 L267.60 571.50 L282.40 573.30 L297.20 556.50" stroke="#1d4f78" stroke-width="0.9" fill="none" />
<path d="M255.70 559.80 L274.70 582.70 L293.80 559.80" stroke="#c41c48" stroke-width="0.9" fill="none" />
<circle cx="252.80" cy="556.70" r="1.25" fill="#1d4f78"/>
<path d="M266.04 572.75L267.60 569.81L269.16 572.75Z" stroke="none" stroke-width="1" fill="#1d4f78" />
<path d="M280.84 574.55L282.40 571.61L283.96 574.55Z" stroke="none" stroke-width="1" fill="#1d4f78" />
<circle cx="297.20" cy="556.50" r="1.3125" fill="#1d4f78"/>
<rect x="254.45" y="558.55" width="2.50" height="2.50" fill="#c41c48" />
<path d="M273.14 583.95L274.70 581.01L276.26 583.95Z" stroke="none" stroke-width="1" fill="#c41c48" />
<circle cx="293.80" cy="559.80" r="1.25" fill="#c41c48"/>
<rect x="243.40" y="545.40" width="63.50" height="56.60" fill="none" stroke="#1a1a1a" stroke-width="1.1" />
<text x="304.20" y="599.20" font-size="6.6" text-anchor="end" stroke="#2b2b2b" stroke-width="0.12">11 genes</text>
<line x1="334.60" y1="545.70" x2="337.40" y2="545.70" stroke="#1a1a1a" stroke-width="0.9" />
<text x="333.00" y="548.10" font-size="7.0" text-anchor="end" stroke="#2b2b2b" stroke-width="0.12">4</text>
<line x1="334.60" y1="568.10" x2="337.40" y2="568.10" stroke="#1a1a1a" stroke-width="0.9" />
<text x="333.00" y="570.50" font-size="7.0" text-anchor="end" stroke="#2b2b2b" stroke-width="0.12">2</text>
<line x1="334.60" y1="590.60" x2="337.40" y2="590.60" stroke="#1a1a1a" stroke-width="0.9" />
<text x="333.00" y="593.00" font-size="7.0" text-anchor="end" stroke="#2b2b2b" stroke-width="0.12">0</text>
<line x1="400.90" y1="545.70" x2="403.70" y2="545.70" stroke="#1a1a1a" stroke-width="0.9" />
<text x="404.90" y="548.10" font-size="7.0" fill="#c41c48" stroke="#c41c48" stroke-width="0.12">4</text>
<line x1="400.90" y1="567.50" x2="403.70" y2="567.50" stroke="#1a1a1a" stroke-width="0.9" />
<text x="404.90" y="569.90" font-size="7.0" fill="#c41c48" stroke="#c41c48" stroke-width="0.12">2</text>
<line x1="400.90" y1="590.60" x2="403.70" y2="590.60" stroke="#1a1a1a" stroke-width="0.9" />
<text x="404.90" y="593.00" font-size="7.0" fill="#c41c48" stroke="#c41c48" stroke-width="0.12">0</text>
<text x="369.10" y="540.60" font-size="6.8" text-anchor="middle" stroke="#2b2b2b" stroke-width="0.12">Group #4</text>
<line x1="361.60" y1="588.40" x2="361.60" y2="592.40" stroke="#5f8cb8" stroke-width="0.8" />
<line x1="360.30" y1="588.40" x2="362.90" y2="588.40" stroke="#5f8cb8" stroke-width="0.8" />
<line x1="360.30" y1="592.40" x2="362.90" y2="592.40" stroke="#5f8cb8" stroke-width="0.8" />
<line x1="391.20" y1="553.10" x2="391.20" y2="584.70" stroke="#5f8cb8" stroke-width="0.8" />
<line x1="389.90" y1="553.10" x2="392.50" y2="553.10" stroke="#5f8cb8" stroke-width="0.8" />
<line x1="389.90" y1="584.70" x2="392.50" y2="584.70" stroke="#5f8cb8" stroke-width="0.8" />
<line x1="387.80" y1="558.10" x2="387.80" y2="587.10" stroke="#ec8aa0" stroke-width="0.8" />
<line x1="386.50" y1="558.10" x2="389.10" y2="558.10" stroke="#ec8aa0" stroke-width="0.8" />
<line x1="386.50" y1="587.10" x2="389.10" y2="587.10" stroke="#ec8aa0" stroke-width="0.8" />
<path d="M346.80 590.40 L361.60 590.60 L376.40 590.40 L391.20 568.60" stroke="#1d4f78" stroke-width="0.9" fill="none" />
<path d="M349.70 590.40 L368.70 590.40 L387.80 572.30" stroke="#c41c48" stroke-width="0.9" fill="none" />
<circle cx="346.80" cy="590.40" r="1.25" fill="#1d4f78"/>
<path d="M360.04 591.85L361.60 588.91L363.16 591.85Z" stroke="none" stroke-width="1" fill="#1d4f78" />
<path d="M374.84 591.65L376.40 588.71L377.96 591.65Z" stroke="none" stroke-width="1" fill="#1d4f78" />
<circle cx="391.20" cy="568.60" r="1.3125" fill="#1d4f78"/>
<rect x="348.45" y="589.15" width="2.50" height="2.50" fill="#c41c48" />
<path d="M367.14 591.65L368.70 588.71L370.26 591.65Z" stroke="none" stroke-width="1" fill="#c41c48" />
<circle cx="387.80" cy="572.30" r="1.25" fill="#c41c48"/>
<rect x="337.40" y="545.40" width="63.50" height="56.60" fill="none" stroke="#1a1a1a" stroke-width="1.1" />
<text x="398.30" y="599.20" font-size="6.6" text-anchor="end" stroke="#2b2b2b" stroke-width="0.12">24 genes</text>
<line x1="428.60" y1="559.30" x2="431.40" y2="559.30" stroke="#1a1a1a" stroke-width="0.9" />
<text x="427.00" y="561.70" font-size="7.0" text-anchor="end" stroke="#2b2b2b" stroke-width="0.12">0</text>
<line x1="428.60" y1="588.20" x2="431.40" y2="588.20" stroke="#1a1a1a" stroke-width="0.9" />
<text x="427.00" y="590.60" font-size="7.0" text-anchor="end" stroke="#2b2b2b" stroke-width="0.12">−1</text>
<line x1="495.30" y1="559.30" x2="498.10" y2="559.30" stroke="#1a1a1a" stroke-width="0.9" />
<text x="499.30" y="561.70" font-size="7.0" fill="#c41c48" stroke="#c41c48" stroke-width="0.12">0</text>
<line x1="495.30" y1="587.70" x2="498.10" y2="587.70" stroke="#1a1a1a" stroke-width="0.9" />
<text x="499.30" y="590.10" font-size="7.0" fill="#c41c48" stroke="#c41c48" stroke-width="0.12">−1</text>
<text x="463.30" y="540.60" font-size="6.8" text-anchor="middle" stroke="#2b2b2b" stroke-width="0.12">Group #5</text>
<line x1="440.80" y1="556.50" x2="440.80" y2="563.50" stroke="#5f8cb8" stroke-width="0.8" />
<line x1="439.50" y1="556.50" x2="442.10" y2="556.50" stroke="#5f8cb8" stroke-width="0.8" />
<line x1="439.50" y1="563.50" x2="442.10" y2="563.50" stroke="#5f8cb8" stroke-width="0.8" />
<line x1="455.90" y1="553.10" x2="455.90" y2="562.50" stroke="#5f8cb8" stroke-width="0.8" />
<line x1="454.60" y1="553.10" x2="457.20" y2="553.10" stroke="#5f8cb8" stroke-width="0.8" />
<line x1="454.60" y1="562.50" x2="457.20" y2="562.50" stroke="#5f8cb8" stroke-width="0.8" />
<line x1="470.80" y1="555.10" x2="470.80" y2="564.50" stroke="#5f8cb8" stroke-width="0.8" />
<line x1="469.50" y1="555.10" x2="472.10" y2="555.10" stroke="#5f8cb8" stroke-width="0.8" />
<line x1="469.50" y1="564.50" x2="472.10" y2="564.50" stroke="#5f8cb8" stroke-width="0.8" />
<line x1="485.60" y1="577.30" x2="485.60" y2="595.20" stroke="#5f8cb8" stroke-width="0.8" />
<line x1="484.30" y1="577.30" x2="486.90" y2="577.30" stroke="#5f8cb8" stroke-width="0.8" />
<line x1="484.30" y1="595.20" x2="486.90" y2="595.20" stroke="#5f8cb8" stroke-width="0.8" />
<line x1="463.30" y1="554.40" x2="463.30" y2="562.90" stroke="#ec8aa0" stroke-width="0.8" />
<line x1="462.00" y1="554.40" x2="464.60" y2="554.40" stroke="#ec8aa0" stroke-width="0.8" />
<line x1="462.00" y1="562.90" x2="464.60" y2="562.90" stroke="#ec8aa0" stroke-width="0.8" />
<line x1="482.50" y1="563.50" x2="482.50" y2="595.20" stroke="#ec8aa0" stroke-width="0.8" />
<line x1="481.20" y1="563.50" x2="483.80" y2="563.50" stroke="#ec8aa0" stroke-width="0.8" />
<line x1="481.20" y1="595.20" x2="483.80" y2="595.20" stroke="#ec8aa0" stroke-width="0.8" />
<path d="M440.80 559.80 L455.90 558.10 L470.80 560.20 L485.60 586.10" stroke="#1d4f78" stroke-width="0.9" fill="none" />
<path d="M444.20 559.80 L463.30 558.50 L482.50 579.30" stroke="#c41c48" stroke-width="0.9" fill="none" />
<circle cx="440.80" cy="559.80" r="1.25" fill="#1d4f78"/>
<path d="M454.34 559.35L455.90 556.41L457.46 559.35Z" stroke="none" stroke-width="1" fill="#1d4f78" />
<path d="M469.24 561.45L470.80 558.51L472.36 561.45Z" stroke="none" stroke-width="1" fill="#1d4f78" />
<circle cx="485.60" cy="586.10" r="1.3125" fill="#1d4f78"/>
<rect x="442.95" y="558.55" width="2.50" height="2.50" fill="#c41c48" />
<path d="M461.74 559.75L463.30 556.81L464.86 559.75Z" stroke="none" stroke-width="1" fill="#c41c48" />
<circle cx="482.50" cy="579.30" r="1.25" fill="#c41c48"/>
<rect x="431.40" y="545.40" width="63.90" height="56.60" fill="none" stroke="#1a1a1a" stroke-width="1.1" />
<text x="433.10" y="599.60" font-size="6.6" stroke="#2b2b2b" stroke-width="0.12">138 genes</text>
<text x="220.30" y="495.20" font-size="6.6" text-anchor="middle" stroke="#2b2b2b" stroke-width="0.12" transform="rotate(-90 220.30 495.20)">Log<tspan dy="1.5" font-size="4.5">2</tspan><tspan dy="-1.5"> FC</tspan></text>
<text x="223.10" y="570.00" font-size="6.6" text-anchor="middle" stroke="#2b2b2b" stroke-width="0.12" transform="rotate(-90 223.10 570.00)">Log<tspan dy="1.5" font-size="4.5">2</tspan><tspan dy="-1.5"> FC</tspan></text>
<text x="421.70" y="476.50" font-size="6.8" fill="#2a64a6" stroke="#2a64a6" stroke-width="0.12">Hudep2</text>
<text x="421.70" y="484.40" font-size="6.8" fill="#2a64a6" stroke="#2a64a6" stroke-width="0.12">GATA2AS KO</text>
<text x="469.60" y="476.50" font-size="6.8" fill="#c41c48" stroke="#c41c48" stroke-width="0.12">CD34 cell</text>
<text x="469.60" y="484.40" font-size="6.8" fill="#c41c48" stroke="#c41c48" stroke-width="0.12">shGATA2AS-1</text>
<line x1="421.90" y1="493.60" x2="429.40" y2="493.60" stroke="#1d4f78" stroke-width="0.9" />
<circle cx="425.60" cy="493.60" r="1.15" fill="#2a5a88"/>
<text x="433.20" y="496.00" font-size="6.8" stroke="#2b2b2b" stroke-width="0.12">day 0</text>
<line x1="421.90" y1="501.80" x2="429.40" y2="501.80" stroke="#1d4f78" stroke-width="0.9" />
<path d="M424.16 502.95L425.60 500.25L427.04 502.95Z" stroke="none" stroke-width="1" fill="#2a5a88" />
<text x="433.20" y="504.20" font-size="6.8" stroke="#2b2b2b" stroke-width="0.12">day 4</text>
<line x1="421.90" y1="510.40" x2="429.40" y2="510.40" stroke="#1d4f78" stroke-width="0.9" />
<path d="M424.16 511.55L425.60 508.85L427.04 511.55Z" stroke="none" stroke-width="1" fill="#2a5a88" />
<text x="433.20" y="512.80" font-size="6.8" stroke="#2b2b2b" stroke-width="0.12">day 7</text>
<line x1="421.90" y1="518.80" x2="429.40" y2="518.80" stroke="#1d4f78" stroke-width="0.9" />
<circle cx="425.60" cy="518.80" r="1.2075" fill="#2a5a88"/>
<text x="433.20" y="521.20" font-size="6.8" stroke="#2b2b2b" stroke-width="0.12">day 9</text>
<line x1="469.80" y1="496.70" x2="477.50" y2="496.70" stroke="#c41c48" stroke-width="0.9" />
<rect x="472.55" y="495.55" width="2.30" height="2.30" fill="#c41c48" />
<text x="481.20" y="499.10" font-size="6.8" stroke="#2b2b2b" stroke-width="0.12">day 6</text>
<line x1="469.80" y1="505.40" x2="477.50" y2="505.40" stroke="#c41c48" stroke-width="0.9" />
<path d="M472.26 506.55L473.70 503.85L475.14 506.55Z" stroke="none" stroke-width="1" fill="#c41c48" />
<text x="481.20" y="507.80" font-size="6.8" stroke="#2b2b2b" stroke-width="0.12">day 10</text>
<line x1="469.80" y1="514.10" x2="477.50" y2="514.10" stroke="#c41c48" stroke-width="0.9" />
<circle cx="473.70" cy="514.10" r="1.15" fill="#c41c48"/>
<text x="481.20" y="516.50" font-size="6.8" stroke="#2b2b2b" stroke-width="0.12">day 14</text>
<text x="7.60" y="587.70" font-size="12" font-weight="bold" fill="#111">G</text>
<text x="26.20" y="601.90" font-size="8.5" stroke="#2b2b2b" stroke-width="0.12">CD34 vs HUDEP2_erythroid genes (562)</text>
<rect x="109.60" y="615.50" width="29.80" height="7.25" fill="#3aa83a" />
<line x1="106.00" y1="619.12" x2="109.10" y2="619.12" stroke="#1a1a1a" stroke-width="0.9" />
<text x="102.40" y="621.42" font-size="7.05" text-anchor="end" stroke="#2b2b2b" stroke-width="0.12">cellular response to stress</text>
<rect x="109.60" y="626.99" width="31.70" height="7.25" fill="#3aa83a" />
<line x1="106.00" y1="630.62" x2="109.10" y2="630.62" stroke="#1a1a1a" stroke-width="0.9" />
<text x="102.40" y="632.91" font-size="7.05" text-anchor="end" stroke="#2b2b2b" stroke-width="0.12">regulation of cell cycle</text>
<rect x="109.60" y="638.48" width="32.10" height="7.25" fill="#3aa83a" />
<line x1="106.00" y1="642.11" x2="109.10" y2="642.11" stroke="#1a1a1a" stroke-width="0.9" />
<text x="102.40" y="644.40" font-size="7.05" text-anchor="end" stroke="#2b2b2b" stroke-width="0.12">hemoglobin metabolic process</text>
<rect x="109.60" y="649.97" width="39.40" height="7.25" fill="#3aa83a" />
<line x1="106.00" y1="653.60" x2="109.10" y2="653.60" stroke="#1a1a1a" stroke-width="0.9" />
<text x="102.40" y="655.89" font-size="7.05" text-anchor="end" stroke="#2b2b2b" stroke-width="0.12">heme biosynthetic process</text>
<rect x="109.60" y="661.46" width="51.90" height="7.25" fill="#3aa83a" />
<line x1="106.00" y1="665.09" x2="109.10" y2="665.09" stroke="#1a1a1a" stroke-width="0.9" />
<text x="102.40" y="667.38" font-size="7.05" text-anchor="end" stroke="#2b2b2b" stroke-width="0.12">developmental process</text>
<rect x="109.60" y="672.95" width="64.40" height="7.25" fill="#3aa83a" />
<line x1="106.00" y1="676.58" x2="109.10" y2="676.58" stroke="#1a1a1a" stroke-width="0.9" />
<text x="102.40" y="678.88" font-size="7.05" text-anchor="end" stroke="#2b2b2b" stroke-width="0.12">protein metabolic process</text>
<rect x="109.60" y="684.44" width="65.80" height="7.25" fill="#3aa83a" />
<line x1="106.00" y1="688.07" x2="109.10" y2="688.07" stroke="#1a1a1a" stroke-width="0.9" />
<text x="102.40" y="690.37" font-size="7.05" text-anchor="end" stroke="#2b2b2b" stroke-width="0.12">myeloid cell differentiation</text>
<rect x="109.60" y="695.93" width="79.20" height="7.25" fill="#3aa83a" />
<line x1="106.00" y1="699.56" x2="109.10" y2="699.56" stroke="#1a1a1a" stroke-width="0.9" />
<text x="102.40" y="701.86" font-size="7.05" text-anchor="end" stroke="#2b2b2b" stroke-width="0.12">erythrocyte differentiation</text>
<rect x="109.60" y="707.42" width="82.30" height="7.25" fill="#3aa83a" />
<line x1="106.00" y1="711.04" x2="109.10" y2="711.04" stroke="#1a1a1a" stroke-width="0.9" />
<text x="102.40" y="713.34" font-size="7.05" text-anchor="end" stroke="#2b2b2b" stroke-width="0.12">erythrocyte homeostasis</text>
<line x1="109.10" y1="611.30" x2="109.10" y2="719.90" stroke="#1a1a1a" stroke-width="1.1" />
<line x1="108.60" y1="719.40" x2="199.00" y2="719.40" stroke="#1a1a1a" stroke-width="1.1" />
<line x1="108.90" y1="719.40" x2="108.90" y2="722.40" stroke="#1a1a1a" stroke-width="0.9" />
<text x="108.90" y="731.80" font-size="7.4" text-anchor="middle" stroke="#2b2b2b" stroke-width="0.12">0</text>
<line x1="138.60" y1="719.40" x2="138.60" y2="722.40" stroke="#1a1a1a" stroke-width="0.9" />
<text x="138.60" y="731.80" font-size="7.4" text-anchor="middle" stroke="#2b2b2b" stroke-width="0.12">10</text>
<line x1="168.30" y1="719.40" x2="168.30" y2="722.40" stroke="#1a1a1a" stroke-width="0.9" />
<text x="168.30" y="731.80" font-size="7.4" text-anchor="middle" stroke="#2b2b2b" stroke-width="0.12">20</text>
<line x1="198.00" y1="719.40" x2="198.00" y2="722.40" stroke="#1a1a1a" stroke-width="0.9" />
<text x="198.00" y="731.80" font-size="7.4" text-anchor="middle" stroke="#2b2b2b" stroke-width="0.12">30</text>
<text x="155.80" y="742.20" font-size="7.0" text-anchor="middle" stroke="#2b2b2b" stroke-width="0.12">−log<tspan dy="1.6" font-size="4.8">10</tspan><tspan dy="-1.6">(padj)</tspan></text>
<text x="210.40" y="632.80" font-size="12" font-weight="bold" fill="#111">H</text>
<text x="222.60" y="650.90" font-size="6.8" fill="#3a3a3a" stroke="#3a3a3a" stroke-width="0.12">Response</text>
<text x="222.60" y="659.30" font-size="6.8" fill="#3a3a3a" stroke="#3a3a3a" stroke-width="0.12">to stress</text>
<text x="265.00" y="650.90" font-size="6.8" fill="#3a3a3a" stroke="#3a3a3a" stroke-width="0.12">Cell cycle</text>
<text x="304.80" y="650.90" font-size="6.8" fill="#3a3a3a" stroke="#3a3a3a" stroke-width="0.12">Hemoglobin</text>
<text x="304.80" y="659.30" font-size="6.8" fill="#3a3a3a" stroke="#3a3a3a" stroke-width="0.12">process</text>
<text x="356.20" y="650.90" font-size="6.8" fill="#3a3a3a" stroke="#3a3a3a" stroke-width="0.12">Heme</text>
<text x="356.20" y="659.30" font-size="6.8" fill="#3a3a3a" stroke="#3a3a3a" stroke-width="0.12">process</text>
<text x="393.60" y="650.90" font-size="6.8" fill="#3a3a3a" stroke="#3a3a3a" stroke-width="0.12">Erythrocyte</text>
<text x="393.60" y="659.30" font-size="6.8" fill="#3a3a3a" stroke="#3a3a3a" stroke-width="0.12">Differentiation/</text>
<text x="393.60" y="667.70" font-size="6.8" fill="#3a3a3a" stroke="#3a3a3a" stroke-width="0.12">homeostasis</text>
<line x1="258.40" y1="639.40" x2="258.40" y2="726.20" stroke="#5b7fb0" stroke-width="0.9" />
<line x1="299.50" y1="639.40" x2="299.50" y2="726.20" stroke="#5b7fb0" stroke-width="0.9" />
<line x1="349.20" y1="639.40" x2="349.20" y2="726.20" stroke="#5b7fb0" stroke-width="0.9" />
<line x1="387.40" y1="639.40" x2="387.40" y2="726.20" stroke="#5b7fb0" stroke-width="0.9" />
<line x1="218.50" y1="670.30" x2="442.30" y2="670.30" stroke="#5b7fb0" stroke-width="0.9" />
<text x="225.80" y="681.60" font-size="6.8" stroke="#2b2b2b" stroke-width="0.12">CPEB4</text>
<text x="225.80" y="689.80" font-size="6.8" stroke="#2b2b2b" stroke-width="0.12">MYB</text>
<text x="225.80" y="698.00" font-size="6.8" stroke="#2b2b2b" stroke-width="0.12">BRAF</text>
<text x="225.80" y="706.20" font-size="6.8" stroke="#2b2b2b" stroke-width="0.12">VEGFA</text>
<text x="225.80" y="714.40" font-size="6.8" stroke="#2b2b2b" stroke-width="0.12">SMAD4</text>
<text x="263.50" y="681.60" font-size="6.8" stroke="#2b2b2b" stroke-width="0.12">CDKN2C</text>
<text x="263.50" y="689.80" font-size="6.8" stroke="#2b2b2b" stroke-width="0.12">ATP2B4</text>
<text x="263.50" y="698.00" font-size="6.8" stroke="#2b2b2b" stroke-width="0.12">KIF23</text>
<text x="263.50" y="706.20" font-size="6.8" stroke="#2b2b2b" stroke-width="0.12">BCL6</text>
<text x="263.50" y="714.40" font-size="6.8" stroke="#2b2b2b" stroke-width="0.12">GFI1B</text>
<text x="263.50" y="722.60" font-size="6.8" stroke="#2b2b2b" stroke-width="0.12">CDKN1B</text>
<text x="306.00" y="681.60" font-size="6.8" stroke="#2b2b2b" stroke-width="0.12">AHSP</text>
<text x="306.00" y="689.80" font-size="6.8" stroke="#2b2b2b" stroke-width="0.12">EPB42</text>
<text x="306.00" y="698.00" font-size="6.8" stroke="#2b2b2b" stroke-width="0.12">EIF2AK1</text>
<text x="306.00" y="706.20" font-size="6.8" stroke="#2b2b2b" stroke-width="0.12">SLC25A37</text>
<text x="356.80" y="681.60" font-size="6.8" stroke="#2b2b2b" stroke-width="0.12">ALAS2</text>
<text x="356.80" y="689.80" font-size="6.8" stroke="#2b2b2b" stroke-width="0.12">CPOX</text>
<text x="356.80" y="698.00" font-size="6.8" stroke="#2b2b2b" stroke-width="0.12">FECH</text>
<text x="356.80" y="706.20" font-size="6.8" stroke="#2b2b2b" stroke-width="0.12">PPOX</text>
<text x="356.80" y="714.40" font-size="6.8" stroke="#2b2b2b" stroke-width="0.12">UROS</text>
<text x="356.80" y="722.60" font-size="6.8" stroke="#2b2b2b" stroke-width="0.12">ALAD</text>
<text x="400.30" y="681.60" font-size="6.8" stroke="#2b2b2b" stroke-width="0.12">CITED2</text>
<text x="400.30" y="689.80" font-size="6.8" stroke="#2b2b2b" stroke-width="0.12">KLF1</text>
<text x="400.30" y="698.00" font-size="6.8" stroke="#2b2b2b" stroke-width="0.12">FOXO3</text>
<text x="400.30" y="706.20" font-size="6.8" stroke="#2b2b2b" stroke-width="0.12">EPOR</text>
<text x="400.30" y="714.40" font-size="6.8" stroke="#2b2b2b" stroke-width="0.12">HSPA9</text>
<text x="400.30" y="722.60" font-size="6.8" stroke="#2b2b2b" stroke-width="0.12">ADD1</text>
<rect x="0.5" y="0.5" width="519" height="752" fill="none" stroke="#555" stroke-width="1.2"/>
</svg>
</body></html>
